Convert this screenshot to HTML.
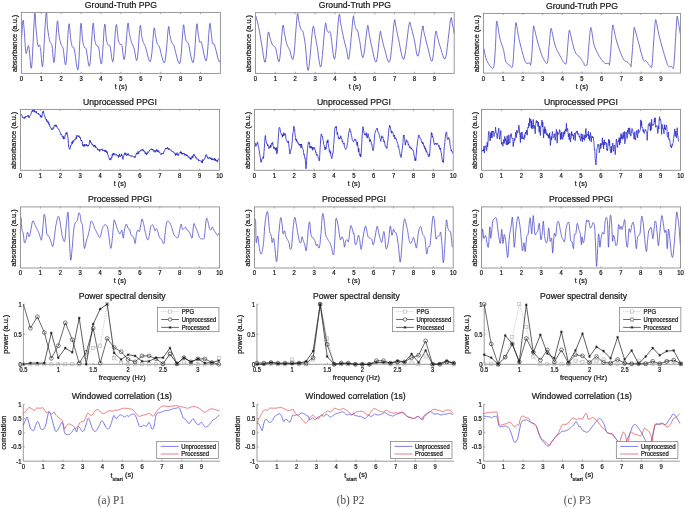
<!DOCTYPE html>
<html><head><meta charset="utf-8"><title>PPG figure</title>
<style>html,body{margin:0;padding:0;background:#fff;}body{width:685px;height:508px;overflow:hidden;}svg{display:block;}</style>
</head><body>
<svg width="685" height="508" viewBox="0 0 685 508">
<rect width="100%" height="100%" fill="#ffffff"/>
<polyline points="21.5,38.3 21.7,36.0 21.9,32.7 22.2,28.8 22.4,25.1 22.7,22.1 23.0,20.4 23.2,20.2 23.4,20.9 23.6,22.3 23.7,24.3 23.9,26.7 24.2,29.4 24.4,32.8 24.7,37.4 25.0,42.3 25.3,47.0 25.6,50.8 26.0,53.2 26.3,53.6 26.7,52.6 27.1,50.7 27.5,48.5 27.9,46.7 28.2,45.7 28.4,45.5 28.6,45.6 28.7,46.0 28.8,46.8 29.0,47.9 29.2,49.5 29.5,52.4 29.9,57.0 30.3,61.9 30.7,66.1 31.2,68.3 31.6,67.3 32.1,61.8 32.6,52.4 33.2,41.1 33.7,29.7 34.2,20.2 34.6,14.5 34.9,13.0 35.2,14.4 35.4,17.6 35.6,21.8 35.8,26.0 36.1,29.4 36.4,32.2 36.7,35.3 37.0,38.5 37.3,41.5 37.6,44.0 37.9,45.7 38.2,46.5 38.5,46.5 38.8,46.0 39.1,45.3 39.4,44.9 39.7,45.0 39.9,45.6 40.1,46.4 40.2,47.4 40.4,48.7 40.6,50.1 40.8,51.7 41.1,54.3 41.4,58.2 41.7,62.2 42.0,65.5 42.4,66.9 42.8,65.4 43.3,59.7 43.8,50.3 44.4,39.1 45.0,27.9 45.6,18.6 46.1,13.0 46.4,12.4 46.7,13.0 46.9,16.3 47.1,20.5 47.3,24.7 47.5,27.9 47.9,30.3 48.2,32.8 48.6,35.2 49.0,37.5 49.4,39.6 49.8,41.3 50.2,42.4 50.5,43.0 50.9,43.3 51.3,43.7 51.6,44.4 52.0,45.7 52.4,48.4 52.7,52.4 53.1,56.7 53.4,60.4 53.8,62.5 54.2,62.1 54.7,58.0 55.2,50.8 55.8,42.0 56.3,33.2 56.8,25.9 57.2,21.6 57.6,20.8 57.9,22.3 58.2,25.4 58.4,29.1 58.7,32.7 59.0,35.3 59.3,37.1 59.6,38.8 60.0,40.4 60.3,41.8 60.6,43.1 60.9,44.2 61.3,45.1 61.7,45.7 62.0,46.1 62.4,46.6 62.8,47.4 63.2,48.7 63.6,51.3 64.0,55.2 64.5,59.3 64.9,62.8 65.4,64.8 65.9,64.3 66.4,60.3 66.9,53.2 67.4,44.5 67.9,35.8 68.4,28.6 68.8,24.4 69.2,23.7 69.5,25.3 69.8,28.4 70.1,32.1 70.4,35.7 70.6,38.3 70.9,40.0 71.1,41.6 71.3,43.1 71.6,44.3 71.8,45.5 72.1,46.5 72.4,47.1 72.7,47.2 73.1,47.2 73.5,47.4 73.9,48.0 74.3,49.5 74.9,52.6 75.5,57.3 76.2,62.5 76.9,67.1 77.5,69.8 78.1,69.6 78.6,65.1 79.1,57.0 79.5,47.1 80.0,37.2 80.4,28.9 80.8,24.1 81.1,23.3 81.4,25.1 81.7,28.7 82.0,32.9 82.2,36.9 82.5,39.8 82.8,41.6 83.1,43.1 83.4,44.3 83.7,45.4 84.0,46.4 84.3,47.2 84.6,47.7 84.9,47.8 85.2,47.8 85.5,47.9 85.8,48.3 86.3,49.5 86.7,52.0 87.3,56.0 87.9,60.4 88.5,64.2 89.1,66.3 89.7,65.8 90.3,61.5 90.8,54.0 91.4,44.8 92.0,35.6 92.5,28.0 93.0,23.7 93.3,23.1 93.7,25.1 93.9,28.7 94.2,33.0 94.5,37.0 94.7,39.8 95.1,41.4 95.4,42.7 95.7,43.7 96.0,44.5 96.4,45.1 96.7,45.7 97.0,46.1 97.3,46.0 97.6,45.8 97.9,45.8 98.2,46.2 98.6,47.2 99.1,49.7 99.5,53.6 100.0,57.9 100.6,61.7 101.1,63.9 101.6,63.6 102.1,59.7 102.6,52.7 103.2,44.2 103.7,35.6 104.1,28.6 104.6,24.6 104.9,24.1 105.3,26.0 105.5,29.4 105.8,33.4 106.1,37.2 106.4,39.8 106.7,41.3 107.0,42.4 107.2,43.2 107.5,43.9 107.8,44.5 108.1,45.0 108.4,45.3 108.7,45.3 109.0,45.1 109.4,45.1 109.7,45.5 110.1,46.5 110.5,48.8 111.0,52.4 111.5,56.3 112.0,59.7 112.6,61.7 113.1,61.4 113.6,57.7 114.1,51.1 114.6,43.1 115.1,35.1 115.6,28.6 116.0,24.9 116.5,24.5 116.9,26.4 117.2,29.8 117.6,33.7 117.9,37.3 118.3,39.8 118.6,41.2 118.9,42.2 119.2,42.9 119.5,43.5 119.8,43.9 120.0,44.2 120.1,44.5 120.2,44.5 120.3,44.4 120.3,44.3 120.4,44.2 120.5,44.2 120.7,44.3 120.9,44.2 121.1,44.2 121.4,44.3 121.7,44.8 122.0,45.7 122.3,47.8 122.7,51.1 123.1,54.7 123.5,57.8 124.0,59.6 124.5,59.1 125.0,55.6 125.6,49.5 126.2,42.0 126.8,34.4 127.3,28.0 127.7,24.1 128.1,23.0 128.4,23.6 128.6,25.5 128.8,28.0 129.0,30.4 129.2,32.3 129.5,33.8 129.8,35.3 130.1,36.8 130.4,38.4 130.8,39.9 131.2,41.3 131.6,42.6 132.1,43.7 132.6,44.9 133.1,46.0 133.6,47.3 134.1,48.7 134.6,50.9 135.1,53.8 135.6,56.9 136.1,59.4 136.6,60.6 137.1,59.9 137.6,56.4 138.2,50.4 138.7,43.1 139.2,35.8 139.7,29.7 140.1,26.1 140.4,25.2 140.7,26.1 140.9,28.2 141.1,30.8 141.4,33.4 141.6,35.3 141.8,36.6 142.1,37.8 142.3,39.0 142.5,40.0 142.8,41.1 143.1,42.0 143.4,42.8 143.7,43.3 144.0,43.7 144.3,44.3 144.8,45.2 145.3,46.5 146.0,48.9 146.9,52.4 147.8,56.2 148.8,59.5 149.7,61.5 150.5,61.4 151.2,58.3 151.9,52.7 152.5,45.8 153.0,38.7 153.5,32.8 153.9,29.1 154.3,27.8 154.6,28.2 154.8,29.7 155.0,31.7 155.2,33.7 155.4,35.3 155.7,36.6 156.0,38.1 156.3,39.6 156.6,41.0 156.9,42.4 157.2,43.5 157.5,44.2 157.8,44.6 158.1,44.9 158.5,45.3 158.9,46.0 159.5,47.2 160.2,49.7 161.0,53.3 162.0,57.2 162.9,60.6 163.9,62.6 164.7,62.4 165.4,59.0 166.1,52.9 166.8,45.5 167.4,37.9 167.9,31.5 168.4,27.6 168.8,26.4 169.0,27.0 169.2,28.8 169.4,31.2 169.6,33.5 169.9,35.3 170.2,36.6 170.5,38.0 170.8,39.3 171.1,40.6 171.5,41.8 171.8,42.8 172.1,43.3 172.4,43.5 172.6,43.6 172.9,43.8 173.3,44.4 173.9,45.7 174.7,48.5 175.7,52.5 176.8,57.0 177.9,61.0 179.0,63.4 179.9,63.3 180.6,59.8 181.3,53.3 181.8,45.3 182.4,37.2 182.9,30.3 183.3,26.1 183.6,24.8 183.9,25.3 184.1,27.2 184.3,29.6 184.5,32.0 184.8,33.8 185.0,35.1 185.2,36.5 185.5,37.8 185.7,39.1 186.0,40.3 186.3,41.3 186.6,41.8 186.9,42.0 187.2,42.1 187.5,42.3 188.0,42.9 188.5,44.2 189.2,47.0 189.9,51.2 190.8,55.9 191.7,59.9 192.5,62.4 193.3,62.4 193.9,58.8 194.6,52.3 195.2,44.2 195.7,36.0 196.2,29.1 196.7,24.9 197.0,23.7 197.3,24.5 197.5,26.5 197.7,29.2 197.9,31.8 198.2,33.8 198.4,35.3 198.7,36.9 198.9,38.4 199.1,39.9 199.4,41.1 199.7,42.0 199.9,42.4 200.2,42.2 200.4,41.8 200.7,41.5 201.1,41.7 201.6,42.8 202.2,45.4 203.0,49.4 203.9,54.0 204.8,58.0 205.6,60.6 206.4,60.6 207.0,57.2 207.6,51.0 208.2,43.2 208.7,35.4 209.2,28.7 209.6,24.6 210.0,23.3 210.3,23.8 210.5,25.5 210.7,27.9 210.9,30.3 211.1,32.3 211.4,34.1 211.6,36.2 211.8,38.3 212.1,40.4 212.3,42.2 212.6,43.5 212.9,44.1 213.1,44.1 213.4,43.9 213.7,43.7 214.1,44.0 214.6,45.0 215.2,47.3 216.1,50.7 217.0,54.6 217.9,58.2 218.7,60.9 219.5,62.1 220.1,61.3 220.4,59.8" fill="none" stroke="#4c4cc8" stroke-width="0.8" stroke-linejoin="round" />
<rect x="21.40" y="12.40" width="199.00" height="61.00" fill="none" stroke="#8e8e8e" stroke-width="0.9"/>
<line x1="41.30" y1="73.40" x2="41.30" y2="71.80" stroke="#8e8e8e" stroke-width="0.8"/>
<line x1="41.30" y1="12.40" x2="41.30" y2="14.00" stroke="#8e8e8e" stroke-width="0.8"/>
<line x1="61.20" y1="73.40" x2="61.20" y2="71.80" stroke="#8e8e8e" stroke-width="0.8"/>
<line x1="61.20" y1="12.40" x2="61.20" y2="14.00" stroke="#8e8e8e" stroke-width="0.8"/>
<line x1="81.10" y1="73.40" x2="81.10" y2="71.80" stroke="#8e8e8e" stroke-width="0.8"/>
<line x1="81.10" y1="12.40" x2="81.10" y2="14.00" stroke="#8e8e8e" stroke-width="0.8"/>
<line x1="101.00" y1="73.40" x2="101.00" y2="71.80" stroke="#8e8e8e" stroke-width="0.8"/>
<line x1="101.00" y1="12.40" x2="101.00" y2="14.00" stroke="#8e8e8e" stroke-width="0.8"/>
<line x1="120.90" y1="73.40" x2="120.90" y2="71.80" stroke="#8e8e8e" stroke-width="0.8"/>
<line x1="120.90" y1="12.40" x2="120.90" y2="14.00" stroke="#8e8e8e" stroke-width="0.8"/>
<line x1="140.80" y1="73.40" x2="140.80" y2="71.80" stroke="#8e8e8e" stroke-width="0.8"/>
<line x1="140.80" y1="12.40" x2="140.80" y2="14.00" stroke="#8e8e8e" stroke-width="0.8"/>
<line x1="160.70" y1="73.40" x2="160.70" y2="71.80" stroke="#8e8e8e" stroke-width="0.8"/>
<line x1="160.70" y1="12.40" x2="160.70" y2="14.00" stroke="#8e8e8e" stroke-width="0.8"/>
<line x1="180.60" y1="73.40" x2="180.60" y2="71.80" stroke="#8e8e8e" stroke-width="0.8"/>
<line x1="180.60" y1="12.40" x2="180.60" y2="14.00" stroke="#8e8e8e" stroke-width="0.8"/>
<line x1="200.50" y1="73.40" x2="200.50" y2="71.80" stroke="#8e8e8e" stroke-width="0.8"/>
<line x1="200.50" y1="12.40" x2="200.50" y2="14.00" stroke="#8e8e8e" stroke-width="0.8"/>
<text font-size="5.90" text-anchor="middle" fill="#1a1a1a" stroke="#1a1a1a" stroke-width="0.22" font-family="'Liberation Sans', Arial, Helvetica, sans-serif" transform="translate(21.40 80.80) scale(1 1.100)" >0</text>
<text font-size="5.90" text-anchor="middle" fill="#1a1a1a" stroke="#1a1a1a" stroke-width="0.22" font-family="'Liberation Sans', Arial, Helvetica, sans-serif" transform="translate(41.30 80.80) scale(1 1.100)" >1</text>
<text font-size="5.90" text-anchor="middle" fill="#1a1a1a" stroke="#1a1a1a" stroke-width="0.22" font-family="'Liberation Sans', Arial, Helvetica, sans-serif" transform="translate(61.20 80.80) scale(1 1.100)" >2</text>
<text font-size="5.90" text-anchor="middle" fill="#1a1a1a" stroke="#1a1a1a" stroke-width="0.22" font-family="'Liberation Sans', Arial, Helvetica, sans-serif" transform="translate(81.10 80.80) scale(1 1.100)" >3</text>
<text font-size="5.90" text-anchor="middle" fill="#1a1a1a" stroke="#1a1a1a" stroke-width="0.22" font-family="'Liberation Sans', Arial, Helvetica, sans-serif" transform="translate(101.00 80.80) scale(1 1.100)" >4</text>
<text font-size="5.90" text-anchor="middle" fill="#1a1a1a" stroke="#1a1a1a" stroke-width="0.22" font-family="'Liberation Sans', Arial, Helvetica, sans-serif" transform="translate(120.90 80.80) scale(1 1.100)" >5</text>
<text font-size="5.90" text-anchor="middle" fill="#1a1a1a" stroke="#1a1a1a" stroke-width="0.22" font-family="'Liberation Sans', Arial, Helvetica, sans-serif" transform="translate(140.80 80.80) scale(1 1.100)" >6</text>
<text font-size="5.90" text-anchor="middle" fill="#1a1a1a" stroke="#1a1a1a" stroke-width="0.22" font-family="'Liberation Sans', Arial, Helvetica, sans-serif" transform="translate(160.70 80.80) scale(1 1.100)" >7</text>
<text font-size="5.90" text-anchor="middle" fill="#1a1a1a" stroke="#1a1a1a" stroke-width="0.22" font-family="'Liberation Sans', Arial, Helvetica, sans-serif" transform="translate(180.60 80.80) scale(1 1.100)" >8</text>
<text font-size="5.90" text-anchor="middle" fill="#1a1a1a" stroke="#1a1a1a" stroke-width="0.22" font-family="'Liberation Sans', Arial, Helvetica, sans-serif" transform="translate(200.50 80.80) scale(1 1.100)" >9</text>
<text font-size="7.20" text-anchor="middle" fill="#1a1a1a" stroke="#1a1a1a" stroke-width="0.22" font-family="'Liberation Sans', Arial, Helvetica, sans-serif" transform="translate(120.90 88.80) scale(1 1.100)" >t (s)</text>
<text font-size="8.65" text-anchor="middle" fill="#1a1a1a" stroke="#1a1a1a" stroke-width="0.22" font-family="'Liberation Sans', Arial, Helvetica, sans-serif" transform="translate(120.90 8.00) scale(1 1.100)" >Ground-Truth PPG</text>
<text x="0" y="0" font-size="6.70" text-anchor="middle" fill="#1a1a1a" stroke="#1a1a1a" stroke-width="0.22" font-family="'Liberation Sans', Arial, Helvetica, sans-serif" transform="translate(17.10 43.40) rotate(-90) scale(1.090 1)">absorbance (a.u.)</text>
<polyline points="20.7,114.0 21.0,115.0 21.3,114.9 21.6,115.2 21.9,115.2 22.2,116.1 22.5,117.5 22.8,117.4 23.1,118.1 23.4,117.9 23.7,118.2 24.0,118.2 24.3,116.9 24.6,118.6 24.9,118.2 25.2,118.0 25.5,116.2 25.8,116.0 26.1,116.4 26.4,116.5 26.7,116.8 27.0,116.3 27.3,116.5 27.6,115.5 27.9,116.0 28.2,116.0 28.5,115.4 28.8,117.6 29.1,117.2 29.4,117.7 29.7,116.2 30.0,115.6 30.3,115.2 30.6,114.7 30.9,114.4 31.2,113.4 31.5,112.2 31.8,111.2 32.1,110.9 32.4,111.6 32.7,109.9 33.0,110.5 33.3,110.7 33.6,109.6 33.9,111.0 34.2,112.2 34.5,110.3 34.8,111.7 35.1,112.0 35.4,111.6 35.7,112.6 36.0,112.2 36.3,111.3 36.6,113.0 36.9,113.1 37.2,113.5 37.5,114.0 37.8,113.6 38.1,113.7 38.4,113.1 38.7,114.7 39.0,114.2 39.3,114.6 39.6,114.4 39.9,114.9 40.2,115.6 40.5,117.2 40.8,115.2 41.1,115.7 41.4,116.9 41.7,117.5 42.0,116.2 42.3,113.4 42.6,111.7 42.9,112.6 43.2,111.2 43.5,111.2 43.8,113.4 44.1,114.4 44.4,114.7 44.7,115.8 45.0,116.9 45.3,118.6 45.6,118.8 45.9,119.5 46.2,120.1 46.5,119.2 46.8,121.7 47.1,121.9 47.4,122.0 47.7,120.7 48.0,122.0 48.3,123.4 48.6,122.0 48.9,123.6 49.2,125.0 49.5,123.9 49.8,126.6 50.1,126.5 50.4,126.7 50.7,127.7 51.0,128.5 51.3,128.5 51.6,129.6 51.9,128.6 52.2,128.7 52.5,129.6 52.8,128.6 53.1,127.6 53.4,128.4 53.7,128.3 54.0,126.4 54.3,125.2 54.6,125.7 54.9,125.3 55.2,125.0 55.5,126.2 55.8,124.7 56.1,126.6 56.4,125.2 56.7,125.8 57.0,127.2 57.3,127.9 57.6,128.1 57.9,128.1 58.2,128.4 58.5,128.9 58.8,129.7 59.1,129.8 59.4,130.7 59.7,131.5 60.0,131.7 60.3,132.9 60.6,133.4 60.9,135.0 61.2,134.4 61.5,134.5 61.8,135.0 62.1,135.8 62.4,137.0 62.7,136.6 63.0,137.6 63.3,139.1 63.6,136.4 63.9,137.8 64.2,138.9 64.5,138.8 64.8,137.6 65.1,135.0 65.4,134.7 65.7,133.9 66.0,132.8 66.3,134.4 66.6,132.8 66.9,132.3 67.2,133.2 67.5,134.5 67.8,137.1 68.1,138.4 68.4,143.2 68.7,147.0 69.0,147.2 69.3,148.7 69.6,149.4 69.9,149.0 70.2,148.7 70.5,145.6 70.8,145.7 71.1,145.0 71.4,145.0 71.7,144.8 72.0,141.7 72.3,143.8 72.6,141.5 72.9,142.5 73.2,140.5 73.5,141.2 73.8,141.5 74.1,140.1 74.4,140.0 74.7,140.0 75.0,139.2 75.3,138.6 75.6,139.3 75.9,138.6 76.2,137.1 76.5,138.6 76.8,135.4 77.1,136.5 77.4,135.6 77.7,135.9 78.0,136.4 78.3,136.3 78.6,136.8 78.9,135.6 79.2,135.9 79.5,137.7 79.8,137.0 80.1,137.3 80.4,137.5 80.7,139.9 81.0,140.0 81.3,141.1 81.6,140.0 81.9,141.4 82.2,141.6 82.5,144.2 82.8,145.8 83.1,144.6 83.4,146.6 83.7,146.3 84.0,145.4 84.3,144.1 84.6,146.3 84.9,145.1 85.2,144.6 85.5,145.2 85.8,145.1 86.1,145.8 86.4,144.0 86.7,145.6 87.0,146.0 87.3,146.2 87.6,145.2 87.9,145.0 88.2,146.3 88.5,145.5 88.8,144.9 89.1,144.8 89.4,142.6 89.7,140.4 90.0,141.5 90.3,140.5 90.6,142.6 90.9,142.6 91.2,142.3 91.5,143.1 91.8,144.1 92.1,143.9 92.4,145.1 92.7,144.5 93.0,145.6 93.3,146.2 93.6,146.6 93.9,145.3 94.2,146.6 94.5,145.0 94.8,145.8 95.1,145.4 95.4,147.7 95.7,146.3 96.0,147.4 96.3,147.5 96.6,147.8 96.9,147.6 97.2,148.5 97.5,149.8 97.8,148.9 98.1,149.6 98.4,150.3 98.7,149.8 99.0,149.4 99.3,150.1 99.6,151.4 99.9,149.4 100.2,149.8 100.5,150.4 100.8,149.9 101.1,149.2 101.4,149.8 101.7,149.5 102.0,148.8 102.3,148.8 102.6,149.7 102.9,151.0 103.2,150.2 103.5,150.1 103.8,150.4 104.1,150.0 104.4,151.1 104.7,150.5 105.0,151.7 105.3,149.9 105.6,151.9 105.9,151.4 106.2,150.7 106.5,152.8 106.8,152.4 107.1,151.5 107.4,153.0 107.7,154.4 108.0,154.5 108.3,156.1 108.6,156.9 108.9,157.7 109.2,158.2 109.5,159.6 109.8,159.7 110.1,159.9 110.4,158.2 110.7,159.9 111.0,159.6 111.3,157.7 111.6,156.9 111.9,157.7 112.2,154.2 112.5,154.9 112.8,155.6 113.1,153.0 113.4,154.0 113.7,154.9 114.0,153.6 114.3,154.2 114.6,154.7 114.9,153.6 115.2,154.3 115.5,154.7 115.8,155.3 116.1,154.9 116.4,154.9 116.7,154.5 117.0,155.2 117.3,156.2 117.6,155.8 117.9,155.2 118.2,155.3 118.5,157.7 118.8,156.7 119.1,156.3 119.4,153.9 119.7,156.1 120.0,155.9 120.3,156.7 120.6,155.7 120.9,155.3 121.2,155.6 121.5,153.8 121.8,155.9 122.1,155.4 122.4,156.7 122.7,158.8 123.0,159.4 123.3,157.0 123.6,156.3 123.9,155.4 124.2,154.2 124.5,153.3 124.8,152.8 125.1,155.0 125.4,154.4 125.7,153.0 126.0,153.1 126.3,155.4 126.6,155.1 126.9,155.7 127.2,155.1 127.5,154.1 127.8,155.0 128.1,153.4 128.4,154.4 128.7,155.0 129.0,155.5 129.3,154.8 129.6,155.3 129.9,155.8 130.2,155.8 130.5,156.1 130.8,155.9 131.1,155.6 131.4,156.5 131.7,156.1 132.0,155.6 132.3,155.8 132.6,156.4 132.9,156.4 133.2,156.7 133.5,156.7 133.8,157.0 134.1,157.1 134.4,156.5 134.7,157.7 135.0,157.9 135.3,156.9 135.6,155.7 135.9,155.5 136.2,153.9 136.5,152.9 136.8,154.0 137.1,153.2 137.4,154.2 137.7,152.7 138.0,151.5 138.3,152.4 138.6,154.0 138.9,152.3 139.2,151.2 139.5,151.2 139.8,151.6 140.1,151.2 140.4,150.5 140.7,151.1 141.0,150.2 141.3,149.5 141.6,149.8 141.9,150.5 142.2,150.1 142.5,150.3 142.8,149.0 143.1,150.0 143.4,150.8 143.7,150.4 144.0,151.7 144.3,151.6 144.6,152.1 144.9,151.6 145.2,153.9 145.5,153.3 145.8,152.5 146.1,153.0 146.4,155.0 146.7,153.1 147.0,154.0 147.3,153.9 147.6,153.0 147.9,151.8 148.2,152.3 148.5,152.1 148.8,152.2 149.1,151.5 149.4,150.5 149.7,150.7 150.0,150.0 150.3,149.5 150.6,149.2 150.9,148.9 151.2,149.7 151.5,148.8 151.8,149.4 152.1,150.0 152.4,149.2 152.7,150.2 153.0,149.3 153.3,150.5 153.6,151.6 153.9,151.7 154.2,151.4 154.5,151.2 154.8,150.3 155.1,152.4 155.4,151.4 155.7,151.6 156.0,150.1 156.3,150.5 156.6,149.4 156.9,151.4 157.2,151.7 157.5,149.9 157.8,151.4 158.1,152.2 158.4,150.7 158.7,150.9 159.0,151.6 159.3,152.2 159.6,151.9 159.9,153.1 160.2,153.4 160.5,153.9 160.8,154.1 161.1,154.8 161.4,154.7 161.7,153.1 162.0,153.7 162.3,153.4 162.6,153.4 162.9,154.0 163.2,153.9 163.5,153.8 163.8,151.7 164.1,151.2 164.4,151.2 164.7,150.4 165.0,149.6 165.3,149.1 165.6,148.1 165.9,148.9 166.2,148.7 166.5,148.5 166.8,148.3 167.1,148.8 167.4,147.2 167.7,148.5 168.0,149.3 168.3,148.3 168.6,149.5 168.9,149.5 169.2,148.5 169.5,149.4 169.8,149.4 170.1,150.0 170.4,150.3 170.7,150.0 171.0,149.6 171.3,150.4 171.6,150.8 171.9,151.7 172.2,151.7 172.5,151.4 172.8,151.2 173.1,152.1 173.4,152.1 173.7,152.1 174.0,153.0 174.3,152.9 174.6,153.5 174.9,153.9 175.2,153.4 175.5,155.5 175.8,153.7 176.1,154.8 176.4,154.3 176.7,155.0 177.0,152.7 177.3,153.9 177.6,154.6 177.9,154.8 178.2,155.9 178.5,154.3 178.8,154.5 179.1,153.5 179.4,153.2 179.7,152.7 180.0,152.2 180.3,152.6 180.6,151.6 180.9,153.3 181.2,151.8 181.5,152.9 181.8,154.3 182.1,152.9 182.4,153.2 182.7,154.2 183.0,153.5 183.3,153.1 183.6,154.0 183.9,154.3 184.2,154.4 184.5,153.5 184.8,155.3 185.1,155.4 185.4,154.4 185.7,154.7 186.0,154.4 186.3,155.9 186.6,154.7 186.9,155.9 187.2,155.3 187.5,155.4 187.8,156.6 188.1,157.3 188.4,156.6 188.7,156.3 189.0,157.6 189.3,157.3 189.6,157.8 189.9,158.9 190.2,158.8 190.5,157.7 190.8,159.7 191.1,158.0 191.4,158.4 191.7,157.2 192.0,157.4 192.3,155.9 192.6,158.1 192.9,157.6 193.2,155.5 193.5,154.9 193.8,154.3 194.1,156.0 194.4,154.8 194.7,155.5 195.0,156.0 195.3,156.9 195.6,156.9 195.9,158.1 196.2,157.4 196.5,158.6 196.8,159.1 197.1,159.4 197.4,159.0 197.7,158.7 198.0,159.6 198.3,159.4 198.6,161.1 198.9,160.8 199.2,160.4 199.5,160.4 199.8,160.4 200.1,160.4 200.4,160.8 200.7,161.3 201.0,161.5 201.3,161.5 201.6,162.6 201.9,160.5 202.2,161.0 202.5,162.8 202.8,159.4 203.1,160.1 203.4,160.4 203.7,160.1 204.0,159.8 204.3,158.9 204.6,158.8 204.9,158.0 205.2,157.9 205.5,155.4 205.8,155.5 206.1,155.2 206.4,154.5 206.7,155.1 207.0,157.1 207.3,156.9 207.6,158.3 207.9,158.7 208.2,158.5 208.5,158.7 208.8,158.2 209.1,157.2 209.4,158.1 209.7,158.4 210.0,157.7 210.3,158.1 210.6,158.8 210.9,157.7 211.2,158.9 211.5,159.9 211.8,158.3 212.1,158.9 212.4,158.8 212.7,160.1 213.0,159.3 213.3,159.8 213.6,158.8 213.9,159.4 214.2,159.5 214.5,158.4 214.8,160.7 215.1,160.5 215.4,158.8 215.7,160.7 216.0,160.3 216.3,160.9 216.6,161.1 216.9,159.9 217.2,160.9 217.5,162.1 217.8,160.5 218.1,159.8 218.4,159.0 218.7,158.5" fill="none" stroke="#2323c4" stroke-width="0.85" stroke-linejoin="round" />
<rect x="20.50" y="109.40" width="199.00" height="60.90" fill="none" stroke="#8e8e8e" stroke-width="0.9"/>
<line x1="40.40" y1="170.30" x2="40.40" y2="168.70" stroke="#8e8e8e" stroke-width="0.8"/>
<line x1="40.40" y1="109.40" x2="40.40" y2="111.00" stroke="#8e8e8e" stroke-width="0.8"/>
<line x1="60.30" y1="170.30" x2="60.30" y2="168.70" stroke="#8e8e8e" stroke-width="0.8"/>
<line x1="60.30" y1="109.40" x2="60.30" y2="111.00" stroke="#8e8e8e" stroke-width="0.8"/>
<line x1="80.20" y1="170.30" x2="80.20" y2="168.70" stroke="#8e8e8e" stroke-width="0.8"/>
<line x1="80.20" y1="109.40" x2="80.20" y2="111.00" stroke="#8e8e8e" stroke-width="0.8"/>
<line x1="100.10" y1="170.30" x2="100.10" y2="168.70" stroke="#8e8e8e" stroke-width="0.8"/>
<line x1="100.10" y1="109.40" x2="100.10" y2="111.00" stroke="#8e8e8e" stroke-width="0.8"/>
<line x1="120.00" y1="170.30" x2="120.00" y2="168.70" stroke="#8e8e8e" stroke-width="0.8"/>
<line x1="120.00" y1="109.40" x2="120.00" y2="111.00" stroke="#8e8e8e" stroke-width="0.8"/>
<line x1="139.90" y1="170.30" x2="139.90" y2="168.70" stroke="#8e8e8e" stroke-width="0.8"/>
<line x1="139.90" y1="109.40" x2="139.90" y2="111.00" stroke="#8e8e8e" stroke-width="0.8"/>
<line x1="159.80" y1="170.30" x2="159.80" y2="168.70" stroke="#8e8e8e" stroke-width="0.8"/>
<line x1="159.80" y1="109.40" x2="159.80" y2="111.00" stroke="#8e8e8e" stroke-width="0.8"/>
<line x1="179.70" y1="170.30" x2="179.70" y2="168.70" stroke="#8e8e8e" stroke-width="0.8"/>
<line x1="179.70" y1="109.40" x2="179.70" y2="111.00" stroke="#8e8e8e" stroke-width="0.8"/>
<line x1="199.60" y1="170.30" x2="199.60" y2="168.70" stroke="#8e8e8e" stroke-width="0.8"/>
<line x1="199.60" y1="109.40" x2="199.60" y2="111.00" stroke="#8e8e8e" stroke-width="0.8"/>
<text font-size="5.90" text-anchor="middle" fill="#1a1a1a" stroke="#1a1a1a" stroke-width="0.22" font-family="'Liberation Sans', Arial, Helvetica, sans-serif" transform="translate(20.50 177.70) scale(1 1.100)" >0</text>
<text font-size="5.90" text-anchor="middle" fill="#1a1a1a" stroke="#1a1a1a" stroke-width="0.22" font-family="'Liberation Sans', Arial, Helvetica, sans-serif" transform="translate(40.40 177.70) scale(1 1.100)" >1</text>
<text font-size="5.90" text-anchor="middle" fill="#1a1a1a" stroke="#1a1a1a" stroke-width="0.22" font-family="'Liberation Sans', Arial, Helvetica, sans-serif" transform="translate(60.30 177.70) scale(1 1.100)" >2</text>
<text font-size="5.90" text-anchor="middle" fill="#1a1a1a" stroke="#1a1a1a" stroke-width="0.22" font-family="'Liberation Sans', Arial, Helvetica, sans-serif" transform="translate(80.20 177.70) scale(1 1.100)" >3</text>
<text font-size="5.90" text-anchor="middle" fill="#1a1a1a" stroke="#1a1a1a" stroke-width="0.22" font-family="'Liberation Sans', Arial, Helvetica, sans-serif" transform="translate(100.10 177.70) scale(1 1.100)" >4</text>
<text font-size="5.90" text-anchor="middle" fill="#1a1a1a" stroke="#1a1a1a" stroke-width="0.22" font-family="'Liberation Sans', Arial, Helvetica, sans-serif" transform="translate(120.00 177.70) scale(1 1.100)" >5</text>
<text font-size="5.90" text-anchor="middle" fill="#1a1a1a" stroke="#1a1a1a" stroke-width="0.22" font-family="'Liberation Sans', Arial, Helvetica, sans-serif" transform="translate(139.90 177.70) scale(1 1.100)" >6</text>
<text font-size="5.90" text-anchor="middle" fill="#1a1a1a" stroke="#1a1a1a" stroke-width="0.22" font-family="'Liberation Sans', Arial, Helvetica, sans-serif" transform="translate(159.80 177.70) scale(1 1.100)" >7</text>
<text font-size="5.90" text-anchor="middle" fill="#1a1a1a" stroke="#1a1a1a" stroke-width="0.22" font-family="'Liberation Sans', Arial, Helvetica, sans-serif" transform="translate(179.70 177.70) scale(1 1.100)" >8</text>
<text font-size="5.90" text-anchor="middle" fill="#1a1a1a" stroke="#1a1a1a" stroke-width="0.22" font-family="'Liberation Sans', Arial, Helvetica, sans-serif" transform="translate(199.60 177.70) scale(1 1.100)" >9</text>
<text font-size="5.90" text-anchor="middle" fill="#1a1a1a" stroke="#1a1a1a" stroke-width="0.22" font-family="'Liberation Sans', Arial, Helvetica, sans-serif" transform="translate(219.50 177.70) scale(1 1.100)" >10</text>
<text font-size="7.20" text-anchor="middle" fill="#1a1a1a" stroke="#1a1a1a" stroke-width="0.22" font-family="'Liberation Sans', Arial, Helvetica, sans-serif" transform="translate(120.00 185.70) scale(1 1.100)" >t (s)</text>
<text font-size="8.65" text-anchor="middle" fill="#1a1a1a" stroke="#1a1a1a" stroke-width="0.22" font-family="'Liberation Sans', Arial, Helvetica, sans-serif" transform="translate(120.00 105.00) scale(1 1.100)" >Unprocessed PPGI</text>
<text x="0" y="0" font-size="6.70" text-anchor="middle" fill="#1a1a1a" stroke="#1a1a1a" stroke-width="0.22" font-family="'Liberation Sans', Arial, Helvetica, sans-serif" transform="translate(16.20 140.35) rotate(-90) scale(1.090 1)">absorbance (a.u.)</text>
<polyline points="21.2,217.4 21.2,218.2 21.3,219.4 21.3,220.8 21.3,222.2 21.4,223.6 21.5,224.8 21.6,226.0 21.7,227.1 21.8,228.1 21.9,229.1 22.1,230.0 22.2,230.8 22.4,231.4 22.6,231.8 22.7,232.1 22.9,232.5 23.1,233.0 23.3,233.8 23.5,235.1 23.7,236.8 23.8,238.6 24.0,240.4 24.2,241.8 24.5,242.7 24.7,243.0 24.9,242.8 25.2,242.2 25.4,241.5 25.7,240.6 26.0,239.7 26.2,238.6 26.5,237.1 26.7,235.5 26.9,234.1 27.2,232.9 27.4,232.3 27.7,232.4 28.0,233.2 28.2,234.2 28.5,235.4 28.7,236.3 28.9,236.8 29.1,236.8 29.3,236.7 29.5,236.3 29.6,235.8 29.9,234.9 30.1,233.8 30.5,232.0 30.9,229.7 31.3,227.0 31.8,224.5 32.2,222.4 32.7,221.1 33.1,220.8 33.5,221.2 33.8,222.0 34.2,223.1 34.6,224.1 34.9,224.8 35.2,225.4 35.4,225.8 35.6,226.3 35.9,226.7 36.1,227.2 36.4,227.8 36.7,228.5 37.1,229.2 37.5,230.0 37.9,230.7 38.3,231.5 38.6,232.3 38.9,233.1 39.2,233.8 39.4,234.6 39.6,235.4 39.9,236.1 40.1,236.8 40.3,237.5 40.6,238.5 40.8,239.5 41.1,240.1 41.3,240.3 41.6,239.7 41.8,238.2 42.1,235.9 42.4,233.1 42.6,230.1 42.9,227.3 43.1,224.8 43.3,222.7 43.5,220.5 43.6,218.4 43.8,216.6 43.9,215.2 44.1,214.4 44.3,214.2 44.5,214.4 44.7,215.1 44.9,216.1 45.1,217.4 45.3,218.9 45.5,220.9 45.8,223.6 46.0,226.5 46.3,229.4 46.6,232.0 46.8,233.8 47.0,234.8 47.3,235.2 47.5,235.3 47.8,235.2 48.0,235.1 48.3,235.3 48.5,235.7 48.8,236.1 49.0,236.6 49.3,237.1 49.5,237.6 49.8,238.2 50.0,238.9 50.3,239.7 50.5,240.4 50.8,241.2 51.0,242.0 51.3,242.7 51.5,243.5 51.8,244.5 52.0,245.4 52.3,246.1 52.5,246.5 52.8,246.4 53.0,245.8 53.3,244.7 53.5,243.3 53.8,241.7 54.0,240.0 54.2,238.2 54.5,236.5 54.7,234.5 54.9,232.4 55.2,230.3 55.4,228.2 55.7,226.3 56.1,224.5 56.5,222.5 56.9,220.6 57.3,218.9 57.6,217.6 58.0,216.7 58.3,216.3 58.5,216.3 58.8,216.6 59.0,217.2 59.2,218.0 59.5,218.9 59.7,220.0 60.0,221.4 60.2,222.9 60.5,224.6 60.7,226.3 60.9,227.8 61.2,229.4 61.4,231.0 61.6,232.6 61.9,234.1 62.1,235.5 62.4,236.8 62.8,238.0 63.2,239.3 63.6,240.5 64.0,241.3 64.3,241.7 64.7,241.2 65.0,239.8 65.2,237.6 65.5,234.9 65.7,231.9 65.9,229.0 66.2,226.3 66.4,223.8 66.7,221.2 66.9,218.5 67.2,216.1 67.4,214.2 67.6,212.9 67.8,212.3 68.0,212.2 68.1,212.5 68.2,213.2 68.3,214.4 68.4,215.9 68.5,217.9 68.6,220.5 68.7,223.4 68.8,226.7 69.0,230.2 69.1,233.8 69.3,238.1 69.6,243.2 69.8,248.6 70.1,253.6 70.4,257.6 70.6,259.8 70.9,260.2 71.1,259.1 71.4,257.0 71.6,254.3 71.9,251.3 72.1,248.7 72.4,246.0 72.6,242.8 72.9,239.5 73.1,236.2 73.4,233.3 73.6,230.8 73.8,228.9 74.1,227.4 74.3,226.1 74.5,225.1 74.8,224.2 75.1,223.4 75.4,222.7 75.8,222.2 76.2,221.9 76.6,221.5 77.0,221.1 77.3,220.4 77.6,219.3 77.9,217.8 78.1,216.3 78.3,214.8 78.6,213.6 78.8,212.9 79.1,212.8 79.3,213.0 79.6,213.6 79.9,214.3 80.1,215.1 80.3,215.9 80.5,216.7 80.6,217.7 80.7,218.8 80.8,219.9 80.9,220.9 81.0,221.9 81.2,222.5 81.5,222.8 81.7,223.1 82.0,223.6 82.3,224.6 82.5,226.3 82.8,229.3 83.1,233.3 83.4,237.8 83.7,242.2 84.0,245.8 84.3,247.9 84.6,248.5 84.9,247.8 85.3,246.4 85.6,244.6 85.9,242.7 86.3,241.2 86.6,240.0 87.0,238.8 87.4,237.5 87.8,236.3 88.2,235.0 88.5,233.8 88.8,232.5 89.1,231.2 89.3,229.9 89.5,228.7 89.8,227.4 90.0,226.3 90.2,225.3 90.4,224.2 90.6,223.1 90.7,222.2 90.9,221.5 91.2,221.1 91.4,221.0 91.7,221.2 92.0,221.6 92.4,222.2 92.7,222.8 93.0,223.4 93.2,224.0 93.5,224.7 93.7,225.5 94.0,226.4 94.2,227.1 94.4,227.8 94.7,228.4 94.9,228.9 95.2,229.4 95.4,229.9 95.7,230.3 95.9,230.8 96.2,231.3 96.4,231.8 96.6,232.2 96.9,232.7 97.1,233.2 97.4,233.8 97.8,234.4 98.1,235.2 98.5,236.1 98.9,236.8 99.3,237.3 99.7,237.5 100.0,237.3 100.2,236.9 100.5,236.2 100.7,235.5 100.9,234.6 101.1,233.8 101.4,232.9 101.6,231.8 101.8,230.8 102.1,229.7 102.3,228.7 102.6,227.8 103.0,227.1 103.3,226.4 103.7,225.9 104.1,225.4 104.5,225.0 104.9,224.8 105.3,224.8 105.6,224.8 106.0,224.9 106.4,225.2 106.8,225.7 107.1,226.3 107.4,227.2 107.7,228.2 107.9,229.4 108.1,230.7 108.4,232.2 108.6,233.8 108.8,235.6 109.1,237.8 109.4,240.1 109.6,242.3 109.9,244.2 110.1,245.7 110.3,246.8 110.5,247.6 110.6,248.2 110.8,248.4 110.9,248.4 111.1,247.9 111.3,247.1 111.5,245.8 111.7,244.2 111.9,242.4 112.1,240.4 112.3,238.2 112.6,235.7 112.8,232.7 113.1,229.5 113.4,226.5 113.6,223.8 113.8,221.9 114.0,220.7 114.1,220.0 114.2,219.8 114.3,219.9 114.4,220.1 114.6,220.4 114.8,220.8 115.0,221.4 115.2,222.2 115.5,223.1 115.8,224.0 116.0,224.8 116.3,225.6 116.5,226.3 116.7,227.1 117.0,227.8 117.2,228.6 117.5,229.3 117.9,230.1 118.2,231.1 118.6,232.0 119.0,232.8 119.4,233.5 119.8,233.8 120.1,233.7 120.4,233.2 120.7,232.6 121.0,231.8 121.3,231.2 121.5,230.8 121.6,230.5 121.7,230.3 121.8,230.2 121.8,230.1 121.9,230.3 122.0,230.8 122.2,231.8 122.4,233.3 122.6,235.0 122.8,236.6 123.1,237.8 123.3,238.2 123.5,237.8 123.7,236.6 123.8,235.0 124.0,233.2 124.2,231.5 124.5,230.1 124.7,228.8 125.0,227.5 125.3,226.3 125.6,225.2 125.9,224.5 126.3,224.1 126.6,224.3 126.9,225.0 127.2,225.9 127.6,227.0 127.9,227.9 128.2,228.6 128.5,228.8 128.7,228.9 129.0,228.8 129.2,228.8 129.4,228.9 129.7,229.3 129.9,230.1 130.1,231.1 130.4,232.2 130.6,233.4 130.9,234.5 131.2,235.3 131.5,235.7 131.9,235.9 132.3,236.0 132.7,236.0 133.0,236.3 133.4,236.8 133.7,237.8 134.1,239.2 134.4,240.8 134.7,242.2 134.9,243.2 135.2,243.5 135.4,242.7 135.6,241.2 135.8,239.3 136.0,237.2 136.2,235.2 136.4,233.8 136.6,232.8 136.9,231.9 137.1,231.2 137.4,230.7 137.6,230.3 137.9,230.1 138.1,230.1 138.4,230.5 138.6,231.0 138.9,231.5 139.1,231.7 139.4,231.5 139.6,230.9 139.9,229.9 140.1,228.7 140.4,227.3 140.6,226.0 140.8,224.8 141.1,223.7 141.2,222.4 141.4,221.1 141.6,220.0 141.8,219.2 142.0,218.9 142.3,219.2 142.6,219.9 142.9,221.0 143.2,222.3 143.5,223.6 143.8,224.8 144.1,226.0 144.3,227.2 144.5,228.5 144.8,229.8 145.0,231.0 145.3,232.3 145.7,233.7 146.0,235.2 146.4,236.7 146.8,238.0 147.2,239.1 147.5,239.7 147.8,239.9 148.1,239.7 148.3,239.3 148.6,238.6 148.8,237.7 149.0,236.8 149.3,235.5 149.5,234.0 149.8,232.3 150.0,230.6 150.3,229.0 150.5,227.8 150.8,226.9 151.0,226.2 151.3,225.7 151.5,225.3 151.8,225.0 152.0,224.8 152.3,224.8 152.5,224.9 152.8,225.1 153.0,225.5 153.3,225.9 153.5,226.3 153.8,227.0 154.0,227.9 154.2,228.8 154.5,229.7 154.7,230.4 155.0,230.8 155.2,230.7 155.5,230.3 155.7,229.7 156.0,229.1 156.2,228.7 156.5,228.6 156.7,228.8 157.0,229.3 157.2,230.0 157.5,230.7 157.7,231.5 158.0,232.3 158.2,233.1 158.4,234.0 158.7,235.0 158.9,235.9 159.2,236.8 159.5,237.5 159.8,238.0 160.1,238.4 160.5,238.7 160.9,239.0 161.3,239.3 161.7,239.7 162.1,240.5 162.5,241.5 162.9,242.5 163.2,243.4 163.6,243.8 163.9,243.5 164.2,242.3 164.5,240.3 164.7,237.9 164.9,235.4 165.2,232.9 165.4,230.8 165.7,229.0 165.9,227.2 166.1,225.5 166.4,224.0 166.6,222.8 166.9,221.9 167.2,221.3 167.6,221.0 168.0,221.0 168.4,221.2 168.8,221.5 169.1,221.9 169.5,222.3 169.9,222.9 170.3,223.6 170.6,224.5 171.0,225.4 171.4,226.3 171.7,227.5 172.1,228.8 172.5,230.2 172.9,231.5 173.2,232.8 173.6,233.8 174.0,234.6 174.3,235.2 174.7,235.7 175.1,236.1 175.5,236.4 175.8,236.8 176.2,237.1 176.6,237.4 177.0,237.7 177.4,237.9 177.7,237.8 178.1,237.5 178.4,236.8 178.6,235.8 178.9,234.6 179.1,233.3 179.3,232.0 179.6,230.8 179.8,229.5 180.1,228.1 180.3,226.7 180.6,225.5 180.8,224.5 181.0,224.1 181.3,224.3 181.5,225.2 181.8,226.3 182.0,227.6 182.3,228.7 182.5,229.3 182.8,229.5 183.0,229.5 183.3,229.4 183.5,229.1 183.8,228.8 184.0,228.6 184.3,228.3 184.5,228.0 184.8,227.6 185.0,227.3 185.3,227.1 185.5,227.1 185.8,227.3 186.0,227.8 186.3,228.4 186.5,229.1 186.8,229.6 187.0,230.1 187.2,230.3 187.5,230.3 187.7,230.3 187.9,230.4 188.2,230.5 188.5,230.8 188.8,231.4 189.2,232.1 189.6,232.9 190.0,233.8 190.4,234.6 190.7,235.3 191.0,236.0 191.3,236.8 191.5,237.5 191.7,238.0 192.0,238.1 192.2,237.5 192.5,236.0 192.7,233.6 193.0,230.8 193.2,228.0 193.5,225.6 193.7,224.1 193.9,223.5 194.2,223.6 194.4,224.1 194.6,224.8 194.9,225.6 195.2,226.3 195.5,227.0 195.9,227.8 196.3,228.7 196.7,229.6 197.0,230.6 197.4,231.5 197.8,232.5 198.2,233.6 198.5,234.8 198.9,235.8 199.3,236.8 199.7,237.5 200.0,238.0 200.4,238.4 200.8,238.7 201.1,238.8 201.5,238.9 201.9,239.0 202.3,239.1 202.7,239.1 203.1,239.1 203.5,239.0 203.8,238.7 204.1,238.2 204.3,237.6 204.5,236.9 204.5,236.1 204.6,235.0 204.7,233.8 204.9,232.3 205.1,230.3 205.3,227.8 205.6,225.1 205.8,222.5 206.1,220.3 206.4,218.9 206.6,218.3 206.9,218.3 207.1,218.8 207.4,219.5 207.6,220.3 207.8,221.1 208.1,222.0 208.3,223.2 208.6,224.5 208.8,225.8 209.1,226.9 209.3,227.8 209.6,228.5 209.8,229.1 210.1,229.5 210.3,229.9 210.6,230.0 210.8,230.1 211.1,229.8 211.3,229.2 211.6,228.5 211.8,227.8 212.1,227.3 212.3,227.1 212.6,227.2 212.8,227.7 213.1,228.2 213.3,228.9 213.6,229.5 213.8,230.1 214.0,230.5 214.3,230.8 214.5,231.2 214.7,231.5 215.0,231.9 215.3,232.3 215.6,232.8 216.0,233.4 216.4,234.1 216.8,234.6 217.2,235.1 217.5,235.3 217.8,235.2 218.1,234.8 218.4,234.3 218.7,233.8 218.9,233.3 219.0,233.0" fill="none" stroke="#4c4cc8" stroke-width="0.8" stroke-linejoin="round" />
<rect x="20.50" y="206.90" width="199.00" height="61.10" fill="none" stroke="#8e8e8e" stroke-width="0.9"/>
<line x1="40.40" y1="268.00" x2="40.40" y2="266.40" stroke="#8e8e8e" stroke-width="0.8"/>
<line x1="40.40" y1="206.90" x2="40.40" y2="208.50" stroke="#8e8e8e" stroke-width="0.8"/>
<line x1="60.30" y1="268.00" x2="60.30" y2="266.40" stroke="#8e8e8e" stroke-width="0.8"/>
<line x1="60.30" y1="206.90" x2="60.30" y2="208.50" stroke="#8e8e8e" stroke-width="0.8"/>
<line x1="80.20" y1="268.00" x2="80.20" y2="266.40" stroke="#8e8e8e" stroke-width="0.8"/>
<line x1="80.20" y1="206.90" x2="80.20" y2="208.50" stroke="#8e8e8e" stroke-width="0.8"/>
<line x1="100.10" y1="268.00" x2="100.10" y2="266.40" stroke="#8e8e8e" stroke-width="0.8"/>
<line x1="100.10" y1="206.90" x2="100.10" y2="208.50" stroke="#8e8e8e" stroke-width="0.8"/>
<line x1="120.00" y1="268.00" x2="120.00" y2="266.40" stroke="#8e8e8e" stroke-width="0.8"/>
<line x1="120.00" y1="206.90" x2="120.00" y2="208.50" stroke="#8e8e8e" stroke-width="0.8"/>
<line x1="139.90" y1="268.00" x2="139.90" y2="266.40" stroke="#8e8e8e" stroke-width="0.8"/>
<line x1="139.90" y1="206.90" x2="139.90" y2="208.50" stroke="#8e8e8e" stroke-width="0.8"/>
<line x1="159.80" y1="268.00" x2="159.80" y2="266.40" stroke="#8e8e8e" stroke-width="0.8"/>
<line x1="159.80" y1="206.90" x2="159.80" y2="208.50" stroke="#8e8e8e" stroke-width="0.8"/>
<line x1="179.70" y1="268.00" x2="179.70" y2="266.40" stroke="#8e8e8e" stroke-width="0.8"/>
<line x1="179.70" y1="206.90" x2="179.70" y2="208.50" stroke="#8e8e8e" stroke-width="0.8"/>
<line x1="199.60" y1="268.00" x2="199.60" y2="266.40" stroke="#8e8e8e" stroke-width="0.8"/>
<line x1="199.60" y1="206.90" x2="199.60" y2="208.50" stroke="#8e8e8e" stroke-width="0.8"/>
<text font-size="5.90" text-anchor="middle" fill="#1a1a1a" stroke="#1a1a1a" stroke-width="0.22" font-family="'Liberation Sans', Arial, Helvetica, sans-serif" transform="translate(20.50 275.40) scale(1 1.100)" >0</text>
<text font-size="5.90" text-anchor="middle" fill="#1a1a1a" stroke="#1a1a1a" stroke-width="0.22" font-family="'Liberation Sans', Arial, Helvetica, sans-serif" transform="translate(40.40 275.40) scale(1 1.100)" >1</text>
<text font-size="5.90" text-anchor="middle" fill="#1a1a1a" stroke="#1a1a1a" stroke-width="0.22" font-family="'Liberation Sans', Arial, Helvetica, sans-serif" transform="translate(60.30 275.40) scale(1 1.100)" >2</text>
<text font-size="5.90" text-anchor="middle" fill="#1a1a1a" stroke="#1a1a1a" stroke-width="0.22" font-family="'Liberation Sans', Arial, Helvetica, sans-serif" transform="translate(80.20 275.40) scale(1 1.100)" >3</text>
<text font-size="5.90" text-anchor="middle" fill="#1a1a1a" stroke="#1a1a1a" stroke-width="0.22" font-family="'Liberation Sans', Arial, Helvetica, sans-serif" transform="translate(100.10 275.40) scale(1 1.100)" >4</text>
<text font-size="5.90" text-anchor="middle" fill="#1a1a1a" stroke="#1a1a1a" stroke-width="0.22" font-family="'Liberation Sans', Arial, Helvetica, sans-serif" transform="translate(120.00 275.40) scale(1 1.100)" >5</text>
<text font-size="5.90" text-anchor="middle" fill="#1a1a1a" stroke="#1a1a1a" stroke-width="0.22" font-family="'Liberation Sans', Arial, Helvetica, sans-serif" transform="translate(139.90 275.40) scale(1 1.100)" >6</text>
<text font-size="5.90" text-anchor="middle" fill="#1a1a1a" stroke="#1a1a1a" stroke-width="0.22" font-family="'Liberation Sans', Arial, Helvetica, sans-serif" transform="translate(159.80 275.40) scale(1 1.100)" >7</text>
<text font-size="5.90" text-anchor="middle" fill="#1a1a1a" stroke="#1a1a1a" stroke-width="0.22" font-family="'Liberation Sans', Arial, Helvetica, sans-serif" transform="translate(179.70 275.40) scale(1 1.100)" >8</text>
<text font-size="5.90" text-anchor="middle" fill="#1a1a1a" stroke="#1a1a1a" stroke-width="0.22" font-family="'Liberation Sans', Arial, Helvetica, sans-serif" transform="translate(199.60 275.40) scale(1 1.100)" >9</text>
<text font-size="5.90" text-anchor="middle" fill="#1a1a1a" stroke="#1a1a1a" stroke-width="0.22" font-family="'Liberation Sans', Arial, Helvetica, sans-serif" transform="translate(219.50 275.40) scale(1 1.100)" >10</text>
<text font-size="7.20" text-anchor="middle" fill="#1a1a1a" stroke="#1a1a1a" stroke-width="0.22" font-family="'Liberation Sans', Arial, Helvetica, sans-serif" transform="translate(120.00 283.40) scale(1 1.100)" >t (s)</text>
<text font-size="8.65" text-anchor="middle" fill="#1a1a1a" stroke="#1a1a1a" stroke-width="0.22" font-family="'Liberation Sans', Arial, Helvetica, sans-serif" transform="translate(120.00 202.00) scale(1 1.100)" >Processed PPGI</text>
<text x="0" y="0" font-size="6.70" text-anchor="middle" fill="#1a1a1a" stroke="#1a1a1a" stroke-width="0.22" font-family="'Liberation Sans', Arial, Helvetica, sans-serif" transform="translate(16.20 237.95) rotate(-90) scale(1.090 1)">absorbance (a.u.)</text>
<line x1="23.40" y1="364.30" x2="220.93" y2="364.30" stroke="#8e8e8e" stroke-width="0.9"/>
<line x1="23.40" y1="304.20" x2="23.40" y2="364.30" stroke="#8e8e8e" stroke-width="0.9"/>
<line x1="58.30" y1="364.30" x2="58.30" y2="362.70" stroke="#8e8e8e" stroke-width="0.8"/>
<line x1="93.20" y1="364.30" x2="93.20" y2="362.70" stroke="#8e8e8e" stroke-width="0.8"/>
<line x1="128.10" y1="364.30" x2="128.10" y2="362.70" stroke="#8e8e8e" stroke-width="0.8"/>
<line x1="163.00" y1="364.30" x2="163.00" y2="362.70" stroke="#8e8e8e" stroke-width="0.8"/>
<line x1="197.90" y1="364.30" x2="197.90" y2="362.70" stroke="#8e8e8e" stroke-width="0.8"/>
<line x1="23.40" y1="334.25" x2="25.00" y2="334.25" stroke="#8e8e8e" stroke-width="0.8"/>
<line x1="23.40" y1="304.20" x2="25.00" y2="304.20" stroke="#8e8e8e" stroke-width="0.8"/>
<polyline points="23.4,364.3 30.4,364.3 37.4,364.3 44.3,364.3 51.3,364.3 58.3,364.3 65.3,364.3 72.3,364.3 79.2,364.3 86.2,357.1 93.2,348.1 100.2,345.7 107.2,304.2 114.1,358.3 121.1,363.1 128.1,364.3 135.1,364.3 142.1,364.3 149.0,364.3 156.0,364.3 163.0,364.3 170.0,353.5 177.0,364.3 183.9,362.5 190.9,364.3 197.9,364.3 204.9,364.3 211.9,364.3 218.8,358.3" fill="none" stroke="#b0b0b0" stroke-width="0.7" stroke-linejoin="round" stroke-dasharray="0.9,0.9"/>
<rect x="21.80" y="362.70" width="3.2" height="3.2" fill="none" stroke="#b4b4b4" stroke-width="0.6"/>
<rect x="28.78" y="362.70" width="3.2" height="3.2" fill="none" stroke="#b4b4b4" stroke-width="0.6"/>
<rect x="35.76" y="362.70" width="3.2" height="3.2" fill="none" stroke="#b4b4b4" stroke-width="0.6"/>
<rect x="42.74" y="362.70" width="3.2" height="3.2" fill="none" stroke="#b4b4b4" stroke-width="0.6"/>
<rect x="49.72" y="362.70" width="3.2" height="3.2" fill="none" stroke="#b4b4b4" stroke-width="0.6"/>
<rect x="56.70" y="362.70" width="3.2" height="3.2" fill="none" stroke="#b4b4b4" stroke-width="0.6"/>
<rect x="63.68" y="362.70" width="3.2" height="3.2" fill="none" stroke="#b4b4b4" stroke-width="0.6"/>
<rect x="70.66" y="362.70" width="3.2" height="3.2" fill="none" stroke="#b4b4b4" stroke-width="0.6"/>
<rect x="77.64" y="362.70" width="3.2" height="3.2" fill="none" stroke="#b4b4b4" stroke-width="0.6"/>
<rect x="84.62" y="355.49" width="3.2" height="3.2" fill="none" stroke="#b4b4b4" stroke-width="0.6"/>
<rect x="91.60" y="346.47" width="3.2" height="3.2" fill="none" stroke="#b4b4b4" stroke-width="0.6"/>
<rect x="98.58" y="344.07" width="3.2" height="3.2" fill="none" stroke="#b4b4b4" stroke-width="0.6"/>
<rect x="105.56" y="302.60" width="3.2" height="3.2" fill="none" stroke="#b4b4b4" stroke-width="0.6"/>
<rect x="112.54" y="356.69" width="3.2" height="3.2" fill="none" stroke="#b4b4b4" stroke-width="0.6"/>
<rect x="119.52" y="361.50" width="3.2" height="3.2" fill="none" stroke="#b4b4b4" stroke-width="0.6"/>
<rect x="126.50" y="362.70" width="3.2" height="3.2" fill="none" stroke="#b4b4b4" stroke-width="0.6"/>
<rect x="133.48" y="362.70" width="3.2" height="3.2" fill="none" stroke="#b4b4b4" stroke-width="0.6"/>
<rect x="140.46" y="362.70" width="3.2" height="3.2" fill="none" stroke="#b4b4b4" stroke-width="0.6"/>
<rect x="147.44" y="362.70" width="3.2" height="3.2" fill="none" stroke="#b4b4b4" stroke-width="0.6"/>
<rect x="154.42" y="362.70" width="3.2" height="3.2" fill="none" stroke="#b4b4b4" stroke-width="0.6"/>
<rect x="161.40" y="362.70" width="3.2" height="3.2" fill="none" stroke="#b4b4b4" stroke-width="0.6"/>
<rect x="168.38" y="351.88" width="3.2" height="3.2" fill="none" stroke="#b4b4b4" stroke-width="0.6"/>
<rect x="175.36" y="362.70" width="3.2" height="3.2" fill="none" stroke="#b4b4b4" stroke-width="0.6"/>
<rect x="182.34" y="360.90" width="3.2" height="3.2" fill="none" stroke="#b4b4b4" stroke-width="0.6"/>
<rect x="189.32" y="362.70" width="3.2" height="3.2" fill="none" stroke="#b4b4b4" stroke-width="0.6"/>
<rect x="196.30" y="362.70" width="3.2" height="3.2" fill="none" stroke="#b4b4b4" stroke-width="0.6"/>
<rect x="203.28" y="362.70" width="3.2" height="3.2" fill="none" stroke="#b4b4b4" stroke-width="0.6"/>
<rect x="210.26" y="362.70" width="3.2" height="3.2" fill="none" stroke="#b4b4b4" stroke-width="0.6"/>
<rect x="217.24" y="356.69" width="3.2" height="3.2" fill="none" stroke="#b4b4b4" stroke-width="0.6"/>
<polyline points="23.4,304.2 30.4,328.2 37.4,316.8 44.3,332.4 51.3,358.3 58.3,345.7 65.3,322.8 72.3,339.7 79.2,363.1 86.2,352.3 93.2,328.2 100.2,363.1 107.2,338.5 114.1,347.5 121.1,351.7 128.1,359.5 135.1,361.9 142.1,355.9 149.0,355.9 156.0,358.9 163.0,363.7 170.0,354.1 177.0,363.7 183.9,357.7 190.9,361.9 197.9,358.9 204.9,358.9 211.9,362.5 218.8,364.3" fill="none" stroke="#2a2a2a" stroke-width="0.7" stroke-linejoin="round" />
<circle cx="30.38" cy="328.24" r="1.9" fill="none" stroke="#2a2a2a" stroke-width="0.6"/>
<circle cx="37.36" cy="316.82" r="1.9" fill="none" stroke="#2a2a2a" stroke-width="0.6"/>
<circle cx="44.34" cy="332.45" r="1.9" fill="none" stroke="#2a2a2a" stroke-width="0.6"/>
<circle cx="51.32" cy="358.29" r="1.9" fill="none" stroke="#2a2a2a" stroke-width="0.6"/>
<circle cx="58.30" cy="345.67" r="1.9" fill="none" stroke="#2a2a2a" stroke-width="0.6"/>
<circle cx="65.28" cy="322.83" r="1.9" fill="none" stroke="#2a2a2a" stroke-width="0.6"/>
<circle cx="72.26" cy="339.66" r="1.9" fill="none" stroke="#2a2a2a" stroke-width="0.6"/>
<circle cx="79.24" cy="363.10" r="1.9" fill="none" stroke="#2a2a2a" stroke-width="0.6"/>
<circle cx="86.22" cy="352.28" r="1.9" fill="none" stroke="#2a2a2a" stroke-width="0.6"/>
<circle cx="93.20" cy="328.24" r="1.9" fill="none" stroke="#2a2a2a" stroke-width="0.6"/>
<circle cx="100.18" cy="363.10" r="1.9" fill="none" stroke="#2a2a2a" stroke-width="0.6"/>
<circle cx="107.16" cy="338.46" r="1.9" fill="none" stroke="#2a2a2a" stroke-width="0.6"/>
<circle cx="114.14" cy="347.47" r="1.9" fill="none" stroke="#2a2a2a" stroke-width="0.6"/>
<circle cx="121.12" cy="351.68" r="1.9" fill="none" stroke="#2a2a2a" stroke-width="0.6"/>
<circle cx="128.10" cy="359.49" r="1.9" fill="none" stroke="#2a2a2a" stroke-width="0.6"/>
<circle cx="135.08" cy="361.90" r="1.9" fill="none" stroke="#2a2a2a" stroke-width="0.6"/>
<circle cx="142.06" cy="355.89" r="1.9" fill="none" stroke="#2a2a2a" stroke-width="0.6"/>
<circle cx="149.04" cy="355.89" r="1.9" fill="none" stroke="#2a2a2a" stroke-width="0.6"/>
<circle cx="156.02" cy="358.89" r="1.9" fill="none" stroke="#2a2a2a" stroke-width="0.6"/>
<circle cx="163.00" cy="363.70" r="1.9" fill="none" stroke="#2a2a2a" stroke-width="0.6"/>
<circle cx="169.98" cy="354.08" r="1.9" fill="none" stroke="#2a2a2a" stroke-width="0.6"/>
<circle cx="176.96" cy="363.70" r="1.9" fill="none" stroke="#2a2a2a" stroke-width="0.6"/>
<circle cx="183.94" cy="357.69" r="1.9" fill="none" stroke="#2a2a2a" stroke-width="0.6"/>
<circle cx="190.92" cy="361.90" r="1.9" fill="none" stroke="#2a2a2a" stroke-width="0.6"/>
<circle cx="197.90" cy="358.89" r="1.9" fill="none" stroke="#2a2a2a" stroke-width="0.6"/>
<circle cx="204.88" cy="358.89" r="1.9" fill="none" stroke="#2a2a2a" stroke-width="0.6"/>
<circle cx="211.86" cy="362.50" r="1.9" fill="none" stroke="#2a2a2a" stroke-width="0.6"/>
<circle cx="218.84" cy="364.30" r="1.9" fill="none" stroke="#2a2a2a" stroke-width="0.6"/>
<polyline points="23.4,364.3 30.4,363.1 37.4,363.1 44.3,363.1 51.3,333.0 58.3,357.7 65.3,348.1 72.3,352.3 79.2,318.0 86.2,364.3 93.2,324.0 100.2,309.0 107.2,304.2 114.1,352.9 121.1,359.5 128.1,354.7 135.1,355.9 142.1,361.3 149.0,361.3 156.0,357.7 163.0,357.7 170.0,348.1 177.0,363.7 183.9,357.7 190.9,361.9 197.9,358.9 204.9,363.1 211.9,362.5 218.8,360.7" fill="none" stroke="#1a1a1a" stroke-width="0.7" stroke-linejoin="round" />
<path d="M23.40 362.80L23.40 365.80M22.10 363.55L24.70 365.05M24.70 363.55L22.10 365.05" stroke="#1a1a1a" stroke-width="0.55" fill="none"/><circle cx="23.40" cy="364.30" r="0.75" fill="#1a1a1a"/>
<path d="M30.38 361.60L30.38 364.60M29.08 362.35L31.68 363.85M31.68 362.35L29.08 363.85" stroke="#1a1a1a" stroke-width="0.55" fill="none"/><circle cx="30.38" cy="363.10" r="0.75" fill="#1a1a1a"/>
<path d="M37.36 361.60L37.36 364.60M36.06 362.35L38.66 363.85M38.66 362.35L36.06 363.85" stroke="#1a1a1a" stroke-width="0.55" fill="none"/><circle cx="37.36" cy="363.10" r="0.75" fill="#1a1a1a"/>
<path d="M44.34 361.60L44.34 364.60M43.04 362.35L45.64 363.85M45.64 362.35L43.04 363.85" stroke="#1a1a1a" stroke-width="0.55" fill="none"/><circle cx="44.34" cy="363.10" r="0.75" fill="#1a1a1a"/>
<path d="M51.32 331.55L51.32 334.55M50.02 332.30L52.62 333.80M52.62 332.30L50.02 333.80" stroke="#1a1a1a" stroke-width="0.55" fill="none"/><circle cx="51.32" cy="333.05" r="0.75" fill="#1a1a1a"/>
<path d="M58.30 356.19L58.30 359.19M57.00 356.94L59.60 358.44M59.60 356.94L57.00 358.44" stroke="#1a1a1a" stroke-width="0.55" fill="none"/><circle cx="58.30" cy="357.69" r="0.75" fill="#1a1a1a"/>
<path d="M65.28 346.57L65.28 349.57M63.98 347.32L66.58 348.82M66.58 347.32L63.98 348.82" stroke="#1a1a1a" stroke-width="0.55" fill="none"/><circle cx="65.28" cy="348.07" r="0.75" fill="#1a1a1a"/>
<path d="M72.26 350.78L72.26 353.78M70.96 351.53L73.56 353.03M73.56 351.53L70.96 353.03" stroke="#1a1a1a" stroke-width="0.55" fill="none"/><circle cx="72.26" cy="352.28" r="0.75" fill="#1a1a1a"/>
<path d="M79.24 316.52L79.24 319.52M77.94 317.27L80.54 318.77M80.54 317.27L77.94 318.77" stroke="#1a1a1a" stroke-width="0.55" fill="none"/><circle cx="79.24" cy="318.02" r="0.75" fill="#1a1a1a"/>
<path d="M86.22 362.80L86.22 365.80M84.92 363.55L87.52 365.05M87.52 363.55L84.92 365.05" stroke="#1a1a1a" stroke-width="0.55" fill="none"/><circle cx="86.22" cy="364.30" r="0.75" fill="#1a1a1a"/>
<path d="M93.20 322.53L93.20 325.53M91.90 323.28L94.50 324.78M94.50 323.28L91.90 324.78" stroke="#1a1a1a" stroke-width="0.55" fill="none"/><circle cx="93.20" cy="324.03" r="0.75" fill="#1a1a1a"/>
<path d="M100.18 307.51L100.18 310.51M98.88 308.26L101.48 309.76M101.48 308.26L98.88 309.76" stroke="#1a1a1a" stroke-width="0.55" fill="none"/><circle cx="100.18" cy="309.01" r="0.75" fill="#1a1a1a"/>
<path d="M107.16 302.70L107.16 305.70M105.86 303.45L108.46 304.95M108.46 303.45L105.86 304.95" stroke="#1a1a1a" stroke-width="0.55" fill="none"/><circle cx="107.16" cy="304.20" r="0.75" fill="#1a1a1a"/>
<path d="M114.14 351.38L114.14 354.38M112.84 352.13L115.44 353.63M115.44 352.13L112.84 353.63" stroke="#1a1a1a" stroke-width="0.55" fill="none"/><circle cx="114.14" cy="352.88" r="0.75" fill="#1a1a1a"/>
<path d="M121.12 357.99L121.12 360.99M119.82 358.74L122.42 360.24M122.42 358.74L119.82 360.24" stroke="#1a1a1a" stroke-width="0.55" fill="none"/><circle cx="121.12" cy="359.49" r="0.75" fill="#1a1a1a"/>
<path d="M128.10 353.18L128.10 356.18M126.80 353.93L129.40 355.43M129.40 353.93L126.80 355.43" stroke="#1a1a1a" stroke-width="0.55" fill="none"/><circle cx="128.10" cy="354.68" r="0.75" fill="#1a1a1a"/>
<path d="M135.08 354.39L135.08 357.39M133.78 355.14L136.38 356.64M136.38 355.14L133.78 356.64" stroke="#1a1a1a" stroke-width="0.55" fill="none"/><circle cx="135.08" cy="355.89" r="0.75" fill="#1a1a1a"/>
<path d="M142.06 359.80L142.06 362.80M140.76 360.55L143.36 362.05M143.36 360.55L140.76 362.05" stroke="#1a1a1a" stroke-width="0.55" fill="none"/><circle cx="142.06" cy="361.30" r="0.75" fill="#1a1a1a"/>
<path d="M149.04 359.80L149.04 362.80M147.74 360.55L150.34 362.05M150.34 360.55L147.74 362.05" stroke="#1a1a1a" stroke-width="0.55" fill="none"/><circle cx="149.04" cy="361.30" r="0.75" fill="#1a1a1a"/>
<path d="M156.02 356.19L156.02 359.19M154.72 356.94L157.32 358.44M157.32 356.94L154.72 358.44" stroke="#1a1a1a" stroke-width="0.55" fill="none"/><circle cx="156.02" cy="357.69" r="0.75" fill="#1a1a1a"/>
<path d="M163.00 356.19L163.00 359.19M161.70 356.94L164.30 358.44M164.30 356.94L161.70 358.44" stroke="#1a1a1a" stroke-width="0.55" fill="none"/><circle cx="163.00" cy="357.69" r="0.75" fill="#1a1a1a"/>
<path d="M169.98 346.57L169.98 349.57M168.68 347.32L171.28 348.82M171.28 347.32L168.68 348.82" stroke="#1a1a1a" stroke-width="0.55" fill="none"/><circle cx="169.98" cy="348.07" r="0.75" fill="#1a1a1a"/>
<path d="M176.96 362.20L176.96 365.20M175.66 362.95L178.26 364.45M178.26 362.95L175.66 364.45" stroke="#1a1a1a" stroke-width="0.55" fill="none"/><circle cx="176.96" cy="363.70" r="0.75" fill="#1a1a1a"/>
<path d="M183.94 356.19L183.94 359.19M182.64 356.94L185.24 358.44M185.24 356.94L182.64 358.44" stroke="#1a1a1a" stroke-width="0.55" fill="none"/><circle cx="183.94" cy="357.69" r="0.75" fill="#1a1a1a"/>
<path d="M190.92 360.40L190.92 363.40M189.62 361.15L192.22 362.65M192.22 361.15L189.62 362.65" stroke="#1a1a1a" stroke-width="0.55" fill="none"/><circle cx="190.92" cy="361.90" r="0.75" fill="#1a1a1a"/>
<path d="M197.90 357.39L197.90 360.39M196.60 358.14L199.20 359.64M199.20 358.14L196.60 359.64" stroke="#1a1a1a" stroke-width="0.55" fill="none"/><circle cx="197.90" cy="358.89" r="0.75" fill="#1a1a1a"/>
<path d="M204.88 361.60L204.88 364.60M203.58 362.35L206.18 363.85M206.18 362.35L203.58 363.85" stroke="#1a1a1a" stroke-width="0.55" fill="none"/><circle cx="204.88" cy="363.10" r="0.75" fill="#1a1a1a"/>
<path d="M211.86 361.00L211.86 364.00M210.56 361.75L213.16 363.25M213.16 361.75L210.56 363.25" stroke="#1a1a1a" stroke-width="0.55" fill="none"/><circle cx="211.86" cy="362.50" r="0.75" fill="#1a1a1a"/>
<path d="M218.84 359.19L218.84 362.19M217.54 359.94L220.14 361.44M220.14 359.94L217.54 361.44" stroke="#1a1a1a" stroke-width="0.55" fill="none"/><circle cx="218.84" cy="360.69" r="0.75" fill="#1a1a1a"/>
<text font-size="5.70" text-anchor="middle" fill="#1a1a1a" stroke="#1a1a1a" stroke-width="0.22" font-family="'Liberation Sans', Arial, Helvetica, sans-serif" transform="translate(23.40 372.00) scale(1 1.100)" >0.5</text>
<text font-size="5.70" text-anchor="middle" fill="#1a1a1a" stroke="#1a1a1a" stroke-width="0.22" font-family="'Liberation Sans', Arial, Helvetica, sans-serif" transform="translate(58.30 372.00) scale(1 1.100)" >1</text>
<text font-size="5.70" text-anchor="middle" fill="#1a1a1a" stroke="#1a1a1a" stroke-width="0.22" font-family="'Liberation Sans', Arial, Helvetica, sans-serif" transform="translate(93.20 372.00) scale(1 1.100)" >1.5</text>
<text font-size="5.70" text-anchor="middle" fill="#1a1a1a" stroke="#1a1a1a" stroke-width="0.22" font-family="'Liberation Sans', Arial, Helvetica, sans-serif" transform="translate(128.10 372.00) scale(1 1.100)" >2</text>
<text font-size="5.70" text-anchor="middle" fill="#1a1a1a" stroke="#1a1a1a" stroke-width="0.22" font-family="'Liberation Sans', Arial, Helvetica, sans-serif" transform="translate(163.00 372.00) scale(1 1.100)" >2.5</text>
<text font-size="5.70" text-anchor="middle" fill="#1a1a1a" stroke="#1a1a1a" stroke-width="0.22" font-family="'Liberation Sans', Arial, Helvetica, sans-serif" transform="translate(197.90 372.00) scale(1 1.100)" >3</text>
<text font-size="5.70" text-anchor="end" fill="#1a1a1a" stroke="#1a1a1a" stroke-width="0.22" font-family="'Liberation Sans', Arial, Helvetica, sans-serif" transform="translate(21.70 366.90) scale(1 1.100)" >0</text>
<text font-size="5.70" text-anchor="end" fill="#1a1a1a" stroke="#1a1a1a" stroke-width="0.22" font-family="'Liberation Sans', Arial, Helvetica, sans-serif" transform="translate(21.70 336.85) scale(1 1.100)" >0.5</text>
<text font-size="5.70" text-anchor="end" fill="#1a1a1a" stroke="#1a1a1a" stroke-width="0.22" font-family="'Liberation Sans', Arial, Helvetica, sans-serif" transform="translate(21.70 306.80) scale(1 1.100)" >1</text>
<text font-size="7.20" text-anchor="middle" fill="#1a1a1a" stroke="#1a1a1a" stroke-width="0.22" font-family="'Liberation Sans', Arial, Helvetica, sans-serif" transform="translate(122.17 380.30) scale(1 1.100)" >frequency (Hz)</text>
<text font-size="8.65" text-anchor="middle" fill="#1a1a1a" stroke="#1a1a1a" stroke-width="0.22" font-family="'Liberation Sans', Arial, Helvetica, sans-serif" transform="translate(122.17 299.00) scale(1 1.100)" >Power spectral density</text>
<text x="0" y="0" font-size="6.70" text-anchor="middle" fill="#1a1a1a" stroke="#1a1a1a" stroke-width="0.22" font-family="'Liberation Sans', Arial, Helvetica, sans-serif" transform="translate(8.40 334.25) rotate(-90) scale(1.090 1)">power (a.u.)</text>
<rect x="157.43" y="307.5" width="61.50" height="24.2" fill="#ffffff" stroke="#777" stroke-width="0.7"/>
<line x1="161.23" y1="311.60" x2="178.93" y2="311.60" stroke="#b0b0b0" stroke-width="0.7" stroke-dasharray="0.9,0.9"/>
<rect x="168.48" y="310.00" width="3.2" height="3.2" fill="#fff" stroke="#b4b4b4" stroke-width="0.6"/>
<text font-size="5.90" text-anchor="start" fill="#1a1a1a" stroke="#1a1a1a" stroke-width="0.22" font-family="'Liberation Sans', Arial, Helvetica, sans-serif" transform="translate(181.63 313.70) scale(1 1.100)" >PPG</text>
<line x1="161.23" y1="319.50" x2="178.93" y2="319.50" stroke="#2a2a2a" stroke-width="0.7"/>
<circle cx="170.08" cy="319.50" r="1.75" fill="#fff" stroke="#2a2a2a" stroke-width="0.6"/>
<text font-size="5.90" text-anchor="start" fill="#1a1a1a" stroke="#1a1a1a" stroke-width="0.22" font-family="'Liberation Sans', Arial, Helvetica, sans-serif" transform="translate(181.63 321.60) scale(1 1.100)" >Unprocessed</text>
<line x1="161.23" y1="327.40" x2="178.93" y2="327.40" stroke="#2a2a2a" stroke-width="0.7"/>
<path d="M170.08 325.90L170.08 328.90M168.78 326.65L171.38 328.15M171.38 326.65L168.78 328.15" stroke="#1a1a1a" stroke-width="0.55" fill="none"/><circle cx="170.08" cy="327.40" r="0.75" fill="#1a1a1a"/>
<text font-size="5.90" text-anchor="start" fill="#1a1a1a" stroke="#1a1a1a" stroke-width="0.22" font-family="'Liberation Sans', Arial, Helvetica, sans-serif" transform="translate(181.63 329.50) scale(1 1.100)" >Processed</text>
<line x1="23.30" y1="461.20" x2="220.31" y2="461.20" stroke="#8e8e8e" stroke-width="0.9"/>
<line x1="23.30" y1="404.30" x2="23.30" y2="461.20" stroke="#8e8e8e" stroke-width="0.9"/>
<line x1="43.10" y1="461.20" x2="43.10" y2="459.60" stroke="#8e8e8e" stroke-width="0.8"/>
<line x1="62.90" y1="461.20" x2="62.90" y2="459.60" stroke="#8e8e8e" stroke-width="0.8"/>
<line x1="82.70" y1="461.20" x2="82.70" y2="459.60" stroke="#8e8e8e" stroke-width="0.8"/>
<line x1="102.50" y1="461.20" x2="102.50" y2="459.60" stroke="#8e8e8e" stroke-width="0.8"/>
<line x1="122.30" y1="461.20" x2="122.30" y2="459.60" stroke="#8e8e8e" stroke-width="0.8"/>
<line x1="142.10" y1="461.20" x2="142.10" y2="459.60" stroke="#8e8e8e" stroke-width="0.8"/>
<line x1="161.90" y1="461.20" x2="161.90" y2="459.60" stroke="#8e8e8e" stroke-width="0.8"/>
<line x1="181.70" y1="461.20" x2="181.70" y2="459.60" stroke="#8e8e8e" stroke-width="0.8"/>
<line x1="201.50" y1="461.20" x2="201.50" y2="459.60" stroke="#8e8e8e" stroke-width="0.8"/>
<line x1="23.30" y1="446.98" x2="24.90" y2="446.98" stroke="#8e8e8e" stroke-width="0.8"/>
<line x1="23.30" y1="432.75" x2="24.90" y2="432.75" stroke="#8e8e8e" stroke-width="0.8"/>
<line x1="23.30" y1="418.52" x2="24.90" y2="418.52" stroke="#8e8e8e" stroke-width="0.8"/>
<line x1="23.30" y1="404.30" x2="24.90" y2="404.30" stroke="#8e8e8e" stroke-width="0.8"/>
<polyline points="23.3,425.3 23.5,424.7 23.9,423.8 24.3,422.8 24.8,421.8 25.2,420.8 25.6,419.9 26.0,418.9 26.4,417.9 26.8,417.3 27.1,417.1 27.5,417.6 27.8,418.5 28.0,419.8 28.3,421.1 28.6,422.3 29.0,423.5 29.3,424.8 29.7,426.1 30.0,427.3 30.4,428.3 30.9,429.0 31.3,429.6 31.8,430.0 32.3,430.3 32.7,430.5 33.0,430.6 33.3,430.6 33.6,430.5 33.9,430.2 34.1,429.8 34.4,429.1 34.7,428.2 35.0,427.2 35.3,426.2 35.6,425.3 36.0,424.4 36.4,423.5 36.8,422.6 37.2,421.9 37.6,421.6 37.9,421.6 38.2,421.9 38.5,422.5 38.8,423.1 39.1,423.8 39.4,424.6 39.6,425.6 39.9,426.6 40.2,427.6 40.5,428.3 40.9,428.8 41.2,429.1 41.6,429.3 42.0,429.4 42.3,429.5 42.7,429.4 43.0,429.3 43.4,429.1 43.8,428.8 44.1,428.3 44.5,427.7 44.9,426.9 45.3,426.0 45.7,425.0 46.1,423.8 46.4,422.5 46.7,420.9 47.0,419.3 47.3,417.7 47.5,416.4 47.8,415.2 48.0,414.1 48.3,413.1 48.5,412.4 48.7,411.9 49.0,411.8 49.3,411.9 49.6,412.2 49.9,412.7 50.2,413.4 50.6,414.3 50.9,415.4 51.3,416.7 51.6,418.0 52.0,419.4 52.4,420.8 52.8,422.4 53.2,424.0 53.6,425.5 53.9,426.8 54.3,428.0 54.7,429.1 55.0,430.1 55.4,430.8 55.7,431.3 56.2,431.4 56.6,431.2 57.1,430.9 57.5,430.4 58.0,429.8 58.4,429.1 58.9,428.1 59.3,427.1 59.8,426.2 60.2,425.3 60.6,424.5 61.0,423.7 61.4,423.0 61.8,422.5 62.1,422.3 62.4,422.5 62.6,422.9 62.8,423.5 63.0,424.3 63.2,425.3 63.4,426.6 63.7,428.2 64.0,430.0 64.3,431.6 64.7,432.8 65.0,433.5 65.4,434.0 65.7,434.2 66.1,434.4 66.5,434.5 66.8,434.7 67.2,434.7 67.6,434.7 68.0,434.6 68.4,434.5 68.8,434.4 69.3,434.3 69.7,434.1 70.2,433.8 70.6,433.5 71.0,433.1 71.4,432.7 71.7,432.3 72.1,431.8 72.4,431.3 72.8,430.7 73.2,430.0 73.6,429.2 74.0,428.7 74.3,428.3 74.6,428.2 74.8,428.2 75.0,428.4 75.2,428.7 75.4,429.0 75.6,429.6 75.8,430.5 76.1,431.3 76.3,431.9 76.6,432.0 76.9,431.4 77.2,430.2 77.5,428.9 77.8,427.6 78.1,426.8 78.4,426.5 78.7,426.6 79.0,426.9 79.3,427.2 79.6,427.5 79.9,427.9 80.2,428.4 80.5,428.8 80.8,429.3 81.0,429.8 81.3,430.2 81.6,430.7 81.9,431.1 82.2,431.4 82.5,431.6 82.9,431.5 83.2,431.3 83.6,431.0 84.0,430.5 84.3,429.8 84.7,428.8 85.1,427.7 85.5,426.4 85.9,425.0 86.3,423.8 86.6,422.6 86.9,421.4 87.2,420.2 87.5,419.3 87.7,418.6 88.0,418.3 88.3,418.3 88.6,418.5 88.9,418.9 89.2,419.4 89.5,420.0 89.8,420.8 90.1,421.8 90.4,422.8 90.7,423.8 91.1,425.0 91.6,426.3 92.0,427.6 92.5,428.9 93.0,429.8 93.4,430.4 93.9,430.9 94.3,431.2 94.7,431.3 95.2,431.3 95.6,431.1 96.1,430.8 96.5,430.3 97.0,429.7 97.4,429.0 97.9,428.3 98.3,427.4 98.8,426.4 99.2,425.4 99.7,424.6 100.1,423.7 100.5,422.8 100.8,421.9 101.2,421.2 101.6,420.8 102.0,420.8 102.3,420.9 102.6,421.3 103.0,421.8 103.4,422.3 103.8,423.1 104.2,424.0 104.7,425.0 105.2,426.0 105.6,426.8 106.1,427.5 106.5,428.0 107.0,428.5 107.4,428.9 107.8,429.0 108.2,429.0 108.6,428.9 108.9,428.6 109.3,428.1 109.6,427.5 110.0,426.8 110.4,425.8 110.8,424.7 111.2,423.5 111.6,422.3 112.0,420.9 112.4,419.3 112.9,417.7 113.4,416.4 113.8,415.6 114.3,415.7 114.7,416.4 115.1,417.3 115.6,418.2 116.0,418.6 116.5,418.5 117.0,418.1 117.4,417.5 117.9,416.9 118.3,416.4 118.7,416.0 119.1,415.7 119.4,415.3 119.7,415.1 120.0,414.9 120.2,414.8 120.2,414.7 120.3,414.8 120.3,414.8 120.5,414.9 120.8,415.0 121.1,415.1 121.4,415.2 121.8,415.4 122.2,415.6 122.6,415.9 123.1,416.3 123.5,416.7 124.0,417.0 124.5,417.1 124.9,417.0 125.4,416.6 125.8,416.2 126.3,415.8 126.7,415.6 127.2,415.7 127.6,415.9 128.1,416.1 128.5,416.3 128.9,416.4 129.3,416.2 129.5,415.9 129.8,415.5 130.1,415.2 130.4,414.9 130.8,414.7 131.3,414.5 131.7,414.3 132.2,414.2 132.7,414.1 133.1,414.2 133.6,414.2 134.1,414.4 134.5,414.6 134.9,414.9 135.2,415.3 135.5,415.8 135.8,416.5 136.1,417.1 136.4,417.9 136.7,418.7 137.0,419.6 137.3,420.5 137.6,421.5 137.9,422.3 138.2,423.2 138.4,424.0 138.7,424.8 139.0,425.5 139.4,426.1 139.8,426.4 140.2,426.6 140.7,426.6 141.1,426.6 141.6,426.5 142.0,426.3 142.5,426.0 142.9,425.7 143.4,425.4 143.8,425.3 144.3,425.4 144.8,425.8 145.2,426.1 145.7,426.4 146.1,426.5 146.4,426.3 146.7,426.0 147.0,425.5 147.3,425.0 147.5,424.6 147.8,424.1 148.1,423.4 148.4,422.9 148.7,422.5 149.0,422.3 149.3,422.6 149.6,423.1 149.9,423.8 150.2,424.6 150.5,425.3 150.8,426.1 151.1,427.0 151.4,427.8 151.7,428.6 152.0,429.0 152.3,429.2 152.6,429.2 152.9,429.1 153.2,428.7 153.5,428.3 153.7,427.7 153.9,426.9 154.1,426.0 154.3,425.0 154.5,423.8 154.8,422.5 155.0,420.8 155.2,419.2 155.5,417.6 155.7,416.4 156.0,415.5 156.3,414.8 156.6,414.2 156.9,413.8 157.2,413.4 157.6,413.1 158.1,412.9 158.5,412.8 159.0,412.8 159.5,412.7 159.9,412.5 160.3,412.4 160.7,412.2 161.2,412.1 161.7,411.9 162.2,411.7 162.8,411.4 163.4,411.2 164.1,410.9 164.7,410.7 165.3,410.6 165.9,410.6 166.5,410.5 167.1,410.5 167.6,410.4 168.2,410.3 168.8,410.2 169.4,410.0 170.0,409.9 170.6,409.7 171.2,409.5 171.9,409.3 172.5,409.0 173.1,408.8 173.6,408.6 174.1,408.5 174.6,408.4 175.0,408.3 175.4,408.3 175.8,408.2 176.3,408.1 176.8,408.0 177.2,407.9 177.7,407.8 178.1,407.7 178.4,407.7 178.7,407.7 179.0,407.7 179.3,407.9 179.6,408.2 179.8,408.7 180.1,409.3 180.4,410.1 180.7,411.0 181.0,411.9 181.4,413.0 181.9,414.3 182.4,415.7 182.8,416.9 183.3,417.9 183.7,418.4 184.2,418.7 184.6,418.9 185.1,419.0 185.5,419.4 186.0,419.9 186.4,420.5 186.9,421.2 187.3,421.8 187.7,422.3 188.1,422.7 188.4,423.1 188.6,423.4 188.9,423.6 189.2,423.5 189.6,423.2 190.0,422.7 190.4,422.1 190.8,421.4 191.2,420.8 191.6,420.3 192.0,419.7 192.5,419.2 192.9,418.8 193.3,418.6 193.6,418.8 193.9,419.1 194.1,419.7 194.4,420.3 194.7,420.8 195.1,421.4 195.5,422.1 195.9,422.8 196.3,423.4 196.7,423.8 197.1,424.2 197.6,424.4 198.0,424.6 198.5,424.6 198.9,424.6 199.4,424.3 199.8,423.7 200.3,423.1 200.8,422.6 201.1,422.3 201.5,422.4 201.8,422.6 202.0,422.9 202.3,423.4 202.6,423.8 203.0,424.4 203.5,425.1 203.9,425.8 204.4,426.4 204.9,426.8 205.3,427.0 205.8,427.0 206.2,426.9 206.7,426.7 207.1,426.5 207.5,426.3 208.0,425.9 208.4,425.5 208.8,425.1 209.3,424.6 209.9,423.9 210.5,423.1 211.1,422.3 211.7,421.5 212.3,420.8 212.9,420.3 213.5,419.8 214.2,419.4 214.7,419.0 215.3,418.6 215.8,418.2 216.3,417.7 216.7,417.2 217.1,416.8 217.5,416.4 218.0,416.0 218.4,415.7 218.8,415.3 219.2,415.1 219.5,414.9" fill="none" stroke="#4848e0" stroke-width="0.75" stroke-linejoin="round" />
<polyline points="23.3,413.4 23.5,413.2 23.9,412.9 24.3,412.6 24.8,412.3 25.2,411.9 25.6,411.5 26.0,411.1 26.4,410.6 26.8,410.1 27.1,409.7 27.5,409.2 27.9,408.6 28.2,408.1 28.6,407.7 28.9,407.4 29.3,407.4 29.6,407.5 30.0,407.7 30.4,408.0 30.7,408.2 31.1,408.4 31.5,408.6 31.9,408.8 32.3,409.0 32.7,409.2 33.0,409.5 33.4,409.9 33.7,410.2 34.1,410.4 34.4,410.4 34.8,410.2 35.2,409.7 35.6,409.1 36.0,408.5 36.4,408.2 36.8,408.0 37.3,408.0 37.7,408.1 38.2,408.2 38.6,408.2 39.1,408.2 39.5,408.2 40.0,408.2 40.4,408.2 40.8,408.2 41.2,408.1 41.6,407.9 41.9,407.7 42.3,407.6 42.6,407.7 43.0,408.1 43.4,408.6 43.8,409.2 44.2,409.9 44.6,410.4 45.0,410.9 45.5,411.5 45.9,412.0 46.4,412.4 46.8,412.7 47.1,412.7 47.5,412.5 47.7,412.2 48.0,412.0 48.3,411.9 48.6,412.0 48.9,412.1 49.2,412.2 49.5,412.4 49.8,412.7 50.1,412.9 50.4,413.3 50.7,413.7 51.0,414.0 51.3,414.1 51.6,414.2 51.9,414.0 52.2,413.9 52.5,413.6 52.8,413.4 53.1,413.1 53.4,412.6 53.7,412.2 53.9,411.9 54.2,411.9 54.5,412.2 54.8,412.8 55.1,413.5 55.4,414.3 55.7,414.9 56.1,415.4 56.6,415.9 57.0,416.3 57.5,416.7 58.0,417.1 58.4,417.5 58.9,417.8 59.3,418.1 59.8,418.3 60.2,418.6 60.6,418.9 61.0,419.1 61.3,419.3 61.7,419.7 62.0,420.1 62.3,420.7 62.5,421.4 62.7,422.1 62.9,422.9 63.2,423.8 63.5,424.9 63.8,426.2 64.1,427.5 64.4,428.5 64.7,429.0 65.0,428.9 65.3,428.4 65.5,427.6 65.8,426.7 66.2,426.1 66.5,425.6 66.8,425.2 67.2,424.8 67.6,424.5 67.9,424.3 68.3,424.1 68.7,424.0 69.1,424.0 69.5,424.1 69.9,424.1 70.3,424.2 70.7,424.4 71.1,424.6 71.4,424.8 71.8,425.0 72.2,425.2 72.5,425.4 72.9,425.5 73.2,425.8 73.6,426.1 74.0,426.5 74.3,427.0 74.7,427.6 75.0,428.0 75.4,428.3 75.7,428.4 76.0,428.3 76.4,428.1 76.7,427.9 77.0,427.5 77.4,427.1 77.7,426.5 78.1,425.9 78.4,425.2 78.8,424.6 79.2,423.9 79.7,423.2 80.1,422.6 80.6,422.0 81.0,421.6 81.5,421.5 81.9,421.6 82.4,421.7 82.8,421.8 83.3,421.6 83.7,421.1 84.2,420.4 84.6,419.6 85.1,418.7 85.5,417.9 86.0,416.9 86.4,415.8 86.9,414.8 87.3,413.9 87.7,413.4 88.2,413.3 88.6,413.6 89.1,414.1 89.5,414.6 90.0,414.9 90.4,415.0 90.9,415.1 91.3,415.2 91.8,415.1 92.2,414.9 92.7,414.5 93.1,413.9 93.6,413.2 94.0,412.5 94.4,411.9 94.9,411.4 95.3,410.8 95.8,410.3 96.2,409.9 96.7,409.7 97.1,409.6 97.6,409.7 98.0,409.9 98.5,410.1 98.9,410.4 99.4,410.8 99.8,411.3 100.3,411.8 100.7,412.3 101.1,412.7 101.6,412.9 102.0,413.1 102.5,413.3 102.9,413.4 103.4,413.4 103.8,413.4 104.3,413.2 104.7,413.1 105.2,412.9 105.6,412.7 106.1,412.4 106.5,412.1 107.0,411.7 107.4,411.4 107.8,411.2 108.3,411.0 108.7,410.9 109.2,410.8 109.6,410.7 110.1,410.7 110.5,410.8 111.0,410.9 111.4,411.0 111.9,411.1 112.3,411.2 112.8,411.1 113.2,410.9 113.7,410.7 114.1,410.6 114.6,410.4 115.0,410.3 115.4,410.3 115.9,410.2 116.3,410.2 116.8,410.1 117.3,410.0 117.7,410.0 118.2,409.9 118.7,409.8 119.0,409.7 119.3,409.6 119.4,409.5 119.6,409.4 119.7,409.3 120.0,409.2 120.4,409.1 120.8,409.0 121.3,408.9 121.8,408.7 122.2,408.6 122.7,408.5 123.1,408.4 123.5,408.3 124.0,408.2 124.5,408.2 125.0,408.2 125.6,408.3 126.2,408.4 126.8,408.5 127.4,408.6 128.1,408.7 128.7,408.7 129.3,408.8 129.9,408.8 130.4,408.9 130.9,409.0 131.4,409.1 131.8,409.3 132.2,409.4 132.7,409.7 133.1,410.0 133.5,410.4 134.0,410.9 134.4,411.4 134.9,411.9 135.3,412.5 135.8,413.1 136.2,413.8 136.7,414.4 137.1,414.9 137.6,415.3 138.0,415.7 138.5,416.0 138.9,416.2 139.4,416.4 139.8,416.4 140.2,416.2 140.6,416.0 141.1,415.8 141.6,415.6 142.2,415.5 142.8,415.3 143.4,415.2 144.0,415.0 144.6,414.9 145.1,414.7 145.5,414.6 145.9,414.4 146.4,414.3 146.8,414.1 147.2,414.0 147.7,413.7 148.1,413.5 148.6,413.4 149.0,413.4 149.5,413.6 149.9,413.8 150.4,414.2 150.8,414.6 151.3,414.9 151.7,415.2 152.2,415.6 152.6,416.0 153.1,416.1 153.5,416.1 153.9,415.7 154.4,415.0 154.8,414.2 155.3,413.4 155.7,412.7 156.2,412.0 156.6,411.4 157.1,410.8 157.5,410.2 158.0,409.7 158.4,409.2 158.9,408.7 159.3,408.2 159.8,407.8 160.2,407.4 160.6,407.1 161.1,406.9 161.5,406.6 162.0,406.4 162.4,406.3 162.9,406.1 163.3,406.0 163.7,406.0 164.2,405.9 164.7,406.0 165.2,406.1 165.8,406.2 166.4,406.4 167.0,406.6 167.6,406.7 168.2,406.7 168.8,406.6 169.4,406.5 170.0,406.4 170.6,406.3 171.2,406.2 171.9,406.1 172.5,406.1 173.1,406.0 173.6,406.0 174.1,405.9 174.5,405.8 174.9,405.7 175.4,405.7 175.8,405.7 176.4,405.7 177.0,405.8 177.6,406.0 178.3,406.1 178.8,406.3 179.3,406.4 179.8,406.4 180.2,406.5 180.6,406.6 181.0,406.7 181.5,406.8 181.9,406.9 182.4,407.0 182.8,407.0 183.3,407.1 183.7,407.3 184.2,407.4 184.6,407.5 185.1,407.6 185.5,407.7 186.0,407.9 186.4,408.0 186.9,408.1 187.3,408.2 187.7,408.2 188.2,408.1 188.6,408.0 189.1,407.8 189.5,407.6 190.0,407.4 190.4,407.3 190.9,407.1 191.3,406.9 191.8,406.8 192.2,406.7 192.7,406.6 193.1,406.6 193.6,406.6 194.0,406.7 194.4,406.7 194.9,406.8 195.3,406.8 195.8,406.9 196.2,407.0 196.7,407.1 197.1,407.3 197.6,407.5 198.0,407.7 198.5,407.9 198.9,408.2 199.4,408.4 199.8,408.7 200.3,409.0 200.7,409.3 201.1,409.7 201.6,410.1 202.0,410.6 202.5,411.1 202.9,411.6 203.4,411.9 203.8,412.1 204.3,412.1 204.7,412.1 205.2,412.0 205.6,411.9 206.1,411.7 206.5,411.4 207.0,411.1 207.4,410.7 207.8,410.4 208.3,410.2 208.7,409.9 209.2,409.6 209.6,409.4 210.1,409.2 210.5,409.1 210.9,409.0 211.4,408.9 211.8,408.9 212.3,408.9 212.9,409.0 213.5,409.2 214.1,409.3 214.7,409.5 215.3,409.7 215.8,409.8 216.3,410.0 216.7,410.2 217.1,410.3 217.5,410.4 218.0,410.4 218.4,410.4 218.8,410.3 219.2,410.2 219.5,410.1" fill="none" stroke="#e04848" stroke-width="0.75" stroke-linejoin="round" />
<text font-size="5.90" text-anchor="middle" fill="#1a1a1a" stroke="#1a1a1a" stroke-width="0.22" font-family="'Liberation Sans', Arial, Helvetica, sans-serif" transform="translate(23.30 469.10) scale(1 1.100)" >0</text>
<text font-size="5.90" text-anchor="middle" fill="#1a1a1a" stroke="#1a1a1a" stroke-width="0.22" font-family="'Liberation Sans', Arial, Helvetica, sans-serif" transform="translate(43.10 469.10) scale(1 1.100)" >1</text>
<text font-size="5.90" text-anchor="middle" fill="#1a1a1a" stroke="#1a1a1a" stroke-width="0.22" font-family="'Liberation Sans', Arial, Helvetica, sans-serif" transform="translate(62.90 469.10) scale(1 1.100)" >2</text>
<text font-size="5.90" text-anchor="middle" fill="#1a1a1a" stroke="#1a1a1a" stroke-width="0.22" font-family="'Liberation Sans', Arial, Helvetica, sans-serif" transform="translate(82.70 469.10) scale(1 1.100)" >3</text>
<text font-size="5.90" text-anchor="middle" fill="#1a1a1a" stroke="#1a1a1a" stroke-width="0.22" font-family="'Liberation Sans', Arial, Helvetica, sans-serif" transform="translate(102.50 469.10) scale(1 1.100)" >4</text>
<text font-size="5.90" text-anchor="middle" fill="#1a1a1a" stroke="#1a1a1a" stroke-width="0.22" font-family="'Liberation Sans', Arial, Helvetica, sans-serif" transform="translate(122.30 469.10) scale(1 1.100)" >5</text>
<text font-size="5.90" text-anchor="middle" fill="#1a1a1a" stroke="#1a1a1a" stroke-width="0.22" font-family="'Liberation Sans', Arial, Helvetica, sans-serif" transform="translate(142.10 469.10) scale(1 1.100)" >6</text>
<text font-size="5.90" text-anchor="middle" fill="#1a1a1a" stroke="#1a1a1a" stroke-width="0.22" font-family="'Liberation Sans', Arial, Helvetica, sans-serif" transform="translate(161.90 469.10) scale(1 1.100)" >7</text>
<text font-size="5.90" text-anchor="middle" fill="#1a1a1a" stroke="#1a1a1a" stroke-width="0.22" font-family="'Liberation Sans', Arial, Helvetica, sans-serif" transform="translate(181.70 469.10) scale(1 1.100)" >8</text>
<text font-size="5.90" text-anchor="middle" fill="#1a1a1a" stroke="#1a1a1a" stroke-width="0.22" font-family="'Liberation Sans', Arial, Helvetica, sans-serif" transform="translate(201.50 469.10) scale(1 1.100)" >9</text>
<text font-size="5.90" text-anchor="end" fill="#1a1a1a" stroke="#1a1a1a" stroke-width="0.22" font-family="'Liberation Sans', Arial, Helvetica, sans-serif" transform="translate(21.50 406.80) scale(1 1.100)" >1</text>
<text font-size="5.90" text-anchor="end" fill="#1a1a1a" stroke="#1a1a1a" stroke-width="0.22" font-family="'Liberation Sans', Arial, Helvetica, sans-serif" transform="translate(21.50 421.02) scale(1 1.100)" >0.5</text>
<text font-size="5.90" text-anchor="end" fill="#1a1a1a" stroke="#1a1a1a" stroke-width="0.22" font-family="'Liberation Sans', Arial, Helvetica, sans-serif" transform="translate(21.50 435.25) scale(1 1.100)" >0</text>
<text font-size="5.90" text-anchor="end" fill="#1a1a1a" stroke="#1a1a1a" stroke-width="0.22" font-family="'Liberation Sans', Arial, Helvetica, sans-serif" transform="translate(21.50 449.48) scale(1 1.100)" >-0.5</text>
<text font-size="5.90" text-anchor="end" fill="#1a1a1a" stroke="#1a1a1a" stroke-width="0.22" font-family="'Liberation Sans', Arial, Helvetica, sans-serif" transform="translate(21.50 463.70) scale(1 1.100)" >-1</text>
<text font-size="7.20" text-anchor="middle" fill="#1a1a1a" stroke="#1a1a1a" stroke-width="0.22" font-family="'Liberation Sans', Arial, Helvetica, sans-serif" transform="translate(122.01 477.80) scale(1 1.100)">t<tspan font-size="5.4" dy="3.3">start</tspan><tspan font-size="7.2" dy="-3.6"> (s)</tspan></text>
<text font-size="8.65" text-anchor="middle" fill="#1a1a1a" stroke="#1a1a1a" stroke-width="0.22" font-family="'Liberation Sans', Arial, Helvetica, sans-serif" transform="translate(121.81 398.80) scale(1 1.100)" >Windowed correlation (1s)</text>
<text x="0" y="0" font-size="6.70" text-anchor="middle" fill="#1a1a1a" stroke="#1a1a1a" stroke-width="0.22" font-family="'Liberation Sans', Arial, Helvetica, sans-serif" transform="translate(6.30 432.75) rotate(-90) scale(1.090 1)">correlation</text>
<rect x="156.71" y="441.5" width="61.60" height="17.1" fill="#ffffff" stroke="#777" stroke-width="0.7"/>
<line x1="160.71" y1="446.40" x2="178.71" y2="446.40" stroke="#4848e0" stroke-width="0.7"/>
<text font-size="5.90" text-anchor="start" fill="#1a1a1a" stroke="#1a1a1a" stroke-width="0.22" font-family="'Liberation Sans', Arial, Helvetica, sans-serif" transform="translate(181.31 448.50) scale(1 1.100)" >Unprocessed</text>
<line x1="160.71" y1="454.00" x2="178.71" y2="454.00" stroke="#e04848" stroke-width="0.7"/>
<text font-size="5.90" text-anchor="start" fill="#1a1a1a" stroke="#1a1a1a" stroke-width="0.22" font-family="'Liberation Sans', Arial, Helvetica, sans-serif" transform="translate(181.31 456.10) scale(1 1.100)" >Processed</text>
<text font-size="11.20" text-anchor="middle" fill="#4a4a4a" stroke="#4a4a4a" stroke-width="0.00" font-family="'Liberation Serif', 'Times New Roman', serif" transform="translate(111.30 504.20) scale(1 1.100)" >(a) P1</text>
<polyline points="255.8,16.0 256.1,17.0 256.5,18.4 256.9,20.1 257.5,22.1 258.0,24.2 258.5,26.4 258.9,28.7 259.4,31.3 259.9,34.0 260.4,36.8 260.9,39.8 261.4,42.8 262.0,46.4 262.7,50.9 263.3,55.4 264.0,59.4 264.6,61.9 265.2,62.4 265.7,60.0 266.3,55.0 266.8,48.6 267.3,42.1 267.7,36.5 268.1,33.1 268.5,31.9 268.8,32.2 269.1,33.4 269.4,35.2 269.7,36.9 270.1,38.3 270.5,39.4 270.9,40.6 271.3,41.8 271.7,43.0 272.2,44.1 272.6,45.0 273.1,45.6 273.5,45.9 274.0,46.1 274.5,46.3 275.0,46.9 275.6,48.0 276.2,50.2 276.8,53.5 277.4,57.0 278.1,60.1 278.7,61.8 279.3,61.4 279.9,57.8 280.5,51.7 281.1,44.2 281.7,36.7 282.3,30.3 282.7,26.4 283.1,25.1 283.4,25.6 283.7,27.3 284.0,29.6 284.2,31.9 284.5,33.8 284.9,35.4 285.2,37.1 285.6,39.0 285.9,40.8 286.3,42.5 286.8,43.9 287.2,45.2 287.7,46.3 288.2,47.2 288.7,48.2 289.2,49.1 289.7,50.2 290.3,52.0 290.9,54.5 291.6,57.1 292.2,59.0 292.8,59.6 293.5,57.9 294.1,53.2 294.8,45.6 295.4,36.6 296.1,27.7 296.7,20.1 297.2,15.2 297.6,13.5 297.9,13.8 298.2,15.4 298.4,17.8 298.7,20.2 299.0,21.9 299.3,23.2 299.6,24.5 299.9,25.9 300.2,27.2 300.6,28.4 300.9,29.4 301.3,30.0 301.6,30.3 302.0,30.5 302.4,30.7 302.8,31.3 303.1,32.3 303.5,33.8 303.9,35.6 304.2,37.7 304.6,40.1 305.0,42.7 305.4,45.7 305.8,50.0 306.3,55.6 306.7,61.5 307.2,66.7 307.8,70.0 308.3,70.3 309.0,66.5 309.8,59.3 310.6,50.2 311.4,40.8 312.2,32.8 312.8,27.9 313.3,26.2 313.7,26.5 314.1,28.2 314.4,30.7 314.7,33.2 315.0,35.3 315.4,37.0 315.7,38.7 316.1,40.5 316.4,42.5 316.8,44.8 317.3,47.2 317.8,50.7 318.4,55.4 319.0,60.3 319.7,64.4 320.3,66.8 321.0,66.6 321.7,62.6 322.4,55.5 323.2,46.6 323.9,37.6 324.6,29.8 325.2,24.9 325.6,23.1 326.0,23.3 326.2,24.8 326.5,26.8 326.7,28.9 327.0,30.1 327.2,30.7 327.5,31.1 327.7,31.5 327.9,31.8 328.2,32.0 328.4,32.3 328.8,32.4 329.1,32.0 329.4,31.6 329.8,31.6 330.2,32.2 330.7,33.8 331.2,37.5 331.9,43.0 332.6,49.3 333.3,54.9 334.0,58.6 334.7,59.1 335.4,55.3 336.2,47.9 336.9,38.7 337.7,29.1 338.3,21.0 338.9,16.0 339.3,14.2 339.6,14.5 339.9,16.1 340.1,18.6 340.3,21.2 340.7,23.4 341.1,25.3 341.5,27.5 341.9,29.8 342.4,32.2 342.9,34.6 343.3,36.8 343.8,38.9 344.3,41.0 344.8,43.0 345.3,45.0 345.8,46.9 346.3,48.7 346.8,51.0 347.2,53.8 347.6,56.6 348.0,58.6 348.5,59.3 349.0,57.9 349.6,53.7 350.4,46.8 351.1,38.5 351.9,30.1 352.5,23.0 353.0,18.2 353.4,16.1 353.6,15.7 353.7,16.4 353.8,17.8 353.9,19.3 354.0,20.4 354.2,21.2 354.4,22.2 354.6,23.4 354.8,24.5 355.1,25.5 355.3,26.4 355.4,27.1 355.6,27.6 355.7,28.1 355.9,28.6 356.0,29.0 356.2,29.4 356.4,29.6 356.7,29.6 356.9,29.5 357.2,29.6 357.4,30.0 357.7,30.8 358.0,32.2 358.4,33.9 358.7,36.0 359.1,38.2 359.5,40.5 360.0,42.8 360.4,45.6 360.9,49.1 361.5,52.7 362.0,55.7 362.6,57.5 363.2,57.3 363.9,54.4 364.7,49.1 365.4,42.6 366.2,35.9 366.9,30.2 367.4,26.7 367.8,25.4 368.0,25.5 368.2,26.7 368.4,28.4 368.6,30.4 368.9,32.3 369.3,34.3 369.7,36.6 370.2,39.2 370.7,41.9 371.3,44.7 371.9,47.2 372.5,50.2 373.3,53.7 374.1,57.3 374.8,60.2 375.6,61.9 376.3,61.8 377.0,59.1 377.7,54.1 378.4,47.9 379.0,41.5 379.6,36.1 380.1,32.6 380.4,31.3 380.7,31.3 380.8,32.1 381.0,33.6 381.2,35.3 381.5,36.8 381.9,38.3 382.3,40.2 382.8,42.2 383.3,44.4 383.9,46.6 384.5,48.7 385.3,51.4 386.1,54.8 387.0,58.3 388.0,61.0 388.9,62.3 389.7,61.4 390.6,57.3 391.4,50.5 392.2,42.2 393.0,33.8 393.6,26.6 394.2,21.9 394.6,19.9 394.9,19.6 395.0,20.4 395.2,22.0 395.4,23.9 395.7,25.6 396.1,27.3 396.5,29.4 396.9,31.7 397.5,34.3 398.0,37.0 398.7,39.8 399.4,43.3 400.2,47.9 401.1,52.5 402.1,56.5 403.0,59.0 403.9,59.1 404.8,56.0 405.7,50.1 406.7,42.6 407.6,35.0 408.4,28.4 409.1,24.1 409.6,22.4 410.0,22.2 410.3,23.1 410.6,24.6 410.9,26.3 411.3,27.9 411.8,29.3 412.2,31.1 412.7,33.0 413.2,35.2 413.8,37.4 414.3,39.8 414.9,42.8 415.5,46.6 416.1,50.5 416.7,53.9 417.4,56.0 418.0,56.2 418.8,53.6 419.6,48.6 420.4,42.3 421.2,35.9 421.9,30.5 422.5,27.1 422.9,25.9 423.1,26.0 423.3,27.0 423.4,28.6 423.6,30.5 424.0,32.3 424.5,34.3 425.0,36.6 425.7,39.2 426.3,42.0 427.0,44.7 427.7,47.2 428.4,50.1 429.2,53.4 430.0,56.8 430.7,59.5 431.5,61.1 432.2,60.9 432.8,58.2 433.5,53.3 434.1,47.2 434.6,41.0 435.1,35.7 435.6,32.3 436.0,31.1 436.3,31.2 436.5,32.1 436.8,33.6 437.0,35.3 437.4,36.8 437.8,38.2 438.2,39.8 438.7,41.6 439.2,43.5 439.7,45.4 440.4,47.2 441.1,49.6 441.9,52.6 442.8,55.6 443.8,58.0 444.7,59.0 445.6,57.9 446.4,53.9 447.3,47.3 448.2,39.2 449.1,31.1 449.9,24.2 450.5,19.7 451.0,17.8 451.3,17.5 451.5,18.4 451.8,20.0 452.0,21.8 452.3,23.4 452.6,25.1 453.1,27.2 453.5,29.6 453.9,31.9 454.2,33.6" fill="none" stroke="#4c4cc8" stroke-width="0.8" stroke-linejoin="round" />
<rect x="255.50" y="12.70" width="198.70" height="60.70" fill="none" stroke="#8e8e8e" stroke-width="0.9"/>
<line x1="275.37" y1="73.40" x2="275.37" y2="71.80" stroke="#8e8e8e" stroke-width="0.8"/>
<line x1="275.37" y1="12.70" x2="275.37" y2="14.30" stroke="#8e8e8e" stroke-width="0.8"/>
<line x1="295.24" y1="73.40" x2="295.24" y2="71.80" stroke="#8e8e8e" stroke-width="0.8"/>
<line x1="295.24" y1="12.70" x2="295.24" y2="14.30" stroke="#8e8e8e" stroke-width="0.8"/>
<line x1="315.11" y1="73.40" x2="315.11" y2="71.80" stroke="#8e8e8e" stroke-width="0.8"/>
<line x1="315.11" y1="12.70" x2="315.11" y2="14.30" stroke="#8e8e8e" stroke-width="0.8"/>
<line x1="334.98" y1="73.40" x2="334.98" y2="71.80" stroke="#8e8e8e" stroke-width="0.8"/>
<line x1="334.98" y1="12.70" x2="334.98" y2="14.30" stroke="#8e8e8e" stroke-width="0.8"/>
<line x1="354.85" y1="73.40" x2="354.85" y2="71.80" stroke="#8e8e8e" stroke-width="0.8"/>
<line x1="354.85" y1="12.70" x2="354.85" y2="14.30" stroke="#8e8e8e" stroke-width="0.8"/>
<line x1="374.72" y1="73.40" x2="374.72" y2="71.80" stroke="#8e8e8e" stroke-width="0.8"/>
<line x1="374.72" y1="12.70" x2="374.72" y2="14.30" stroke="#8e8e8e" stroke-width="0.8"/>
<line x1="394.59" y1="73.40" x2="394.59" y2="71.80" stroke="#8e8e8e" stroke-width="0.8"/>
<line x1="394.59" y1="12.70" x2="394.59" y2="14.30" stroke="#8e8e8e" stroke-width="0.8"/>
<line x1="414.46" y1="73.40" x2="414.46" y2="71.80" stroke="#8e8e8e" stroke-width="0.8"/>
<line x1="414.46" y1="12.70" x2="414.46" y2="14.30" stroke="#8e8e8e" stroke-width="0.8"/>
<line x1="434.33" y1="73.40" x2="434.33" y2="71.80" stroke="#8e8e8e" stroke-width="0.8"/>
<line x1="434.33" y1="12.70" x2="434.33" y2="14.30" stroke="#8e8e8e" stroke-width="0.8"/>
<text font-size="5.90" text-anchor="middle" fill="#1a1a1a" stroke="#1a1a1a" stroke-width="0.22" font-family="'Liberation Sans', Arial, Helvetica, sans-serif" transform="translate(255.50 80.80) scale(1 1.100)" >0</text>
<text font-size="5.90" text-anchor="middle" fill="#1a1a1a" stroke="#1a1a1a" stroke-width="0.22" font-family="'Liberation Sans', Arial, Helvetica, sans-serif" transform="translate(275.37 80.80) scale(1 1.100)" >1</text>
<text font-size="5.90" text-anchor="middle" fill="#1a1a1a" stroke="#1a1a1a" stroke-width="0.22" font-family="'Liberation Sans', Arial, Helvetica, sans-serif" transform="translate(295.24 80.80) scale(1 1.100)" >2</text>
<text font-size="5.90" text-anchor="middle" fill="#1a1a1a" stroke="#1a1a1a" stroke-width="0.22" font-family="'Liberation Sans', Arial, Helvetica, sans-serif" transform="translate(315.11 80.80) scale(1 1.100)" >3</text>
<text font-size="5.90" text-anchor="middle" fill="#1a1a1a" stroke="#1a1a1a" stroke-width="0.22" font-family="'Liberation Sans', Arial, Helvetica, sans-serif" transform="translate(334.98 80.80) scale(1 1.100)" >4</text>
<text font-size="5.90" text-anchor="middle" fill="#1a1a1a" stroke="#1a1a1a" stroke-width="0.22" font-family="'Liberation Sans', Arial, Helvetica, sans-serif" transform="translate(354.85 80.80) scale(1 1.100)" >5</text>
<text font-size="5.90" text-anchor="middle" fill="#1a1a1a" stroke="#1a1a1a" stroke-width="0.22" font-family="'Liberation Sans', Arial, Helvetica, sans-serif" transform="translate(374.72 80.80) scale(1 1.100)" >6</text>
<text font-size="5.90" text-anchor="middle" fill="#1a1a1a" stroke="#1a1a1a" stroke-width="0.22" font-family="'Liberation Sans', Arial, Helvetica, sans-serif" transform="translate(394.59 80.80) scale(1 1.100)" >7</text>
<text font-size="5.90" text-anchor="middle" fill="#1a1a1a" stroke="#1a1a1a" stroke-width="0.22" font-family="'Liberation Sans', Arial, Helvetica, sans-serif" transform="translate(414.46 80.80) scale(1 1.100)" >8</text>
<text font-size="5.90" text-anchor="middle" fill="#1a1a1a" stroke="#1a1a1a" stroke-width="0.22" font-family="'Liberation Sans', Arial, Helvetica, sans-serif" transform="translate(434.33 80.80) scale(1 1.100)" >9</text>
<text font-size="7.20" text-anchor="middle" fill="#1a1a1a" stroke="#1a1a1a" stroke-width="0.22" font-family="'Liberation Sans', Arial, Helvetica, sans-serif" transform="translate(354.85 88.80) scale(1 1.100)" >t (s)</text>
<text font-size="8.65" text-anchor="middle" fill="#1a1a1a" stroke="#1a1a1a" stroke-width="0.22" font-family="'Liberation Sans', Arial, Helvetica, sans-serif" transform="translate(354.85 8.30) scale(1 1.100)" >Ground-Truth PPG</text>
<text x="0" y="0" font-size="6.70" text-anchor="middle" fill="#1a1a1a" stroke="#1a1a1a" stroke-width="0.22" font-family="'Liberation Sans', Arial, Helvetica, sans-serif" transform="translate(251.20 43.55) rotate(-90) scale(1.090 1)">absorbance (a.u.)</text>
<polyline points="254.7,142.1 255.0,144.1 255.3,143.6 255.6,144.1 255.9,146.5 256.2,144.2 256.5,143.9 256.8,144.5 257.1,143.9 257.4,142.1 257.7,142.2 258.0,144.5 258.3,145.9 258.6,146.1 258.9,148.9 259.2,150.3 259.5,153.1 259.8,154.4 260.1,156.3 260.4,157.9 260.7,160.8 261.0,162.4 261.3,160.9 261.6,161.5 261.9,159.0 262.2,158.8 262.5,158.4 262.8,158.3 263.1,156.6 263.4,158.4 263.7,156.8 264.0,151.4 264.3,148.4 264.6,143.2 264.9,140.0 265.2,135.8 265.5,135.4 265.8,139.9 266.1,141.3 266.4,141.4 266.7,143.7 267.0,143.5 267.3,144.0 267.6,145.8 267.9,144.6 268.2,146.1 268.5,147.3 268.8,148.5 269.1,147.6 269.4,147.8 269.7,146.5 270.0,147.0 270.3,147.8 270.6,145.0 270.9,147.2 271.2,143.6 271.5,143.6 271.8,143.4 272.1,144.3 272.4,142.5 272.7,142.3 273.0,145.5 273.3,146.2 273.6,146.5 273.9,148.8 274.2,146.9 274.5,147.4 274.8,148.6 275.1,148.6 275.4,150.4 275.7,148.2 276.0,149.6 276.3,147.4 276.6,153.6 276.9,153.9 277.2,153.1 277.5,151.0 277.8,145.2 278.1,141.0 278.4,136.9 278.7,132.5 279.0,127.8 279.3,127.5 279.6,127.3 279.9,128.4 280.2,129.6 280.5,132.0 280.8,132.7 281.1,133.0 281.4,134.7 281.7,134.7 282.0,134.4 282.3,137.2 282.6,136.2 282.9,134.5 283.2,136.0 283.5,134.9 283.8,132.7 284.1,135.5 284.4,133.9 284.7,134.2 285.0,133.5 285.3,133.7 285.6,134.5 285.9,139.3 286.2,139.5 286.5,139.8 286.8,140.9 287.1,141.2 287.4,142.3 287.7,141.8 288.0,142.5 288.3,140.9 288.6,143.1 288.9,145.2 289.2,148.3 289.5,151.4 289.8,153.7 290.1,154.0 290.4,150.5 290.7,150.5 291.0,150.4 291.3,147.8 291.6,147.7 291.9,144.2 292.2,142.1 292.5,137.7 292.8,133.8 293.1,132.1 293.4,131.0 293.7,126.6 294.0,126.1 294.3,128.0 294.6,128.6 294.9,132.9 295.2,135.9 295.5,137.5 295.8,139.9 296.1,138.9 296.4,141.6 296.7,139.8 297.0,140.9 297.3,141.4 297.6,141.9 297.9,143.4 298.2,142.9 298.5,142.7 298.8,143.9 299.1,145.2 299.4,144.0 299.7,144.6 300.0,145.8 300.3,145.2 300.6,144.0 300.9,147.9 301.2,147.8 301.5,144.0 301.8,146.0 302.1,146.8 302.4,148.0 302.7,148.8 303.0,149.2 303.3,150.0 303.6,152.6 303.9,154.9 304.2,154.3 304.5,155.8 304.8,158.1 305.1,157.9 305.4,161.5 305.7,164.9 306.0,168.8 306.3,165.8 306.6,160.4 306.9,156.6 307.2,153.0 307.5,148.5 307.8,145.7 308.1,143.7 308.4,142.7 308.7,143.2 309.0,141.9 309.3,143.8 309.6,143.2 309.9,148.2 310.2,146.1 310.5,147.1 310.8,147.8 311.1,146.2 311.4,148.3 311.7,148.2 312.0,146.9 312.3,149.3 312.6,150.3 312.9,147.3 313.2,149.3 313.5,148.1 313.8,147.7 314.1,147.4 314.4,148.4 314.7,147.8 315.0,150.0 315.3,150.1 315.6,152.4 315.9,151.8 316.2,153.1 316.5,155.4 316.8,154.8 317.1,154.7 317.4,154.4 317.7,155.3 318.0,156.8 318.3,158.2 318.6,158.3 318.9,159.4 319.2,161.0 319.5,160.5 319.8,154.2 320.1,148.5 320.4,144.3 320.7,138.7 321.0,135.3 321.3,133.8 321.6,134.2 321.9,135.8 322.2,136.7 322.5,136.3 322.8,139.1 323.1,140.5 323.4,141.0 323.7,144.4 324.0,144.7 324.3,146.0 324.6,148.3 324.9,149.8 325.2,148.5 325.5,149.4 325.8,147.2 326.1,148.7 326.4,144.2 326.7,143.9 327.0,140.8 327.3,141.1 327.6,142.9 327.9,139.7 328.2,143.4 328.5,146.1 328.8,147.3 329.1,148.3 329.4,152.2 329.7,151.1 330.0,150.3 330.3,153.4 330.6,151.9 330.9,156.2 331.2,156.5 331.5,157.5 331.8,158.7 332.1,157.3 332.4,155.0 332.7,153.2 333.0,153.5 333.3,149.8 333.6,144.6 333.9,142.2 334.2,137.9 334.5,134.3 334.8,128.1 335.1,127.3 335.4,127.1 335.7,126.9 336.0,128.0 336.3,126.3 336.6,130.0 336.9,131.3 337.2,134.6 337.5,132.6 337.8,134.5 338.1,135.9 338.4,137.5 338.7,137.0 339.0,139.2 339.3,137.8 339.6,139.0 339.9,138.1 340.2,138.3 340.5,136.9 340.8,135.7 341.1,138.4 341.4,138.2 341.7,138.3 342.0,140.1 342.3,141.9 342.6,140.9 342.9,142.4 343.2,143.6 343.5,144.1 343.8,143.9 344.1,142.9 344.4,147.0 344.7,147.3 345.0,148.0 345.3,148.6 345.6,149.5 345.9,149.0 346.2,148.4 346.5,148.2 346.8,147.4 347.1,145.8 347.4,143.2 347.7,142.5 348.0,138.0 348.3,137.2 348.6,133.1 348.9,132.1 349.2,131.4 349.5,129.4 349.8,128.5 350.1,130.2 350.4,131.6 350.7,131.0 351.0,133.1 351.3,135.1 351.6,135.9 351.9,137.6 352.2,139.4 352.5,140.2 352.8,141.0 353.1,141.3 353.4,140.9 353.7,141.7 354.0,141.4 354.3,141.0 354.6,140.7 354.9,138.8 355.2,139.9 355.5,140.3 355.8,139.7 356.1,141.1 356.4,142.2 356.7,142.4 357.0,145.4 357.3,142.0 357.6,145.5 357.9,145.2 358.2,149.2 358.5,152.0 358.8,148.4 359.1,152.3 359.4,154.0 359.7,154.3 360.0,155.9 360.3,153.8 360.6,157.1 360.9,156.0 361.2,153.2 361.5,147.7 361.8,142.5 362.1,136.0 362.4,133.1 362.7,129.8 363.0,126.6 363.3,128.5 363.6,130.0 363.9,132.6 364.2,132.8 364.5,134.4 364.8,135.0 365.1,134.2 365.4,134.9 365.7,135.4 366.0,132.9 366.3,132.6 366.6,136.2 366.9,137.8 367.2,137.9 367.5,137.9 367.8,135.0 368.1,133.6 368.4,136.9 368.7,137.3 369.0,137.3 369.3,138.4 369.6,141.9 369.9,141.5 370.2,139.4 370.5,139.9 370.8,141.6 371.1,141.6 371.4,144.5 371.7,144.2 372.0,144.5 372.3,148.5 372.6,148.5 372.9,150.6 373.2,150.7 373.5,149.3 373.8,147.3 374.1,142.8 374.4,138.1 374.7,134.6 375.0,133.2 375.3,131.9 375.6,131.1 375.9,130.1 376.2,129.8 376.5,129.1 376.8,128.4 377.1,129.1 377.4,128.5 377.7,131.0 378.0,132.1 378.3,132.7 378.6,132.6 378.9,133.2 379.2,135.0 379.5,135.2 379.8,137.3 380.1,138.7 380.4,139.6 380.7,141.4 381.0,139.5 381.3,138.7 381.6,136.9 381.9,135.7 382.2,137.3 382.5,137.7 382.8,136.8 383.1,138.4 383.4,140.2 383.7,140.9 384.0,142.2 384.3,140.8 384.6,142.3 384.9,144.2 385.2,146.0 385.5,145.8 385.8,146.1 386.1,147.7 386.4,148.1 386.7,147.6 387.0,148.4 387.3,143.9 387.6,141.6 387.9,140.6 388.2,136.9 388.5,133.5 388.8,129.8 389.1,128.1 389.4,127.2 389.7,125.2 390.0,126.2 390.3,126.5 390.6,128.7 390.9,129.9 391.2,131.8 391.5,133.2 391.8,130.9 392.1,132.3 392.4,132.7 392.7,132.3 393.0,133.1 393.3,134.7 393.6,136.5 393.9,135.8 394.2,136.2 394.5,135.0 394.8,138.9 395.1,137.7 395.4,138.2 395.7,137.8 396.0,139.3 396.3,138.9 396.6,140.5 396.9,141.5 397.2,142.0 397.5,143.3 397.8,143.4 398.1,146.8 398.4,146.1 398.7,146.3 399.0,149.2 399.3,150.2 399.6,151.4 399.9,153.5 400.2,155.3 400.5,154.9 400.8,156.4 401.1,157.6 401.4,155.8 401.7,152.9 402.0,150.6 402.3,147.9 402.6,145.6 402.9,143.4 403.2,139.6 403.5,135.0 403.8,135.9 404.1,135.2 404.4,138.2 404.7,139.2 405.0,141.9 405.3,145.2 405.6,142.4 405.9,142.0 406.2,141.1 406.5,139.7 406.8,140.0 407.1,142.4 407.4,142.1 407.7,141.6 408.0,142.7 408.3,145.3 408.6,144.4 408.9,145.1 409.2,146.0 409.5,147.2 409.8,148.1 410.1,147.4 410.4,146.8 410.7,147.1 411.0,149.0 411.3,149.1 411.6,147.9 411.9,149.1 412.2,149.5 412.5,149.8 412.8,149.9 413.1,149.8 413.4,151.3 413.7,151.4 414.0,155.4 414.3,156.2 414.6,156.2 414.9,160.2 415.2,160.8 415.5,158.4 415.8,160.6 416.1,155.9 416.4,153.5 416.7,147.7 417.0,146.7 417.3,144.0 417.6,141.4 417.9,139.3 418.2,138.6 418.5,135.3 418.8,135.2 419.1,135.1 419.4,136.2 419.7,136.6 420.0,138.0 420.3,138.4 420.6,138.8 420.9,138.9 421.2,140.1 421.5,142.2 421.8,142.6 422.1,142.3 422.4,142.1 422.7,144.1 423.0,142.4 423.3,144.1 423.6,145.4 423.9,145.1 424.2,147.1 424.5,146.1 424.8,148.9 425.1,148.8 425.4,147.7 425.7,150.5 426.0,149.5 426.3,152.2 426.6,150.9 426.9,152.0 427.2,153.1 427.5,153.2 427.8,154.5 428.1,154.5 428.4,156.3 428.7,156.2 429.0,156.8 429.3,153.8 429.6,155.6 429.9,150.6 430.2,145.2 430.5,142.8 430.8,139.3 431.1,136.6 431.4,132.5 431.7,134.5 432.0,133.4 432.3,137.0 432.6,136.0 432.9,138.0 433.2,138.2 433.5,138.8 433.8,142.2 434.1,143.3 434.4,144.8 434.7,144.7 435.0,143.8 435.3,143.0 435.6,144.1 435.9,144.0 436.2,143.7 436.5,144.6 436.8,143.9 437.1,143.0 437.4,143.4 437.7,143.5 438.0,144.5 438.3,145.7 438.6,146.6 438.9,145.7 439.2,145.4 439.5,148.7 439.8,147.9 440.1,149.6 440.4,148.0 440.7,150.5 441.0,152.4 441.3,152.7 441.6,155.1 441.9,157.8 442.2,159.7 442.5,161.8 442.8,160.9 443.1,161.3 443.4,162.5 443.7,157.5 444.0,151.4 444.3,146.4 444.6,144.9 444.9,141.6 445.2,138.3 445.5,134.7 445.8,133.3 446.1,132.7 446.4,131.8 446.7,132.3 447.0,136.7 447.3,138.6 447.6,138.9 447.9,139.7 448.2,137.9 448.5,137.9 448.8,137.4 449.1,138.3 449.4,140.1 449.7,140.0 450.0,144.5 450.3,146.4 450.6,147.7 450.9,148.9 451.2,151.1 451.5,150.2 451.8,151.2 452.1,151.1 452.4,153.3" fill="none" stroke="#2323c4" stroke-width="0.8" stroke-linejoin="round" />
<rect x="254.50" y="109.40" width="198.70" height="60.90" fill="none" stroke="#8e8e8e" stroke-width="0.9"/>
<line x1="274.37" y1="170.30" x2="274.37" y2="168.70" stroke="#8e8e8e" stroke-width="0.8"/>
<line x1="274.37" y1="109.40" x2="274.37" y2="111.00" stroke="#8e8e8e" stroke-width="0.8"/>
<line x1="294.24" y1="170.30" x2="294.24" y2="168.70" stroke="#8e8e8e" stroke-width="0.8"/>
<line x1="294.24" y1="109.40" x2="294.24" y2="111.00" stroke="#8e8e8e" stroke-width="0.8"/>
<line x1="314.11" y1="170.30" x2="314.11" y2="168.70" stroke="#8e8e8e" stroke-width="0.8"/>
<line x1="314.11" y1="109.40" x2="314.11" y2="111.00" stroke="#8e8e8e" stroke-width="0.8"/>
<line x1="333.98" y1="170.30" x2="333.98" y2="168.70" stroke="#8e8e8e" stroke-width="0.8"/>
<line x1="333.98" y1="109.40" x2="333.98" y2="111.00" stroke="#8e8e8e" stroke-width="0.8"/>
<line x1="353.85" y1="170.30" x2="353.85" y2="168.70" stroke="#8e8e8e" stroke-width="0.8"/>
<line x1="353.85" y1="109.40" x2="353.85" y2="111.00" stroke="#8e8e8e" stroke-width="0.8"/>
<line x1="373.72" y1="170.30" x2="373.72" y2="168.70" stroke="#8e8e8e" stroke-width="0.8"/>
<line x1="373.72" y1="109.40" x2="373.72" y2="111.00" stroke="#8e8e8e" stroke-width="0.8"/>
<line x1="393.59" y1="170.30" x2="393.59" y2="168.70" stroke="#8e8e8e" stroke-width="0.8"/>
<line x1="393.59" y1="109.40" x2="393.59" y2="111.00" stroke="#8e8e8e" stroke-width="0.8"/>
<line x1="413.46" y1="170.30" x2="413.46" y2="168.70" stroke="#8e8e8e" stroke-width="0.8"/>
<line x1="413.46" y1="109.40" x2="413.46" y2="111.00" stroke="#8e8e8e" stroke-width="0.8"/>
<line x1="433.33" y1="170.30" x2="433.33" y2="168.70" stroke="#8e8e8e" stroke-width="0.8"/>
<line x1="433.33" y1="109.40" x2="433.33" y2="111.00" stroke="#8e8e8e" stroke-width="0.8"/>
<text font-size="5.90" text-anchor="middle" fill="#1a1a1a" stroke="#1a1a1a" stroke-width="0.22" font-family="'Liberation Sans', Arial, Helvetica, sans-serif" transform="translate(254.50 177.70) scale(1 1.100)" >0</text>
<text font-size="5.90" text-anchor="middle" fill="#1a1a1a" stroke="#1a1a1a" stroke-width="0.22" font-family="'Liberation Sans', Arial, Helvetica, sans-serif" transform="translate(274.37 177.70) scale(1 1.100)" >1</text>
<text font-size="5.90" text-anchor="middle" fill="#1a1a1a" stroke="#1a1a1a" stroke-width="0.22" font-family="'Liberation Sans', Arial, Helvetica, sans-serif" transform="translate(294.24 177.70) scale(1 1.100)" >2</text>
<text font-size="5.90" text-anchor="middle" fill="#1a1a1a" stroke="#1a1a1a" stroke-width="0.22" font-family="'Liberation Sans', Arial, Helvetica, sans-serif" transform="translate(314.11 177.70) scale(1 1.100)" >3</text>
<text font-size="5.90" text-anchor="middle" fill="#1a1a1a" stroke="#1a1a1a" stroke-width="0.22" font-family="'Liberation Sans', Arial, Helvetica, sans-serif" transform="translate(333.98 177.70) scale(1 1.100)" >4</text>
<text font-size="5.90" text-anchor="middle" fill="#1a1a1a" stroke="#1a1a1a" stroke-width="0.22" font-family="'Liberation Sans', Arial, Helvetica, sans-serif" transform="translate(353.85 177.70) scale(1 1.100)" >5</text>
<text font-size="5.90" text-anchor="middle" fill="#1a1a1a" stroke="#1a1a1a" stroke-width="0.22" font-family="'Liberation Sans', Arial, Helvetica, sans-serif" transform="translate(373.72 177.70) scale(1 1.100)" >6</text>
<text font-size="5.90" text-anchor="middle" fill="#1a1a1a" stroke="#1a1a1a" stroke-width="0.22" font-family="'Liberation Sans', Arial, Helvetica, sans-serif" transform="translate(393.59 177.70) scale(1 1.100)" >7</text>
<text font-size="5.90" text-anchor="middle" fill="#1a1a1a" stroke="#1a1a1a" stroke-width="0.22" font-family="'Liberation Sans', Arial, Helvetica, sans-serif" transform="translate(413.46 177.70) scale(1 1.100)" >8</text>
<text font-size="5.90" text-anchor="middle" fill="#1a1a1a" stroke="#1a1a1a" stroke-width="0.22" font-family="'Liberation Sans', Arial, Helvetica, sans-serif" transform="translate(433.33 177.70) scale(1 1.100)" >9</text>
<text font-size="5.90" text-anchor="middle" fill="#1a1a1a" stroke="#1a1a1a" stroke-width="0.22" font-family="'Liberation Sans', Arial, Helvetica, sans-serif" transform="translate(453.20 177.70) scale(1 1.100)" >10</text>
<text font-size="7.20" text-anchor="middle" fill="#1a1a1a" stroke="#1a1a1a" stroke-width="0.22" font-family="'Liberation Sans', Arial, Helvetica, sans-serif" transform="translate(353.85 185.70) scale(1 1.100)" >t (s)</text>
<text font-size="8.65" text-anchor="middle" fill="#1a1a1a" stroke="#1a1a1a" stroke-width="0.22" font-family="'Liberation Sans', Arial, Helvetica, sans-serif" transform="translate(353.85 105.00) scale(1 1.100)" >Unprocessed PPGI</text>
<text x="0" y="0" font-size="6.70" text-anchor="middle" fill="#1a1a1a" stroke="#1a1a1a" stroke-width="0.22" font-family="'Liberation Sans', Arial, Helvetica, sans-serif" transform="translate(250.20 140.35) rotate(-90) scale(1.090 1)">absorbance (a.u.)</text>
<polyline points="255.5,218.9 255.5,219.6 255.6,220.5 255.6,221.6 255.7,222.9 255.7,224.5 255.8,226.3 255.8,228.8 255.9,232.0 255.9,235.4 256.0,238.6 256.1,241.2 256.2,242.7 256.4,242.7 256.7,241.5 256.9,239.7 257.2,237.8 257.5,236.4 257.7,236.0 258.0,236.9 258.2,238.6 258.5,240.8 258.7,243.1 259.0,245.4 259.2,247.2 259.5,248.7 259.7,250.1 260.0,251.4 260.2,252.5 260.5,253.3 260.7,253.9 260.9,254.1 261.2,254.1 261.4,253.8 261.7,253.3 261.9,252.6 262.2,251.6 262.4,250.5 262.7,249.1 262.9,247.5 263.2,245.7 263.4,243.6 263.7,241.2 263.9,238.4 264.1,235.1 264.4,231.5 264.6,228.0 264.9,224.7 265.2,221.9 265.5,219.4 265.9,216.9 266.3,214.7 266.7,212.9 267.1,211.8 267.4,211.4 267.7,212.2 268.0,213.9 268.2,216.2 268.5,218.8 268.7,221.3 268.9,223.4 269.0,225.0 269.2,226.5 269.3,228.0 269.4,229.3 269.5,230.5 269.6,231.5 269.8,232.4 270.1,233.0 270.4,233.5 270.6,233.9 270.9,234.5 271.1,235.3 271.3,236.4 271.5,237.9 271.7,239.5 271.8,241.0 272.0,242.1 272.2,242.7 272.4,242.5 272.6,241.7 272.8,240.6 273.0,239.4 273.2,238.5 273.4,238.2 273.5,238.5 273.7,239.0 273.9,239.9 274.1,241.0 274.3,242.4 274.5,244.2 274.8,246.7 275.1,250.0 275.4,253.6 275.8,257.0 276.1,259.7 276.3,261.3 276.6,261.7 276.8,261.3 277.0,260.2 277.2,258.6 277.3,256.7 277.5,254.6 277.7,252.3 277.9,249.5 278.0,246.4 278.2,243.2 278.3,239.9 278.6,236.8 278.8,233.4 279.2,229.7 279.5,226.0 279.9,222.6 280.2,219.9 280.5,218.1 280.8,217.6 281.0,217.9 281.3,218.9 281.5,220.4 281.8,221.9 282.0,223.4 282.2,224.9 282.4,226.9 282.5,229.1 282.7,231.1 282.8,232.8 283.0,233.8 283.3,234.0 283.5,233.4 283.8,232.6 284.0,231.6 284.3,230.9 284.5,230.8 284.8,231.3 285.0,232.2 285.3,233.4 285.5,234.7 285.8,235.8 286.0,236.8 286.3,237.4 286.5,238.0 286.8,238.4 287.0,238.9 287.3,239.3 287.5,239.7 287.8,240.2 288.0,240.6 288.3,241.0 288.5,241.5 288.8,242.0 289.0,242.7 289.2,243.6 289.4,244.8 289.5,246.0 289.7,247.1 289.8,248.1 290.0,248.7 290.3,249.0 290.5,249.3 290.7,249.4 291.0,249.2 291.3,248.5 291.5,247.2 291.8,245.1 292.0,242.2 292.3,238.9 292.5,235.4 292.8,232.1 293.0,229.3 293.3,226.8 293.6,224.2 293.8,221.9 294.1,219.8 294.4,218.3 294.6,217.4 294.9,217.3 295.1,217.9 295.4,219.0 295.6,220.4 295.9,221.9 296.1,223.4 296.4,224.9 296.7,226.6 297.0,228.5 297.3,230.4 297.6,232.2 297.9,233.8 298.2,235.3 298.4,236.7 298.7,238.1 298.9,239.3 299.2,240.4 299.4,241.2 299.7,241.9 299.9,242.4 300.2,242.8 300.4,243.0 300.7,243.0 300.9,242.7 301.1,242.0 301.3,240.9 301.4,239.5 301.6,238.2 301.8,237.2 301.9,236.8 302.2,236.9 302.4,237.5 302.7,238.4 302.9,239.5 303.2,240.4 303.4,241.2 303.6,241.8 303.8,242.2 304.0,242.6 304.2,243.0 304.4,243.5 304.6,244.2 304.9,245.3 305.1,246.8 305.4,248.3 305.6,249.7 305.9,250.7 306.1,250.9 306.3,250.3 306.5,249.0 306.7,247.2 306.9,245.2 307.1,243.2 307.3,241.2 307.5,239.3 307.7,237.3 307.8,235.1 308.0,233.0 308.2,231.1 308.3,229.3 308.5,227.6 308.7,225.8 308.9,224.1 309.1,222.8 309.3,221.9 309.5,221.9 309.8,222.8 310.0,224.7 310.2,227.1 310.4,229.7 310.7,232.0 310.9,233.8 311.1,234.9 311.3,235.7 311.5,236.3 311.7,236.8 311.9,237.1 312.1,237.5 312.3,237.8 312.5,237.9 312.8,237.9 313.1,237.9 313.3,238.0 313.6,238.2 313.8,238.6 314.1,239.0 314.3,239.5 314.6,240.0 314.8,240.6 315.0,241.2 315.3,242.0 315.5,242.8 315.7,243.7 315.9,244.6 316.1,245.3 316.2,245.7 316.4,245.7 316.6,245.4 316.7,245.0 316.9,244.5 317.1,244.2 317.3,244.2 317.6,244.7 317.9,245.6 318.2,246.7 318.6,247.6 318.9,248.1 319.2,247.9 319.5,247.1 319.7,245.7 320.0,244.0 320.2,241.9 320.4,239.4 320.7,236.8 321.0,233.4 321.3,229.1 321.6,224.6 321.9,220.3 322.2,216.7 322.5,214.4 322.8,213.5 323.0,213.5 323.3,214.3 323.5,215.6 323.7,217.2 324.0,218.9 324.2,220.9 324.5,223.5 324.7,226.3 325.0,229.2 325.2,231.8 325.5,233.8 325.8,235.2 326.1,236.1 326.4,236.8 326.7,237.3 327.0,237.8 327.3,238.2 327.5,238.7 327.7,239.2 327.9,239.5 328.1,239.8 328.2,240.1 328.4,240.5 328.7,240.8 328.9,241.1 329.2,241.5 329.4,241.8 329.7,242.2 329.9,242.7 330.2,243.3 330.4,243.9 330.6,244.6 330.9,245.4 331.1,246.2 331.4,247.2 331.8,248.6 332.1,250.5 332.5,252.5 332.9,254.1 333.3,255.0 333.7,254.6 334.0,252.7 334.2,249.6 334.5,245.6 334.7,241.3 335.0,237.2 335.1,233.8 335.3,230.7 335.4,227.7 335.5,224.8 335.6,222.3 335.7,220.3 335.9,218.9 336.1,218.3 336.3,218.3 336.6,218.9 336.9,219.8 337.1,220.8 337.4,221.9 337.6,223.0 337.9,224.4 338.1,226.0 338.4,227.6 338.6,229.2 338.9,230.8 339.1,232.4 339.4,234.2 339.6,236.0 339.9,237.6 340.1,238.9 340.4,239.7 340.6,239.9 340.9,239.4 341.1,238.6 341.4,237.8 341.6,237.0 341.8,236.8 342.1,236.9 342.4,237.1 342.6,237.6 342.9,238.2 343.1,238.9 343.3,239.7 343.6,240.9 343.8,242.4 344.0,244.0 344.2,245.5 344.3,246.7 344.5,247.2 344.7,246.9 344.9,246.0 345.0,244.8 345.2,243.4 345.4,242.1 345.6,241.2 345.8,240.7 346.0,240.3 346.3,240.0 346.5,239.8 346.8,239.8 347.1,239.7 347.3,240.0 347.5,240.6 347.8,241.3 348.0,241.8 348.3,241.9 348.6,241.2 348.9,239.5 349.2,236.9 349.5,233.8 349.9,230.7 350.2,228.1 350.5,226.3 350.8,225.6 351.0,225.5 351.3,225.8 351.5,226.4 351.7,227.1 352.0,227.8 352.2,228.6 352.5,229.7 352.8,230.9 353.0,232.1 353.3,233.1 353.5,233.8 353.6,234.0 353.7,233.8 353.8,233.5 353.8,233.2 353.9,233.2 354.0,233.8 354.2,235.1 354.3,236.9 354.5,239.1 354.7,241.2 355.0,243.0 355.2,244.2 355.4,244.7 355.7,244.8 355.9,244.6 356.2,244.1 356.4,243.4 356.7,242.7 357.0,241.7 357.3,240.2 357.6,238.6 357.9,237.1 358.2,235.9 358.5,235.3 358.7,235.3 358.9,235.7 359.1,236.4 359.3,237.4 359.4,238.6 359.7,239.7 359.9,241.3 360.1,243.3 360.4,245.6 360.6,247.5 360.9,248.9 361.1,249.4 361.4,248.8 361.7,247.3 362.0,245.2 362.3,242.8 362.6,240.4 362.9,238.2 363.3,236.1 363.7,233.8 364.1,231.4 364.5,229.2 364.8,227.4 365.2,226.3 365.5,226.0 365.7,226.3 366.0,227.0 366.2,228.0 366.4,229.1 366.7,230.1 366.9,231.1 367.1,232.3 367.4,233.5 367.6,234.8 367.9,235.9 368.1,236.8 368.5,237.3 368.9,237.6 369.3,237.8 369.7,237.9 370.0,238.1 370.4,238.2 370.7,238.5 370.9,238.6 371.2,238.8 371.4,239.0 371.6,239.3 371.9,239.7 372.1,240.5 372.4,241.7 372.6,242.9 372.8,244.1 373.1,244.8 373.4,244.9 373.6,244.4 373.9,243.3 374.2,241.8 374.5,240.1 374.8,238.4 375.1,236.8 375.5,235.0 375.8,232.8 376.1,230.7 376.5,228.7 376.8,227.1 377.1,226.3 377.3,226.4 377.6,227.1 377.8,228.2 378.1,229.6 378.3,231.0 378.6,232.3 378.9,233.5 379.2,234.9 379.5,236.2 379.9,237.6 380.2,238.8 380.5,239.7 380.8,240.5 381.0,241.3 381.3,241.9 381.5,242.3 381.7,242.3 382.0,242.0 382.2,240.9 382.5,239.2 382.8,237.2 383.0,235.1 383.3,233.4 383.5,232.3 383.7,231.7 383.8,231.5 384.0,231.5 384.2,231.9 384.3,232.6 384.5,233.8 384.7,235.7 385.0,238.5 385.2,241.7 385.4,244.8 385.7,247.2 386.0,248.7 386.4,249.0 386.7,248.5 387.1,247.5 387.5,246.0 387.9,244.4 388.2,242.7 388.5,240.8 388.8,238.4 389.1,235.8 389.3,233.3 389.5,231.0 389.7,229.3 389.9,228.1 390.0,227.1 390.1,226.4 390.2,226.1 390.3,226.0 390.5,226.3 390.7,227.3 390.9,229.0 391.2,231.0 391.4,233.0 391.7,234.5 392.0,235.3 392.2,235.0 392.5,234.1 392.7,232.7 393.0,231.2 393.2,230.0 393.5,229.3 393.7,229.3 394.0,229.7 394.2,230.3 394.5,231.1 394.7,231.8 394.9,232.3 395.2,232.5 395.4,232.5 395.7,232.5 395.9,232.6 396.2,232.9 396.4,233.8 396.7,235.1 397.1,236.8 397.4,238.8 397.7,241.0 398.1,243.3 398.4,245.7 398.7,248.5 399.0,251.9 399.3,255.5 399.6,258.7 399.9,261.0 400.2,262.1 400.4,261.6 400.7,260.1 400.9,257.7 401.2,254.8 401.4,251.7 401.6,248.7 401.9,245.5 402.1,241.8 402.4,238.0 402.6,234.2 402.9,230.7 403.1,227.8 403.4,225.5 403.6,223.4 403.9,221.7 404.1,220.4 404.4,219.4 404.6,218.9 404.9,218.9 405.1,219.5 405.4,220.5 405.6,221.7 405.9,223.0 406.1,224.1 406.4,225.1 406.6,226.1 406.9,227.2 407.1,228.3 407.4,229.5 407.6,230.8 407.9,232.2 408.1,233.8 408.3,235.5 408.6,237.1 408.8,238.5 409.1,239.7 409.3,240.7 409.6,241.6 409.8,242.3 410.1,242.9 410.3,243.2 410.6,243.5 410.8,243.4 411.1,243.2 411.3,242.8 411.6,242.3 411.8,241.8 412.1,241.2 412.3,240.6 412.6,239.8 412.8,238.9 413.1,238.1 413.3,237.6 413.6,237.5 413.8,237.9 414.1,238.6 414.3,239.5 414.6,240.6 414.8,241.7 415.0,242.7 415.3,243.8 415.5,245.1 415.8,246.4 416.0,247.5 416.3,248.1 416.5,247.9 416.8,246.8 417.0,244.8 417.3,242.4 417.5,239.8 417.8,237.3 418.0,235.3 418.3,233.6 418.5,232.2 418.8,230.8 419.0,229.6 419.3,228.6 419.5,227.8 419.8,227.2 420.0,226.8 420.3,226.6 420.5,226.5 420.8,226.7 421.0,227.1 421.3,227.8 421.5,228.9 421.7,230.2 422.0,231.6 422.2,232.8 422.5,233.8 422.7,234.4 423.0,234.8 423.3,235.1 423.5,235.3 423.8,235.6 424.0,236.0 424.2,236.4 424.4,236.8 424.6,237.1 424.8,237.7 425.0,238.5 425.2,239.7 425.4,241.7 425.6,244.5 425.9,247.5 426.2,250.3 426.4,252.6 426.7,253.9 426.9,253.9 427.1,253.0 427.4,251.5 427.6,249.8 427.9,248.2 428.2,247.2 428.4,246.8 428.7,246.7 429.1,246.8 429.4,246.8 429.7,246.5 429.9,245.7 430.2,244.4 430.4,242.7 430.5,240.7 430.7,238.5 430.9,236.2 431.1,233.8 431.4,231.0 431.7,227.7 432.0,224.2 432.3,221.0 432.6,218.3 432.9,216.7 433.2,216.0 433.4,216.1 433.7,216.7 433.9,217.9 434.2,219.4 434.4,221.1 434.7,223.5 434.9,226.6 435.1,230.1 435.4,233.4 435.6,236.3 435.9,238.2 436.1,239.1 436.4,239.1 436.6,238.7 436.8,237.9 437.1,237.2 437.4,236.8 437.7,236.5 438.1,236.3 438.5,236.1 438.9,235.9 439.3,235.6 439.6,235.3 439.9,234.7 440.0,233.9 440.2,233.0 440.3,232.3 440.5,232.0 440.7,232.3 440.8,233.1 441.0,234.4 441.2,236.1 441.4,238.0 441.6,240.3 441.8,242.7 442.1,245.9 442.3,250.1 442.6,254.5 442.8,258.5 443.1,261.5 443.3,262.8 443.6,262.2 443.8,260.2 444.1,257.1 444.3,253.4 444.6,249.5 444.8,245.7 445.1,241.6 445.3,236.6 445.6,231.5 445.8,226.7 446.1,222.8 446.3,220.4 446.6,219.8 446.8,220.6 447.1,222.3 447.3,224.5 447.6,226.5 447.8,227.8 448.1,228.6 448.3,229.2 448.6,229.6 448.8,230.0 449.0,230.4 449.3,230.8 449.5,231.1 449.8,231.2 450.0,231.2 450.3,231.4 450.5,232.0 450.8,233.0 451.0,234.9 451.3,237.4 451.6,240.2 451.9,243.1 452.1,245.5 452.3,247.2" fill="none" stroke="#4c4cc8" stroke-width="0.8" stroke-linejoin="round" />
<rect x="254.50" y="206.90" width="198.70" height="61.10" fill="none" stroke="#8e8e8e" stroke-width="0.9"/>
<line x1="274.37" y1="268.00" x2="274.37" y2="266.40" stroke="#8e8e8e" stroke-width="0.8"/>
<line x1="274.37" y1="206.90" x2="274.37" y2="208.50" stroke="#8e8e8e" stroke-width="0.8"/>
<line x1="294.24" y1="268.00" x2="294.24" y2="266.40" stroke="#8e8e8e" stroke-width="0.8"/>
<line x1="294.24" y1="206.90" x2="294.24" y2="208.50" stroke="#8e8e8e" stroke-width="0.8"/>
<line x1="314.11" y1="268.00" x2="314.11" y2="266.40" stroke="#8e8e8e" stroke-width="0.8"/>
<line x1="314.11" y1="206.90" x2="314.11" y2="208.50" stroke="#8e8e8e" stroke-width="0.8"/>
<line x1="333.98" y1="268.00" x2="333.98" y2="266.40" stroke="#8e8e8e" stroke-width="0.8"/>
<line x1="333.98" y1="206.90" x2="333.98" y2="208.50" stroke="#8e8e8e" stroke-width="0.8"/>
<line x1="353.85" y1="268.00" x2="353.85" y2="266.40" stroke="#8e8e8e" stroke-width="0.8"/>
<line x1="353.85" y1="206.90" x2="353.85" y2="208.50" stroke="#8e8e8e" stroke-width="0.8"/>
<line x1="373.72" y1="268.00" x2="373.72" y2="266.40" stroke="#8e8e8e" stroke-width="0.8"/>
<line x1="373.72" y1="206.90" x2="373.72" y2="208.50" stroke="#8e8e8e" stroke-width="0.8"/>
<line x1="393.59" y1="268.00" x2="393.59" y2="266.40" stroke="#8e8e8e" stroke-width="0.8"/>
<line x1="393.59" y1="206.90" x2="393.59" y2="208.50" stroke="#8e8e8e" stroke-width="0.8"/>
<line x1="413.46" y1="268.00" x2="413.46" y2="266.40" stroke="#8e8e8e" stroke-width="0.8"/>
<line x1="413.46" y1="206.90" x2="413.46" y2="208.50" stroke="#8e8e8e" stroke-width="0.8"/>
<line x1="433.33" y1="268.00" x2="433.33" y2="266.40" stroke="#8e8e8e" stroke-width="0.8"/>
<line x1="433.33" y1="206.90" x2="433.33" y2="208.50" stroke="#8e8e8e" stroke-width="0.8"/>
<text font-size="5.90" text-anchor="middle" fill="#1a1a1a" stroke="#1a1a1a" stroke-width="0.22" font-family="'Liberation Sans', Arial, Helvetica, sans-serif" transform="translate(254.50 275.40) scale(1 1.100)" >0</text>
<text font-size="5.90" text-anchor="middle" fill="#1a1a1a" stroke="#1a1a1a" stroke-width="0.22" font-family="'Liberation Sans', Arial, Helvetica, sans-serif" transform="translate(274.37 275.40) scale(1 1.100)" >1</text>
<text font-size="5.90" text-anchor="middle" fill="#1a1a1a" stroke="#1a1a1a" stroke-width="0.22" font-family="'Liberation Sans', Arial, Helvetica, sans-serif" transform="translate(294.24 275.40) scale(1 1.100)" >2</text>
<text font-size="5.90" text-anchor="middle" fill="#1a1a1a" stroke="#1a1a1a" stroke-width="0.22" font-family="'Liberation Sans', Arial, Helvetica, sans-serif" transform="translate(314.11 275.40) scale(1 1.100)" >3</text>
<text font-size="5.90" text-anchor="middle" fill="#1a1a1a" stroke="#1a1a1a" stroke-width="0.22" font-family="'Liberation Sans', Arial, Helvetica, sans-serif" transform="translate(333.98 275.40) scale(1 1.100)" >4</text>
<text font-size="5.90" text-anchor="middle" fill="#1a1a1a" stroke="#1a1a1a" stroke-width="0.22" font-family="'Liberation Sans', Arial, Helvetica, sans-serif" transform="translate(353.85 275.40) scale(1 1.100)" >5</text>
<text font-size="5.90" text-anchor="middle" fill="#1a1a1a" stroke="#1a1a1a" stroke-width="0.22" font-family="'Liberation Sans', Arial, Helvetica, sans-serif" transform="translate(373.72 275.40) scale(1 1.100)" >6</text>
<text font-size="5.90" text-anchor="middle" fill="#1a1a1a" stroke="#1a1a1a" stroke-width="0.22" font-family="'Liberation Sans', Arial, Helvetica, sans-serif" transform="translate(393.59 275.40) scale(1 1.100)" >7</text>
<text font-size="5.90" text-anchor="middle" fill="#1a1a1a" stroke="#1a1a1a" stroke-width="0.22" font-family="'Liberation Sans', Arial, Helvetica, sans-serif" transform="translate(413.46 275.40) scale(1 1.100)" >8</text>
<text font-size="5.90" text-anchor="middle" fill="#1a1a1a" stroke="#1a1a1a" stroke-width="0.22" font-family="'Liberation Sans', Arial, Helvetica, sans-serif" transform="translate(433.33 275.40) scale(1 1.100)" >9</text>
<text font-size="5.90" text-anchor="middle" fill="#1a1a1a" stroke="#1a1a1a" stroke-width="0.22" font-family="'Liberation Sans', Arial, Helvetica, sans-serif" transform="translate(453.20 275.40) scale(1 1.100)" >10</text>
<text font-size="7.20" text-anchor="middle" fill="#1a1a1a" stroke="#1a1a1a" stroke-width="0.22" font-family="'Liberation Sans', Arial, Helvetica, sans-serif" transform="translate(353.85 283.40) scale(1 1.100)" >t (s)</text>
<text font-size="8.65" text-anchor="middle" fill="#1a1a1a" stroke="#1a1a1a" stroke-width="0.22" font-family="'Liberation Sans', Arial, Helvetica, sans-serif" transform="translate(353.85 202.00) scale(1 1.100)" >Processed PPGI</text>
<text x="0" y="0" font-size="6.70" text-anchor="middle" fill="#1a1a1a" stroke="#1a1a1a" stroke-width="0.22" font-family="'Liberation Sans', Arial, Helvetica, sans-serif" transform="translate(250.20 237.95) rotate(-90) scale(1.090 1)">absorbance (a.u.)</text>
<line x1="256.90" y1="364.30" x2="455.85" y2="364.30" stroke="#8e8e8e" stroke-width="0.9"/>
<line x1="256.90" y1="304.20" x2="256.90" y2="364.30" stroke="#8e8e8e" stroke-width="0.9"/>
<line x1="292.05" y1="364.30" x2="292.05" y2="362.70" stroke="#8e8e8e" stroke-width="0.8"/>
<line x1="327.20" y1="364.30" x2="327.20" y2="362.70" stroke="#8e8e8e" stroke-width="0.8"/>
<line x1="362.35" y1="364.30" x2="362.35" y2="362.70" stroke="#8e8e8e" stroke-width="0.8"/>
<line x1="397.50" y1="364.30" x2="397.50" y2="362.70" stroke="#8e8e8e" stroke-width="0.8"/>
<line x1="432.65" y1="364.30" x2="432.65" y2="362.70" stroke="#8e8e8e" stroke-width="0.8"/>
<line x1="256.90" y1="334.25" x2="258.50" y2="334.25" stroke="#8e8e8e" stroke-width="0.8"/>
<line x1="256.90" y1="304.20" x2="258.50" y2="304.20" stroke="#8e8e8e" stroke-width="0.8"/>
<polyline points="256.9,364.3 263.9,363.7 271.0,363.7 278.0,364.3 285.0,364.3 292.0,359.5 299.1,364.3 306.1,364.3 313.1,359.5 320.2,304.2 327.2,338.5 334.2,364.3 341.3,364.3 348.3,364.3 355.3,364.3 362.3,364.3 369.4,364.3 376.4,363.1 383.4,363.1 390.5,364.3 397.5,364.3 404.5,364.3 411.6,362.5 418.6,364.3 425.6,356.5 432.6,364.3 439.7,364.3 446.7,362.5 453.7,364.3" fill="none" stroke="#b0b0b0" stroke-width="0.7" stroke-linejoin="round" stroke-dasharray="0.9,0.9"/>
<rect x="255.30" y="362.70" width="3.2" height="3.2" fill="none" stroke="#b4b4b4" stroke-width="0.6"/>
<rect x="262.33" y="362.10" width="3.2" height="3.2" fill="none" stroke="#b4b4b4" stroke-width="0.6"/>
<rect x="269.36" y="362.10" width="3.2" height="3.2" fill="none" stroke="#b4b4b4" stroke-width="0.6"/>
<rect x="276.39" y="362.70" width="3.2" height="3.2" fill="none" stroke="#b4b4b4" stroke-width="0.6"/>
<rect x="283.42" y="362.70" width="3.2" height="3.2" fill="none" stroke="#b4b4b4" stroke-width="0.6"/>
<rect x="290.45" y="357.89" width="3.2" height="3.2" fill="none" stroke="#b4b4b4" stroke-width="0.6"/>
<rect x="297.48" y="362.70" width="3.2" height="3.2" fill="none" stroke="#b4b4b4" stroke-width="0.6"/>
<rect x="304.51" y="362.70" width="3.2" height="3.2" fill="none" stroke="#b4b4b4" stroke-width="0.6"/>
<rect x="311.54" y="357.89" width="3.2" height="3.2" fill="none" stroke="#b4b4b4" stroke-width="0.6"/>
<rect x="318.57" y="302.60" width="3.2" height="3.2" fill="none" stroke="#b4b4b4" stroke-width="0.6"/>
<rect x="325.60" y="336.86" width="3.2" height="3.2" fill="none" stroke="#b4b4b4" stroke-width="0.6"/>
<rect x="332.63" y="362.70" width="3.2" height="3.2" fill="none" stroke="#b4b4b4" stroke-width="0.6"/>
<rect x="339.66" y="362.70" width="3.2" height="3.2" fill="none" stroke="#b4b4b4" stroke-width="0.6"/>
<rect x="346.69" y="362.70" width="3.2" height="3.2" fill="none" stroke="#b4b4b4" stroke-width="0.6"/>
<rect x="353.72" y="362.70" width="3.2" height="3.2" fill="none" stroke="#b4b4b4" stroke-width="0.6"/>
<rect x="360.75" y="362.70" width="3.2" height="3.2" fill="none" stroke="#b4b4b4" stroke-width="0.6"/>
<rect x="367.78" y="362.70" width="3.2" height="3.2" fill="none" stroke="#b4b4b4" stroke-width="0.6"/>
<rect x="374.81" y="361.50" width="3.2" height="3.2" fill="none" stroke="#b4b4b4" stroke-width="0.6"/>
<rect x="381.84" y="361.50" width="3.2" height="3.2" fill="none" stroke="#b4b4b4" stroke-width="0.6"/>
<rect x="388.87" y="362.70" width="3.2" height="3.2" fill="none" stroke="#b4b4b4" stroke-width="0.6"/>
<rect x="395.90" y="362.70" width="3.2" height="3.2" fill="none" stroke="#b4b4b4" stroke-width="0.6"/>
<rect x="402.93" y="362.70" width="3.2" height="3.2" fill="none" stroke="#b4b4b4" stroke-width="0.6"/>
<rect x="409.96" y="360.90" width="3.2" height="3.2" fill="none" stroke="#b4b4b4" stroke-width="0.6"/>
<rect x="416.99" y="362.70" width="3.2" height="3.2" fill="none" stroke="#b4b4b4" stroke-width="0.6"/>
<rect x="424.02" y="354.89" width="3.2" height="3.2" fill="none" stroke="#b4b4b4" stroke-width="0.6"/>
<rect x="431.05" y="362.70" width="3.2" height="3.2" fill="none" stroke="#b4b4b4" stroke-width="0.6"/>
<rect x="438.08" y="362.70" width="3.2" height="3.2" fill="none" stroke="#b4b4b4" stroke-width="0.6"/>
<rect x="445.11" y="360.90" width="3.2" height="3.2" fill="none" stroke="#b4b4b4" stroke-width="0.6"/>
<rect x="452.14" y="362.70" width="3.2" height="3.2" fill="none" stroke="#b4b4b4" stroke-width="0.6"/>
<polyline points="256.9,363.1 263.9,363.1 271.0,362.5 278.0,363.1 285.0,363.1 292.0,363.1 299.1,363.1 306.1,363.1 313.1,357.7 320.2,304.2 327.2,344.5 334.2,364.3 341.3,363.1 348.3,363.1 355.3,364.3 362.3,364.3 369.4,364.3 376.4,360.7 383.4,360.7 390.5,363.1 397.5,361.9 404.5,361.9 411.6,357.7 418.6,355.3 425.6,340.9 432.6,364.3 439.7,364.3 446.7,361.9 453.7,363.1" fill="none" stroke="#2a2a2a" stroke-width="0.7" stroke-linejoin="round" />
<circle cx="256.90" cy="363.10" r="1.9" fill="none" stroke="#2a2a2a" stroke-width="0.6"/>
<circle cx="263.93" cy="363.10" r="1.9" fill="none" stroke="#2a2a2a" stroke-width="0.6"/>
<circle cx="270.96" cy="362.50" r="1.9" fill="none" stroke="#2a2a2a" stroke-width="0.6"/>
<circle cx="277.99" cy="363.10" r="1.9" fill="none" stroke="#2a2a2a" stroke-width="0.6"/>
<circle cx="285.02" cy="363.10" r="1.9" fill="none" stroke="#2a2a2a" stroke-width="0.6"/>
<circle cx="292.05" cy="363.10" r="1.9" fill="none" stroke="#2a2a2a" stroke-width="0.6"/>
<circle cx="299.08" cy="363.10" r="1.9" fill="none" stroke="#2a2a2a" stroke-width="0.6"/>
<circle cx="306.11" cy="363.10" r="1.9" fill="none" stroke="#2a2a2a" stroke-width="0.6"/>
<circle cx="313.14" cy="357.69" r="1.9" fill="none" stroke="#2a2a2a" stroke-width="0.6"/>
<circle cx="320.17" cy="304.20" r="1.9" fill="none" stroke="#2a2a2a" stroke-width="0.6"/>
<circle cx="327.20" cy="344.47" r="1.9" fill="none" stroke="#2a2a2a" stroke-width="0.6"/>
<circle cx="334.23" cy="364.30" r="1.9" fill="none" stroke="#2a2a2a" stroke-width="0.6"/>
<circle cx="341.26" cy="363.10" r="1.9" fill="none" stroke="#2a2a2a" stroke-width="0.6"/>
<circle cx="348.29" cy="363.10" r="1.9" fill="none" stroke="#2a2a2a" stroke-width="0.6"/>
<circle cx="355.32" cy="364.30" r="1.9" fill="none" stroke="#2a2a2a" stroke-width="0.6"/>
<circle cx="362.35" cy="364.30" r="1.9" fill="none" stroke="#2a2a2a" stroke-width="0.6"/>
<circle cx="369.38" cy="364.30" r="1.9" fill="none" stroke="#2a2a2a" stroke-width="0.6"/>
<circle cx="376.41" cy="360.69" r="1.9" fill="none" stroke="#2a2a2a" stroke-width="0.6"/>
<circle cx="383.44" cy="360.69" r="1.9" fill="none" stroke="#2a2a2a" stroke-width="0.6"/>
<circle cx="390.47" cy="363.10" r="1.9" fill="none" stroke="#2a2a2a" stroke-width="0.6"/>
<circle cx="397.50" cy="361.90" r="1.9" fill="none" stroke="#2a2a2a" stroke-width="0.6"/>
<circle cx="404.53" cy="361.90" r="1.9" fill="none" stroke="#2a2a2a" stroke-width="0.6"/>
<circle cx="411.56" cy="357.69" r="1.9" fill="none" stroke="#2a2a2a" stroke-width="0.6"/>
<circle cx="418.59" cy="355.29" r="1.9" fill="none" stroke="#2a2a2a" stroke-width="0.6"/>
<circle cx="425.62" cy="340.86" r="1.9" fill="none" stroke="#2a2a2a" stroke-width="0.6"/>
<circle cx="432.65" cy="364.30" r="1.9" fill="none" stroke="#2a2a2a" stroke-width="0.6"/>
<circle cx="439.68" cy="364.30" r="1.9" fill="none" stroke="#2a2a2a" stroke-width="0.6"/>
<circle cx="446.71" cy="361.90" r="1.9" fill="none" stroke="#2a2a2a" stroke-width="0.6"/>
<circle cx="453.74" cy="363.10" r="1.9" fill="none" stroke="#2a2a2a" stroke-width="0.6"/>
<polyline points="256.9,364.3 263.9,364.3 271.0,362.5 278.0,363.7 285.0,363.7 292.0,363.7 299.1,363.1 306.1,361.3 313.1,351.1 320.2,304.2 327.2,356.5 334.2,364.3 341.3,363.7 348.3,363.7 355.3,364.3 362.3,364.3 369.4,364.3 376.4,362.5 383.4,362.5 390.5,363.1 397.5,360.7 404.5,361.9 411.6,354.1 418.6,362.5 425.6,350.5 432.6,364.3 439.7,363.7 446.7,360.7 453.7,363.1" fill="none" stroke="#1a1a1a" stroke-width="0.7" stroke-linejoin="round" />
<path d="M256.90 362.80L256.90 365.80M255.60 363.55L258.20 365.05M258.20 363.55L255.60 365.05" stroke="#1a1a1a" stroke-width="0.55" fill="none"/><circle cx="256.90" cy="364.30" r="0.75" fill="#1a1a1a"/>
<path d="M263.93 362.80L263.93 365.80M262.63 363.55L265.23 365.05M265.23 363.55L262.63 365.05" stroke="#1a1a1a" stroke-width="0.55" fill="none"/><circle cx="263.93" cy="364.30" r="0.75" fill="#1a1a1a"/>
<path d="M270.96 361.00L270.96 364.00M269.66 361.75L272.26 363.25M272.26 361.75L269.66 363.25" stroke="#1a1a1a" stroke-width="0.55" fill="none"/><circle cx="270.96" cy="362.50" r="0.75" fill="#1a1a1a"/>
<path d="M277.99 362.20L277.99 365.20M276.69 362.95L279.29 364.45M279.29 362.95L276.69 364.45" stroke="#1a1a1a" stroke-width="0.55" fill="none"/><circle cx="277.99" cy="363.70" r="0.75" fill="#1a1a1a"/>
<path d="M285.02 362.20L285.02 365.20M283.72 362.95L286.32 364.45M286.32 362.95L283.72 364.45" stroke="#1a1a1a" stroke-width="0.55" fill="none"/><circle cx="285.02" cy="363.70" r="0.75" fill="#1a1a1a"/>
<path d="M292.05 362.20L292.05 365.20M290.75 362.95L293.35 364.45M293.35 362.95L290.75 364.45" stroke="#1a1a1a" stroke-width="0.55" fill="none"/><circle cx="292.05" cy="363.70" r="0.75" fill="#1a1a1a"/>
<path d="M299.08 361.60L299.08 364.60M297.78 362.35L300.38 363.85M300.38 362.35L297.78 363.85" stroke="#1a1a1a" stroke-width="0.55" fill="none"/><circle cx="299.08" cy="363.10" r="0.75" fill="#1a1a1a"/>
<path d="M306.11 359.80L306.11 362.80M304.81 360.55L307.41 362.05M307.41 360.55L304.81 362.05" stroke="#1a1a1a" stroke-width="0.55" fill="none"/><circle cx="306.11" cy="361.30" r="0.75" fill="#1a1a1a"/>
<path d="M313.14 349.58L313.14 352.58M311.84 350.33L314.44 351.83M314.44 350.33L311.84 351.83" stroke="#1a1a1a" stroke-width="0.55" fill="none"/><circle cx="313.14" cy="351.08" r="0.75" fill="#1a1a1a"/>
<path d="M320.17 302.70L320.17 305.70M318.87 303.45L321.47 304.95M321.47 303.45L318.87 304.95" stroke="#1a1a1a" stroke-width="0.55" fill="none"/><circle cx="320.17" cy="304.20" r="0.75" fill="#1a1a1a"/>
<path d="M327.20 354.99L327.20 357.99M325.90 355.74L328.50 357.24M328.50 355.74L325.90 357.24" stroke="#1a1a1a" stroke-width="0.55" fill="none"/><circle cx="327.20" cy="356.49" r="0.75" fill="#1a1a1a"/>
<path d="M334.23 362.80L334.23 365.80M332.93 363.55L335.53 365.05M335.53 363.55L332.93 365.05" stroke="#1a1a1a" stroke-width="0.55" fill="none"/><circle cx="334.23" cy="364.30" r="0.75" fill="#1a1a1a"/>
<path d="M341.26 362.20L341.26 365.20M339.96 362.95L342.56 364.45M342.56 362.95L339.96 364.45" stroke="#1a1a1a" stroke-width="0.55" fill="none"/><circle cx="341.26" cy="363.70" r="0.75" fill="#1a1a1a"/>
<path d="M348.29 362.20L348.29 365.20M346.99 362.95L349.59 364.45M349.59 362.95L346.99 364.45" stroke="#1a1a1a" stroke-width="0.55" fill="none"/><circle cx="348.29" cy="363.70" r="0.75" fill="#1a1a1a"/>
<path d="M355.32 362.80L355.32 365.80M354.02 363.55L356.62 365.05M356.62 363.55L354.02 365.05" stroke="#1a1a1a" stroke-width="0.55" fill="none"/><circle cx="355.32" cy="364.30" r="0.75" fill="#1a1a1a"/>
<path d="M362.35 362.80L362.35 365.80M361.05 363.55L363.65 365.05M363.65 363.55L361.05 365.05" stroke="#1a1a1a" stroke-width="0.55" fill="none"/><circle cx="362.35" cy="364.30" r="0.75" fill="#1a1a1a"/>
<path d="M369.38 362.80L369.38 365.80M368.08 363.55L370.68 365.05M370.68 363.55L368.08 365.05" stroke="#1a1a1a" stroke-width="0.55" fill="none"/><circle cx="369.38" cy="364.30" r="0.75" fill="#1a1a1a"/>
<path d="M376.41 361.00L376.41 364.00M375.11 361.75L377.71 363.25M377.71 361.75L375.11 363.25" stroke="#1a1a1a" stroke-width="0.55" fill="none"/><circle cx="376.41" cy="362.50" r="0.75" fill="#1a1a1a"/>
<path d="M383.44 361.00L383.44 364.00M382.14 361.75L384.74 363.25M384.74 361.75L382.14 363.25" stroke="#1a1a1a" stroke-width="0.55" fill="none"/><circle cx="383.44" cy="362.50" r="0.75" fill="#1a1a1a"/>
<path d="M390.47 361.60L390.47 364.60M389.17 362.35L391.77 363.85M391.77 362.35L389.17 363.85" stroke="#1a1a1a" stroke-width="0.55" fill="none"/><circle cx="390.47" cy="363.10" r="0.75" fill="#1a1a1a"/>
<path d="M397.50 359.19L397.50 362.19M396.20 359.94L398.80 361.44M398.80 359.94L396.20 361.44" stroke="#1a1a1a" stroke-width="0.55" fill="none"/><circle cx="397.50" cy="360.69" r="0.75" fill="#1a1a1a"/>
<path d="M404.53 360.40L404.53 363.40M403.23 361.15L405.83 362.65M405.83 361.15L403.23 362.65" stroke="#1a1a1a" stroke-width="0.55" fill="none"/><circle cx="404.53" cy="361.90" r="0.75" fill="#1a1a1a"/>
<path d="M411.56 352.58L411.56 355.58M410.26 353.33L412.86 354.83M412.86 353.33L410.26 354.83" stroke="#1a1a1a" stroke-width="0.55" fill="none"/><circle cx="411.56" cy="354.08" r="0.75" fill="#1a1a1a"/>
<path d="M418.59 361.00L418.59 364.00M417.29 361.75L419.89 363.25M419.89 361.75L417.29 363.25" stroke="#1a1a1a" stroke-width="0.55" fill="none"/><circle cx="418.59" cy="362.50" r="0.75" fill="#1a1a1a"/>
<path d="M425.62 348.98L425.62 351.98M424.32 349.73L426.92 351.23M426.92 349.73L424.32 351.23" stroke="#1a1a1a" stroke-width="0.55" fill="none"/><circle cx="425.62" cy="350.48" r="0.75" fill="#1a1a1a"/>
<path d="M432.65 362.80L432.65 365.80M431.35 363.55L433.95 365.05M433.95 363.55L431.35 365.05" stroke="#1a1a1a" stroke-width="0.55" fill="none"/><circle cx="432.65" cy="364.30" r="0.75" fill="#1a1a1a"/>
<path d="M439.68 362.20L439.68 365.20M438.38 362.95L440.98 364.45M440.98 362.95L438.38 364.45" stroke="#1a1a1a" stroke-width="0.55" fill="none"/><circle cx="439.68" cy="363.70" r="0.75" fill="#1a1a1a"/>
<path d="M446.71 359.19L446.71 362.19M445.41 359.94L448.01 361.44M448.01 359.94L445.41 361.44" stroke="#1a1a1a" stroke-width="0.55" fill="none"/><circle cx="446.71" cy="360.69" r="0.75" fill="#1a1a1a"/>
<path d="M453.74 361.60L453.74 364.60M452.44 362.35L455.04 363.85M455.04 362.35L452.44 363.85" stroke="#1a1a1a" stroke-width="0.55" fill="none"/><circle cx="453.74" cy="363.10" r="0.75" fill="#1a1a1a"/>
<text font-size="5.70" text-anchor="middle" fill="#1a1a1a" stroke="#1a1a1a" stroke-width="0.22" font-family="'Liberation Sans', Arial, Helvetica, sans-serif" transform="translate(256.90 372.00) scale(1 1.100)" >0.5</text>
<text font-size="5.70" text-anchor="middle" fill="#1a1a1a" stroke="#1a1a1a" stroke-width="0.22" font-family="'Liberation Sans', Arial, Helvetica, sans-serif" transform="translate(292.05 372.00) scale(1 1.100)" >1</text>
<text font-size="5.70" text-anchor="middle" fill="#1a1a1a" stroke="#1a1a1a" stroke-width="0.22" font-family="'Liberation Sans', Arial, Helvetica, sans-serif" transform="translate(327.20 372.00) scale(1 1.100)" >1.5</text>
<text font-size="5.70" text-anchor="middle" fill="#1a1a1a" stroke="#1a1a1a" stroke-width="0.22" font-family="'Liberation Sans', Arial, Helvetica, sans-serif" transform="translate(362.35 372.00) scale(1 1.100)" >2</text>
<text font-size="5.70" text-anchor="middle" fill="#1a1a1a" stroke="#1a1a1a" stroke-width="0.22" font-family="'Liberation Sans', Arial, Helvetica, sans-serif" transform="translate(397.50 372.00) scale(1 1.100)" >2.5</text>
<text font-size="5.70" text-anchor="middle" fill="#1a1a1a" stroke="#1a1a1a" stroke-width="0.22" font-family="'Liberation Sans', Arial, Helvetica, sans-serif" transform="translate(432.65 372.00) scale(1 1.100)" >3</text>
<text font-size="5.70" text-anchor="end" fill="#1a1a1a" stroke="#1a1a1a" stroke-width="0.22" font-family="'Liberation Sans', Arial, Helvetica, sans-serif" transform="translate(255.20 366.90) scale(1 1.100)" >0</text>
<text font-size="5.70" text-anchor="end" fill="#1a1a1a" stroke="#1a1a1a" stroke-width="0.22" font-family="'Liberation Sans', Arial, Helvetica, sans-serif" transform="translate(255.20 336.85) scale(1 1.100)" >0.5</text>
<text font-size="5.70" text-anchor="end" fill="#1a1a1a" stroke="#1a1a1a" stroke-width="0.22" font-family="'Liberation Sans', Arial, Helvetica, sans-serif" transform="translate(255.20 306.80) scale(1 1.100)" >1</text>
<text font-size="7.20" text-anchor="middle" fill="#1a1a1a" stroke="#1a1a1a" stroke-width="0.22" font-family="'Liberation Sans', Arial, Helvetica, sans-serif" transform="translate(356.37 380.30) scale(1 1.100)" >frequency (Hz)</text>
<text font-size="8.65" text-anchor="middle" fill="#1a1a1a" stroke="#1a1a1a" stroke-width="0.22" font-family="'Liberation Sans', Arial, Helvetica, sans-serif" transform="translate(356.37 299.00) scale(1 1.100)" >Power spectral density</text>
<text x="0" y="0" font-size="6.70" text-anchor="middle" fill="#1a1a1a" stroke="#1a1a1a" stroke-width="0.22" font-family="'Liberation Sans', Arial, Helvetica, sans-serif" transform="translate(241.90 334.25) rotate(-90) scale(1.090 1)">power (a.u.)</text>
<rect x="392.35" y="307.5" width="61.50" height="24.2" fill="#ffffff" stroke="#777" stroke-width="0.7"/>
<line x1="396.15" y1="311.60" x2="413.85" y2="311.60" stroke="#b0b0b0" stroke-width="0.7" stroke-dasharray="0.9,0.9"/>
<rect x="403.40" y="310.00" width="3.2" height="3.2" fill="#fff" stroke="#b4b4b4" stroke-width="0.6"/>
<text font-size="5.90" text-anchor="start" fill="#1a1a1a" stroke="#1a1a1a" stroke-width="0.22" font-family="'Liberation Sans', Arial, Helvetica, sans-serif" transform="translate(416.55 313.70) scale(1 1.100)" >PPG</text>
<line x1="396.15" y1="319.50" x2="413.85" y2="319.50" stroke="#2a2a2a" stroke-width="0.7"/>
<circle cx="405.00" cy="319.50" r="1.75" fill="#fff" stroke="#2a2a2a" stroke-width="0.6"/>
<text font-size="5.90" text-anchor="start" fill="#1a1a1a" stroke="#1a1a1a" stroke-width="0.22" font-family="'Liberation Sans', Arial, Helvetica, sans-serif" transform="translate(416.55 321.60) scale(1 1.100)" >Unprocessed</text>
<line x1="396.15" y1="327.40" x2="413.85" y2="327.40" stroke="#2a2a2a" stroke-width="0.7"/>
<path d="M405.00 325.90L405.00 328.90M403.70 326.65L406.30 328.15M406.30 326.65L403.70 328.15" stroke="#1a1a1a" stroke-width="0.55" fill="none"/><circle cx="405.00" cy="327.40" r="0.75" fill="#1a1a1a"/>
<text font-size="5.90" text-anchor="start" fill="#1a1a1a" stroke="#1a1a1a" stroke-width="0.22" font-family="'Liberation Sans', Arial, Helvetica, sans-serif" transform="translate(416.55 329.50) scale(1 1.100)" >Processed</text>
<line x1="257.00" y1="461.20" x2="454.01" y2="461.20" stroke="#8e8e8e" stroke-width="0.9"/>
<line x1="257.00" y1="404.30" x2="257.00" y2="461.20" stroke="#8e8e8e" stroke-width="0.9"/>
<line x1="276.80" y1="461.20" x2="276.80" y2="459.60" stroke="#8e8e8e" stroke-width="0.8"/>
<line x1="296.60" y1="461.20" x2="296.60" y2="459.60" stroke="#8e8e8e" stroke-width="0.8"/>
<line x1="316.40" y1="461.20" x2="316.40" y2="459.60" stroke="#8e8e8e" stroke-width="0.8"/>
<line x1="336.20" y1="461.20" x2="336.20" y2="459.60" stroke="#8e8e8e" stroke-width="0.8"/>
<line x1="356.00" y1="461.20" x2="356.00" y2="459.60" stroke="#8e8e8e" stroke-width="0.8"/>
<line x1="375.80" y1="461.20" x2="375.80" y2="459.60" stroke="#8e8e8e" stroke-width="0.8"/>
<line x1="395.60" y1="461.20" x2="395.60" y2="459.60" stroke="#8e8e8e" stroke-width="0.8"/>
<line x1="415.40" y1="461.20" x2="415.40" y2="459.60" stroke="#8e8e8e" stroke-width="0.8"/>
<line x1="435.20" y1="461.20" x2="435.20" y2="459.60" stroke="#8e8e8e" stroke-width="0.8"/>
<line x1="257.00" y1="446.98" x2="258.60" y2="446.98" stroke="#8e8e8e" stroke-width="0.8"/>
<line x1="257.00" y1="432.75" x2="258.60" y2="432.75" stroke="#8e8e8e" stroke-width="0.8"/>
<line x1="257.00" y1="418.52" x2="258.60" y2="418.52" stroke="#8e8e8e" stroke-width="0.8"/>
<line x1="257.00" y1="404.30" x2="258.60" y2="404.30" stroke="#8e8e8e" stroke-width="0.8"/>
<polyline points="257.3,422.3 257.5,422.5 257.7,422.7 258.1,423.0 258.4,423.4 258.8,423.8 259.1,424.4 259.5,425.2 259.9,426.0 260.3,426.8 260.7,427.5 261.0,428.3 261.3,429.3 261.6,430.1 261.9,430.6 262.2,430.5 262.5,429.8 262.8,428.4 263.1,426.8 263.4,425.1 263.7,423.8 264.0,422.8 264.3,422.0 264.6,421.2 264.9,420.6 265.2,420.1 265.5,419.7 265.8,419.4 266.1,419.3 266.4,419.3 266.7,419.4 266.9,419.6 267.2,420.1 267.5,420.7 267.8,421.2 268.1,421.6 268.5,421.9 269.0,422.1 269.4,422.3 269.9,422.4 270.4,422.3 270.8,422.1 271.3,421.7 271.7,421.2 272.2,420.7 272.6,420.1 273.1,419.4 273.5,418.6 274.0,417.8 274.4,417.0 274.8,416.4 275.3,415.9 275.7,415.6 276.2,415.4 276.6,415.1 277.1,414.9 277.5,414.6 278.0,414.3 278.5,414.0 278.9,413.8 279.3,413.7 279.7,413.8 280.0,413.9 280.2,414.2 280.5,414.5 280.8,414.9 281.1,415.4 281.4,415.9 281.7,416.5 282.0,417.2 282.3,417.9 282.6,418.7 282.9,419.6 283.2,420.5 283.5,421.2 283.8,421.6 284.1,421.5 284.3,421.0 284.6,420.3 284.9,419.7 285.3,419.4 285.7,419.3 286.1,419.4 286.6,419.6 287.0,419.8 287.5,420.1 288.0,420.5 288.4,421.1 288.9,421.7 289.3,422.2 289.7,422.3 290.1,422.1 290.4,421.6 290.7,420.9 290.9,420.1 291.2,419.4 291.5,418.5 291.8,417.4 292.1,416.4 292.4,415.5 292.7,414.9 293.0,414.7 293.3,414.9 293.6,415.2 293.9,415.5 294.2,415.6 294.6,415.6 295.0,415.4 295.5,415.2 296.0,415.0 296.4,414.9 296.9,414.9 297.3,414.9 297.8,415.0 298.2,415.0 298.7,414.9 299.1,414.7 299.6,414.3 300.1,414.0 300.5,413.6 300.9,413.4 301.2,413.2 301.5,413.1 301.8,413.1 302.1,413.1 302.4,413.1 302.8,413.2 303.2,413.4 303.7,413.6 304.2,413.9 304.6,414.1 305.1,414.4 305.6,414.7 306.0,415.1 306.5,415.4 306.9,415.6 307.2,415.8 307.5,415.8 307.8,415.9 308.1,416.1 308.3,416.4 308.6,417.0 308.9,417.9 309.2,418.8 309.5,419.6 309.8,420.1 310.1,420.1 310.4,419.8 310.7,419.4 311.0,418.9 311.3,418.6 311.6,418.4 311.9,418.2 312.2,418.0 312.5,417.9 312.8,417.9 313.1,418.0 313.4,418.4 313.7,418.8 314.0,419.1 314.3,419.4 314.6,419.5 314.9,419.5 315.2,419.6 315.5,419.5 315.8,419.4 316.1,419.1 316.4,418.7 316.6,418.3 316.9,417.9 317.3,417.6 317.7,417.3 318.1,417.1 318.6,416.8 319.1,416.6 319.5,416.4 320.0,416.1 320.4,415.7 320.9,415.3 321.3,415.0 321.7,414.9 322.2,415.1 322.6,415.4 323.1,415.9 323.5,416.3 324.0,416.4 324.4,416.1 324.9,415.6 325.3,414.9 325.8,414.4 326.2,414.1 326.7,414.2 327.1,414.5 327.6,414.9 328.0,415.3 328.4,415.6 328.9,416.0 329.3,416.4 329.8,416.7 330.2,417.0 330.7,417.1 331.1,417.0 331.6,416.7 332.0,416.4 332.5,416.0 332.9,415.6 333.4,415.3 333.8,415.0 334.3,414.7 334.7,414.4 335.1,414.1 335.6,413.9 336.0,413.8 336.5,413.7 336.9,413.5 337.4,413.4 337.8,413.3 338.3,413.1 338.7,413.0 339.2,412.8 339.6,412.7 340.1,412.5 340.5,412.3 341.0,412.2 341.5,412.0 341.8,411.9 342.2,411.8 342.5,411.8 342.8,411.8 343.1,411.8 343.3,411.9 343.6,412.1 343.9,412.4 344.2,412.7 344.5,413.1 344.8,413.4 345.2,413.7 345.7,414.1 346.1,414.5 346.6,414.7 347.1,414.9 347.5,414.9 348.0,414.7 348.4,414.4 348.8,414.2 349.3,414.1 349.7,414.2 350.2,414.4 350.6,414.7 351.1,414.9 351.5,414.9 352.0,414.7 352.5,414.3 353.0,413.9 353.4,413.5 353.8,413.4 353.9,413.5 353.9,413.8 353.9,414.2 353.9,414.6 354.0,414.9 354.3,415.1 354.7,415.2 355.2,415.4 355.8,415.5 356.2,415.6 356.7,415.8 357.1,416.0 357.6,416.1 358.0,416.3 358.5,416.4 358.9,416.4 359.4,416.4 359.8,416.3 360.3,416.3 360.7,416.4 361.1,416.5 361.6,416.8 362.0,417.0 362.5,417.3 362.9,417.6 363.4,417.8 363.8,418.2 364.3,418.4 364.7,418.6 365.2,418.6 365.6,418.4 366.1,417.9 366.6,417.4 367.0,416.8 367.4,416.4 367.7,416.0 368.1,415.6 368.3,415.2 368.6,415.0 368.9,414.9 369.2,415.0 369.4,415.4 369.7,415.8 370.0,416.2 370.4,416.4 370.8,416.4 371.2,416.3 371.7,416.1 372.2,415.9 372.6,415.6 373.1,415.3 373.5,415.0 374.0,414.6 374.4,414.3 374.8,414.1 375.3,414.2 375.7,414.3 376.2,414.5 376.6,414.8 377.1,414.9 377.5,414.9 378.0,415.0 378.4,415.0 378.9,414.9 379.3,414.9 379.8,414.8 380.2,414.7 380.7,414.5 381.1,414.3 381.5,414.1 382.0,413.9 382.5,413.7 382.9,413.5 383.4,413.3 383.8,413.1 384.1,413.0 384.4,412.8 384.7,412.7 385.0,412.6 385.3,412.7 385.6,412.8 385.8,413.0 386.1,413.2 386.4,413.5 386.8,413.7 387.2,413.9 387.6,414.2 388.1,414.4 388.5,414.7 389.0,414.9 389.4,415.1 389.9,415.2 390.4,415.4 390.8,415.5 391.2,415.6 391.6,415.8 391.8,415.9 392.1,416.0 392.4,416.1 392.7,416.1 393.1,415.9 393.6,415.7 394.0,415.4 394.5,415.1 394.9,414.9 395.4,414.7 395.8,414.6 396.3,414.4 396.7,414.3 397.2,414.1 397.6,414.0 398.1,413.8 398.5,413.7 399.0,413.5 399.4,413.4 399.9,413.2 400.3,413.0 400.8,412.8 401.2,412.7 401.6,412.7 402.1,412.7 402.5,412.8 403.0,412.9 403.4,413.1 403.9,413.4 404.3,413.8 404.8,414.2 405.2,414.7 405.7,415.2 406.1,415.6 406.6,416.0 407.0,416.3 407.5,416.6 407.9,416.9 408.3,417.1 408.8,417.3 409.2,417.3 409.7,417.4 410.1,417.5 410.6,417.6 411.0,417.8 411.5,418.0 411.9,418.3 412.4,418.5 412.8,418.6 413.3,418.6 413.7,418.5 414.2,418.3 414.6,418.1 415.0,417.9 415.5,417.6 415.9,417.3 416.4,417.0 416.8,416.8 417.3,416.7 417.7,416.7 418.2,416.8 418.6,417.0 419.1,417.3 419.5,417.6 420.0,417.9 420.5,418.4 420.9,418.8 421.4,419.2 421.7,419.4 422.0,419.3 422.2,419.0 422.4,418.7 422.6,418.3 422.8,417.9 423.0,417.5 423.2,417.0 423.4,416.5 423.7,416.0 424.0,415.6 424.4,415.3 424.8,415.0 425.3,414.7 425.8,414.4 426.2,414.1 426.7,413.8 427.1,413.5 427.6,413.2 428.0,412.9 428.4,412.7 428.9,412.4 429.3,412.1 429.8,411.8 430.2,411.6 430.7,411.6 431.1,411.8 431.6,412.2 432.0,412.6 432.5,413.1 432.9,413.4 433.4,413.6 433.8,413.8 434.3,414.0 434.7,414.1 435.1,414.1 435.6,414.1 436.0,414.0 436.5,413.8 436.9,413.7 437.4,413.7 437.8,413.8 438.3,414.0 438.7,414.2 439.2,414.4 439.6,414.6 440.1,414.7 440.5,414.8 441.0,414.9 441.4,414.9 441.8,414.9 442.3,414.8 442.7,414.6 443.2,414.4 443.6,414.3 444.1,414.1 444.5,414.1 445.0,414.1 445.4,414.2 445.9,414.2 446.3,414.1 446.8,414.0 447.2,413.9 447.7,413.7 448.1,413.5 448.6,413.4 449.0,413.3 449.4,413.3 449.9,413.3 450.3,413.3 450.8,413.4 451.3,413.6 451.8,414.0 452.3,414.3 452.7,414.7 453.0,414.9" fill="none" stroke="#4848e0" stroke-width="0.75" stroke-linejoin="round" />
<polyline points="257.3,423.8 257.4,423.2 257.7,422.3 257.9,421.2 258.2,420.2 258.5,419.4 258.7,418.8 259.0,418.3 259.3,418.0 259.7,417.6 260.0,417.1 260.2,416.6 260.5,416.0 260.8,415.4 261.1,414.8 261.4,414.1 261.8,413.5 262.1,412.9 262.5,412.3 262.9,411.7 263.2,411.2 263.6,410.7 264.0,410.4 264.4,410.0 264.8,409.8 265.2,409.7 265.6,409.7 266.0,410.0 266.5,410.2 266.9,410.4 267.4,410.4 267.8,410.1 268.3,409.6 268.7,409.1 269.1,408.5 269.6,408.2 270.2,408.0 270.8,408.0 271.4,408.1 272.0,408.2 272.6,408.2 273.2,408.2 273.8,408.2 274.4,408.2 275.0,408.2 275.6,408.2 276.2,408.1 276.8,408.0 277.4,407.9 278.0,407.8 278.6,407.7 279.1,407.7 279.5,407.6 279.9,407.5 280.4,407.4 280.8,407.4 281.2,407.5 281.7,407.7 282.1,407.8 282.6,408.0 283.0,408.2 283.5,408.4 283.9,408.6 284.4,408.8 284.8,409.0 285.3,409.2 285.7,409.5 286.2,409.8 286.6,410.0 287.1,410.3 287.5,410.4 287.9,410.5 288.4,410.5 288.8,410.5 289.3,410.5 289.7,410.4 290.2,410.3 290.7,410.1 291.1,410.0 291.6,409.8 292.0,409.7 292.3,409.6 292.6,409.5 292.9,409.4 293.2,409.5 293.5,409.7 293.7,410.1 294.0,410.7 294.3,411.4 294.6,412.1 294.9,412.7 295.3,413.2 295.8,413.6 296.3,414.1 296.7,414.5 297.2,414.9 297.6,415.2 298.1,415.5 298.5,415.8 299.0,416.0 299.4,416.4 299.8,416.8 300.2,417.2 300.6,417.7 301.0,418.2 301.3,418.6 301.7,419.1 302.1,419.5 302.4,420.0 302.8,420.4 303.1,420.8 303.6,421.3 304.0,421.9 304.5,422.4 305.0,422.8 305.4,423.1 305.7,423.1 306.0,423.1 306.3,422.9 306.6,422.6 306.9,422.3 307.2,422.0 307.5,421.5 307.8,421.1 308.1,420.6 308.3,420.1 308.6,419.6 308.9,419.2 309.2,418.7 309.5,418.3 309.8,417.9 310.1,417.5 310.4,417.2 310.7,416.9 311.0,416.7 311.3,416.4 311.6,416.0 311.9,415.6 312.2,415.3 312.5,415.0 312.8,414.9 313.1,415.0 313.4,415.3 313.7,415.6 314.0,416.0 314.3,416.4 314.6,416.7 314.9,417.0 315.2,417.3 315.5,417.6 315.8,417.9 316.1,418.1 316.4,418.3 316.6,418.5 316.9,418.6 317.3,418.6 317.7,418.6 318.1,418.5 318.6,418.3 319.1,418.1 319.5,417.9 320.0,417.5 320.4,417.1 320.9,416.6 321.3,416.1 321.7,415.6 322.2,415.2 322.6,414.7 323.1,414.3 323.5,413.8 324.0,413.4 324.4,413.0 324.9,412.6 325.3,412.2 325.8,411.9 326.2,411.6 326.7,411.4 327.1,411.3 327.6,411.2 328.0,411.2 328.4,411.2 328.9,411.3 329.4,411.5 329.8,411.7 330.3,411.9 330.7,411.9 331.0,411.8 331.3,411.5 331.6,411.2 331.8,410.8 332.2,410.4 332.6,410.0 333.0,409.4 333.5,408.9 333.9,408.5 334.4,408.2 334.9,408.1 335.3,408.3 335.7,408.5 336.2,408.7 336.6,408.9 337.1,409.1 337.5,409.3 338.0,409.5 338.4,409.6 338.9,409.7 339.3,409.7 339.8,409.6 340.2,409.5 340.7,409.3 341.1,409.2 341.6,409.1 342.0,408.9 342.4,408.8 342.9,408.7 343.3,408.6 343.8,408.7 344.2,408.9 344.7,409.2 345.1,409.4 345.6,409.7 346.0,409.9 346.5,410.2 346.9,410.5 347.4,410.8 347.8,411.2 348.3,411.6 348.7,412.1 349.1,412.5 349.6,413.0 350.0,413.4 350.5,413.8 351.0,414.1 351.4,414.4 351.9,414.6 352.3,414.6 352.7,414.4 353.1,413.9 353.4,413.4 353.7,412.9 354.0,412.7 354.2,412.7 354.2,412.9 354.3,413.1 354.3,413.4 354.5,413.4 354.8,413.2 355.1,412.9 355.4,412.5 355.8,412.2 356.2,411.9 356.6,411.8 357.1,411.7 357.5,411.7 358.0,411.7 358.5,411.6 358.9,411.5 359.4,411.4 359.8,411.3 360.3,411.2 360.7,411.2 361.1,411.2 361.6,411.2 362.0,411.3 362.5,411.4 362.9,411.6 363.4,411.8 363.8,412.1 364.3,412.4 364.7,412.8 365.2,413.1 365.6,413.5 366.1,413.9 366.6,414.3 367.0,414.6 367.4,414.9 367.7,415.0 368.1,415.1 368.3,415.1 368.6,415.1 368.9,414.9 369.2,414.6 369.4,414.2 369.7,413.7 370.0,413.2 370.4,412.7 370.8,412.1 371.3,411.4 371.7,410.8 372.2,410.2 372.6,409.7 372.9,409.3 373.2,409.0 373.5,408.8 373.8,408.7 374.1,408.6 374.5,408.6 374.9,408.7 375.4,408.9 375.9,409.0 376.3,409.2 376.8,409.5 377.2,409.8 377.7,410.1 378.1,410.4 378.6,410.7 379.0,410.9 379.5,411.1 379.9,411.3 380.4,411.5 380.8,411.6 381.2,411.7 381.7,411.8 382.1,411.9 382.6,412.0 383.0,411.9 383.5,411.8 384.0,411.5 384.4,411.2 384.9,410.9 385.3,410.7 385.6,410.5 385.9,410.3 386.1,410.2 386.4,410.1 386.8,410.1 387.2,410.3 387.6,410.7 388.1,411.2 388.5,411.6 389.0,411.9 389.4,412.1 389.9,412.3 390.3,412.4 390.8,412.5 391.2,412.7 391.7,412.8 392.1,412.9 392.6,413.0 393.0,413.1 393.5,413.1 393.9,413.1 394.4,412.9 394.8,412.8 395.2,412.7 395.7,412.7 396.1,412.7 396.6,412.8 397.0,412.9 397.5,413.1 397.9,413.1 398.4,413.1 398.8,413.0 399.3,412.9 399.7,412.8 400.2,412.7 400.6,412.5 401.1,412.4 401.5,412.2 401.9,412.2 402.4,412.2 402.8,412.4 403.3,412.6 403.7,412.9 404.2,413.3 404.6,413.7 405.1,414.1 405.5,414.7 406.0,415.2 406.4,415.7 406.9,416.1 407.3,416.4 407.8,416.6 408.2,416.8 408.6,417.0 409.1,417.1 409.5,417.2 410.0,417.3 410.4,417.4 410.9,417.5 411.3,417.6 411.8,417.8 412.2,418.0 412.7,418.3 413.1,418.5 413.6,418.6 414.0,418.6 414.5,418.5 414.9,418.3 415.3,418.1 415.8,417.9 416.2,417.6 416.7,417.2 417.1,416.8 417.6,416.5 418.0,416.4 418.5,416.5 418.9,416.7 419.3,417.1 419.8,417.5 420.3,417.9 420.8,418.4 421.3,419.0 421.9,419.5 422.4,420.0 422.8,420.1 423.1,419.8 423.3,419.2 423.5,418.5 423.7,417.8 424.0,417.1 424.4,416.6 424.8,416.2 425.3,415.7 425.8,415.3 426.2,414.9 426.7,414.5 427.1,414.2 427.6,413.8 428.0,413.5 428.4,413.1 428.9,412.7 429.3,412.3 429.8,411.9 430.2,411.5 430.7,411.2 431.1,410.8 431.6,410.5 432.0,410.2 432.5,409.9 432.9,409.7 433.4,409.5 433.8,409.4 434.3,409.3 434.7,409.2 435.1,409.2 435.6,409.3 436.0,409.5 436.5,409.7 436.9,410.0 437.4,410.1 437.8,410.2 438.3,410.2 438.7,410.3 439.2,410.3 439.6,410.4 440.1,410.6 440.5,410.9 441.0,411.2 441.4,411.5 441.8,411.6 442.3,411.6 442.7,411.6 443.2,411.5 443.6,411.3 444.1,411.2 444.5,411.0 445.0,410.7 445.4,410.5 445.9,410.3 446.3,410.1 446.8,410.0 447.2,410.0 447.7,410.0 448.1,410.1 448.6,410.1 449.0,410.2 449.4,410.2 449.9,410.3 450.3,410.5 450.8,410.7 451.3,411.2 451.8,411.8 452.3,412.4 452.7,413.0 453.0,413.4" fill="none" stroke="#e04848" stroke-width="0.75" stroke-linejoin="round" />
<text font-size="5.90" text-anchor="middle" fill="#1a1a1a" stroke="#1a1a1a" stroke-width="0.22" font-family="'Liberation Sans', Arial, Helvetica, sans-serif" transform="translate(257.00 469.10) scale(1 1.100)" >0</text>
<text font-size="5.90" text-anchor="middle" fill="#1a1a1a" stroke="#1a1a1a" stroke-width="0.22" font-family="'Liberation Sans', Arial, Helvetica, sans-serif" transform="translate(276.80 469.10) scale(1 1.100)" >1</text>
<text font-size="5.90" text-anchor="middle" fill="#1a1a1a" stroke="#1a1a1a" stroke-width="0.22" font-family="'Liberation Sans', Arial, Helvetica, sans-serif" transform="translate(296.60 469.10) scale(1 1.100)" >2</text>
<text font-size="5.90" text-anchor="middle" fill="#1a1a1a" stroke="#1a1a1a" stroke-width="0.22" font-family="'Liberation Sans', Arial, Helvetica, sans-serif" transform="translate(316.40 469.10) scale(1 1.100)" >3</text>
<text font-size="5.90" text-anchor="middle" fill="#1a1a1a" stroke="#1a1a1a" stroke-width="0.22" font-family="'Liberation Sans', Arial, Helvetica, sans-serif" transform="translate(336.20 469.10) scale(1 1.100)" >4</text>
<text font-size="5.90" text-anchor="middle" fill="#1a1a1a" stroke="#1a1a1a" stroke-width="0.22" font-family="'Liberation Sans', Arial, Helvetica, sans-serif" transform="translate(356.00 469.10) scale(1 1.100)" >5</text>
<text font-size="5.90" text-anchor="middle" fill="#1a1a1a" stroke="#1a1a1a" stroke-width="0.22" font-family="'Liberation Sans', Arial, Helvetica, sans-serif" transform="translate(375.80 469.10) scale(1 1.100)" >6</text>
<text font-size="5.90" text-anchor="middle" fill="#1a1a1a" stroke="#1a1a1a" stroke-width="0.22" font-family="'Liberation Sans', Arial, Helvetica, sans-serif" transform="translate(395.60 469.10) scale(1 1.100)" >7</text>
<text font-size="5.90" text-anchor="middle" fill="#1a1a1a" stroke="#1a1a1a" stroke-width="0.22" font-family="'Liberation Sans', Arial, Helvetica, sans-serif" transform="translate(415.40 469.10) scale(1 1.100)" >8</text>
<text font-size="5.90" text-anchor="middle" fill="#1a1a1a" stroke="#1a1a1a" stroke-width="0.22" font-family="'Liberation Sans', Arial, Helvetica, sans-serif" transform="translate(435.20 469.10) scale(1 1.100)" >9</text>
<text font-size="5.90" text-anchor="end" fill="#1a1a1a" stroke="#1a1a1a" stroke-width="0.22" font-family="'Liberation Sans', Arial, Helvetica, sans-serif" transform="translate(255.20 406.80) scale(1 1.100)" >1</text>
<text font-size="5.90" text-anchor="end" fill="#1a1a1a" stroke="#1a1a1a" stroke-width="0.22" font-family="'Liberation Sans', Arial, Helvetica, sans-serif" transform="translate(255.20 421.02) scale(1 1.100)" >0.5</text>
<text font-size="5.90" text-anchor="end" fill="#1a1a1a" stroke="#1a1a1a" stroke-width="0.22" font-family="'Liberation Sans', Arial, Helvetica, sans-serif" transform="translate(255.20 435.25) scale(1 1.100)" >0</text>
<text font-size="5.90" text-anchor="end" fill="#1a1a1a" stroke="#1a1a1a" stroke-width="0.22" font-family="'Liberation Sans', Arial, Helvetica, sans-serif" transform="translate(255.20 449.48) scale(1 1.100)" >-0.5</text>
<text font-size="5.90" text-anchor="end" fill="#1a1a1a" stroke="#1a1a1a" stroke-width="0.22" font-family="'Liberation Sans', Arial, Helvetica, sans-serif" transform="translate(255.20 463.70) scale(1 1.100)" >-1</text>
<text font-size="7.20" text-anchor="middle" fill="#1a1a1a" stroke="#1a1a1a" stroke-width="0.22" font-family="'Liberation Sans', Arial, Helvetica, sans-serif" transform="translate(355.70 477.80) scale(1 1.100)">t<tspan font-size="5.4" dy="3.3">start</tspan><tspan font-size="7.2" dy="-3.6"> (s)</tspan></text>
<text font-size="8.65" text-anchor="middle" fill="#1a1a1a" stroke="#1a1a1a" stroke-width="0.22" font-family="'Liberation Sans', Arial, Helvetica, sans-serif" transform="translate(355.50 398.80) scale(1 1.100)" >Windowed correlation (1s)</text>
<text x="0" y="0" font-size="6.70" text-anchor="middle" fill="#1a1a1a" stroke="#1a1a1a" stroke-width="0.22" font-family="'Liberation Sans', Arial, Helvetica, sans-serif" transform="translate(240.00 432.75) rotate(-90) scale(1.090 1)">correlation</text>
<rect x="390.41" y="441.5" width="61.60" height="17.1" fill="#ffffff" stroke="#777" stroke-width="0.7"/>
<line x1="394.41" y1="446.40" x2="412.41" y2="446.40" stroke="#4848e0" stroke-width="0.7"/>
<text font-size="5.90" text-anchor="start" fill="#1a1a1a" stroke="#1a1a1a" stroke-width="0.22" font-family="'Liberation Sans', Arial, Helvetica, sans-serif" transform="translate(415.01 448.50) scale(1 1.100)" >Unprocessed</text>
<line x1="394.41" y1="454.00" x2="412.41" y2="454.00" stroke="#e04848" stroke-width="0.7"/>
<text font-size="5.90" text-anchor="start" fill="#1a1a1a" stroke="#1a1a1a" stroke-width="0.22" font-family="'Liberation Sans', Arial, Helvetica, sans-serif" transform="translate(415.01 456.10) scale(1 1.100)" >Processed</text>
<text font-size="11.20" text-anchor="middle" fill="#4a4a4a" stroke="#4a4a4a" stroke-width="0.00" font-family="'Liberation Serif', 'Times New Roman', serif" transform="translate(350.60 504.20) scale(1 1.100)" >(b) P2</text>
<polyline points="484.1,48.7 484.2,49.7 484.4,51.1 484.7,52.7 485.0,54.4 485.3,56.1 485.7,57.6 486.2,59.0 486.8,60.4 487.4,61.8 488.1,63.1 488.8,64.2 489.4,65.1 490.1,66.0 490.9,67.1 491.7,67.9 492.4,68.4 493.1,68.3 493.6,67.3 494.1,65.3 494.4,62.4 494.7,59.0 494.9,55.1 495.2,51.1 495.4,47.2 495.6,43.1 495.8,38.4 496.0,33.5 496.1,29.0 496.3,25.3 496.4,22.7 496.6,21.3 496.8,21.0 497.0,21.4 497.2,22.3 497.4,23.6 497.6,24.9 497.9,26.5 498.2,28.6 498.6,31.0 499.0,33.5 499.4,36.0 499.9,38.3 500.4,40.4 501.1,42.4 501.7,44.4 502.4,46.3 503.0,48.3 503.6,50.2 504.0,52.2 504.4,54.3 504.7,56.3 505.0,58.2 505.4,59.9 505.8,61.4 506.4,62.5 507.0,63.3 507.6,63.9 508.3,64.3 509.0,64.7 509.5,65.1 510.1,65.7 510.6,66.4 511.2,67.1 511.7,67.5 512.1,67.3 512.5,66.3 512.9,64.3 513.1,61.6 513.4,58.3 513.6,54.6 513.8,50.9 514.0,47.2 514.3,43.3 514.6,38.9 514.9,34.4 515.1,30.1 515.4,26.6 515.7,24.1 515.9,22.9 516.0,22.6 516.2,23.0 516.4,23.9 516.6,25.1 516.8,26.4 517.1,27.9 517.4,29.7 517.7,31.9 518.1,34.3 518.6,36.9 519.2,39.8 520.0,43.1 521.0,47.1 522.1,51.3 523.2,55.4 524.2,58.8 525.2,61.4 526.0,62.8 526.9,63.4 527.7,63.4 528.5,63.1 529.1,62.8 529.6,62.9 530.0,63.3 530.3,64.0 530.4,64.8 530.5,65.2 530.7,65.2 530.8,64.3 531.1,62.6 531.3,60.1 531.6,57.1 531.9,53.8 532.1,50.5 532.3,47.2 532.5,43.8 532.7,39.9 532.9,36.0 533.0,32.3 533.2,29.2 533.4,27.1 533.5,26.1 533.7,25.9 533.9,26.3 534.1,27.2 534.3,28.3 534.6,29.4 534.9,30.6 535.2,32.1 535.6,33.8 536.1,35.7 536.5,37.7 537.1,39.8 537.7,42.1 538.5,44.7 539.3,47.4 540.1,50.1 540.8,52.6 541.6,54.7 542.2,56.4 542.9,57.9 543.6,59.1 544.2,60.2 544.8,61.1 545.3,61.8 545.7,62.5 546.2,63.1 546.5,63.5 546.9,63.6 547.2,63.3 547.5,62.4 547.8,60.8 548.1,58.6 548.3,56.0 548.5,53.1 548.7,50.1 549.0,47.2 549.3,44.2 549.6,40.7 549.9,37.2 550.2,33.9 550.5,31.2 550.8,29.4 551.0,28.4 551.2,28.2 551.3,28.5 551.5,29.3 551.7,30.3 552.0,31.6 552.4,33.2 552.8,35.4 553.3,37.8 553.8,40.4 554.4,42.8 555.0,45.0 555.6,46.9 556.4,48.6 557.1,50.2 557.9,51.8 558.7,53.3 559.4,54.7 560.1,56.0 560.8,57.3 561.4,58.5 562.0,59.6 562.6,60.6 563.1,61.4 563.7,62.2 564.3,63.0 564.8,63.8 565.3,64.2 565.7,64.1 566.1,63.3 566.5,61.7 566.7,59.3 567.0,56.4 567.2,53.3 567.4,50.1 567.6,47.2 567.9,44.3 568.1,41.2 568.4,38.1 568.6,35.2 568.9,32.8 569.1,31.1 569.3,30.3 569.5,30.1 569.6,30.4 569.8,31.1 570.0,32.0 570.3,33.1 570.6,34.4 571.0,36.2 571.5,38.2 571.9,40.3 572.4,42.4 572.8,44.2 573.3,45.9 573.7,47.6 574.2,49.1 574.7,50.6 575.2,52.0 575.8,53.2 576.5,54.2 577.3,55.1 578.1,55.8 578.9,56.4 579.7,57.0 580.3,57.6 580.7,58.2 581.0,58.8 581.3,59.2 581.5,59.7 581.7,60.1 582.0,60.6 582.3,61.1 582.7,61.7 583.1,62.2 583.5,62.7 583.8,63.2 584.0,63.6 584.1,64.0 584.1,64.3 584.1,64.6 584.0,64.8 584.1,65.0 584.2,65.1 584.6,65.2 585.1,65.5 585.6,65.6 586.2,65.5 586.8,65.0 587.2,63.9 587.5,62.0 587.8,59.6 588.0,56.7 588.2,53.5 588.5,50.3 588.7,47.2 589.0,44.0 589.3,40.4 589.6,36.7 589.9,33.3 590.2,30.5 590.5,28.6 590.7,27.6 590.9,27.4 591.1,27.7 591.2,28.5 591.4,29.6 591.7,30.8 592.0,32.5 592.3,34.6 592.6,37.0 593.0,39.6 593.4,42.1 593.9,44.2 594.5,46.2 595.2,48.0 595.9,49.8 596.7,51.5 597.5,53.1 598.4,54.7 599.3,56.3 600.3,57.9 601.4,59.4 602.4,60.8 603.4,62.0 604.3,62.9 605.2,63.4 606.1,63.6 606.9,63.5 607.6,63.4 608.3,63.3 608.8,63.3 609.1,63.7 609.3,64.3 609.4,64.9 609.4,65.3 609.4,65.2 609.5,64.3 609.8,62.6 610.0,60.1 610.2,57.2 610.5,53.9 610.8,50.5 611.0,47.2 611.3,43.7 611.5,39.6 611.8,35.4 612.0,31.5 612.3,28.3 612.5,26.1 612.7,25.0 612.9,24.9 613.1,25.3 613.2,26.3 613.4,27.4 613.7,28.6 614.0,29.9 614.4,31.6 614.8,33.5 615.2,35.6 615.7,37.7 616.2,39.8 616.9,42.0 617.6,44.3 618.4,46.7 619.2,49.1 620.0,51.3 620.7,53.2 621.4,54.8 622.1,56.4 622.7,57.7 623.3,58.9 623.9,59.8 624.4,60.6 624.9,61.1 625.2,61.3 625.6,61.2 625.9,61.1 626.2,61.2 626.7,61.4 627.2,61.9 627.9,62.5 628.6,63.3 629.3,64.0 629.9,64.6 630.4,65.1 630.7,65.6 630.8,66.1 630.9,66.6 630.9,66.8 631.0,66.4 631.1,65.4 631.3,63.4 631.6,60.7 631.8,57.5 632.1,54.0 632.4,50.5 632.6,47.2 632.9,43.8 633.1,40.1 633.4,36.4 633.6,32.9 633.9,30.1 634.1,28.2 634.3,27.3 634.5,27.2 634.6,27.8 634.8,28.7 635.0,29.8 635.3,30.8 635.6,31.9 636.0,33.0 636.3,34.3 636.7,35.8 637.2,37.6 637.8,39.8 638.6,42.6 639.5,46.1 640.4,49.9 641.4,53.6 642.3,56.8 643.0,59.1 643.7,60.4 644.2,60.9 644.6,61.0 645.1,60.8 645.5,60.7 646.0,60.9 646.6,61.6 647.3,62.4 647.9,63.3 648.6,64.1 649.2,64.9 649.7,65.4 650.2,66.0 650.6,66.7 651.0,67.4 651.3,67.6 651.7,67.1 652.0,65.5 652.3,62.7 652.6,58.6 652.9,53.9 653.2,48.8 653.5,44.0 653.8,39.8 654.1,36.0 654.3,32.1 654.6,28.5 654.9,25.2 655.2,22.6 655.4,20.7 655.6,19.8 655.8,19.6 655.9,20.0 656.1,20.9 656.3,22.1 656.6,23.4 657.0,25.0 657.4,27.0 657.8,29.2 658.3,31.7 658.8,34.3 659.4,36.8 660.1,39.4 660.8,42.2 661.6,45.0 662.4,47.9 663.1,50.6 663.9,53.2 664.6,55.6 665.3,58.1 666.1,60.5 666.8,62.7 667.4,64.5 668.1,65.8 668.7,66.6 669.3,66.9 669.8,66.8 670.4,66.5 670.9,66.3 671.3,66.3 671.8,66.7 672.2,67.4 672.6,68.1 672.9,68.5 673.3,68.4 673.6,67.3 673.9,65.3 674.1,62.5 674.3,59.2 674.6,55.4 674.8,51.3 675.1,47.2 675.3,42.5 675.7,37.0 676.0,31.3 676.3,25.9 676.6,21.3 676.8,18.2 677.1,16.6 677.3,16.2 677.4,16.7 677.6,17.7 677.8,19.0 678.0,20.4 678.4,22.2 678.8,24.6 679.2,27.3 679.7,29.9 680.0,32.2 680.3,33.8" fill="none" stroke="#4c4cc8" stroke-width="0.8" stroke-linejoin="round" />
<rect x="483.50" y="13.40" width="197.00" height="59.70" fill="none" stroke="#8e8e8e" stroke-width="0.9"/>
<line x1="503.20" y1="73.10" x2="503.20" y2="71.50" stroke="#8e8e8e" stroke-width="0.8"/>
<line x1="503.20" y1="13.40" x2="503.20" y2="15.00" stroke="#8e8e8e" stroke-width="0.8"/>
<line x1="522.90" y1="73.10" x2="522.90" y2="71.50" stroke="#8e8e8e" stroke-width="0.8"/>
<line x1="522.90" y1="13.40" x2="522.90" y2="15.00" stroke="#8e8e8e" stroke-width="0.8"/>
<line x1="542.60" y1="73.10" x2="542.60" y2="71.50" stroke="#8e8e8e" stroke-width="0.8"/>
<line x1="542.60" y1="13.40" x2="542.60" y2="15.00" stroke="#8e8e8e" stroke-width="0.8"/>
<line x1="562.30" y1="73.10" x2="562.30" y2="71.50" stroke="#8e8e8e" stroke-width="0.8"/>
<line x1="562.30" y1="13.40" x2="562.30" y2="15.00" stroke="#8e8e8e" stroke-width="0.8"/>
<line x1="582.00" y1="73.10" x2="582.00" y2="71.50" stroke="#8e8e8e" stroke-width="0.8"/>
<line x1="582.00" y1="13.40" x2="582.00" y2="15.00" stroke="#8e8e8e" stroke-width="0.8"/>
<line x1="601.70" y1="73.10" x2="601.70" y2="71.50" stroke="#8e8e8e" stroke-width="0.8"/>
<line x1="601.70" y1="13.40" x2="601.70" y2="15.00" stroke="#8e8e8e" stroke-width="0.8"/>
<line x1="621.40" y1="73.10" x2="621.40" y2="71.50" stroke="#8e8e8e" stroke-width="0.8"/>
<line x1="621.40" y1="13.40" x2="621.40" y2="15.00" stroke="#8e8e8e" stroke-width="0.8"/>
<line x1="641.10" y1="73.10" x2="641.10" y2="71.50" stroke="#8e8e8e" stroke-width="0.8"/>
<line x1="641.10" y1="13.40" x2="641.10" y2="15.00" stroke="#8e8e8e" stroke-width="0.8"/>
<line x1="660.80" y1="73.10" x2="660.80" y2="71.50" stroke="#8e8e8e" stroke-width="0.8"/>
<line x1="660.80" y1="13.40" x2="660.80" y2="15.00" stroke="#8e8e8e" stroke-width="0.8"/>
<text font-size="5.90" text-anchor="middle" fill="#1a1a1a" stroke="#1a1a1a" stroke-width="0.22" font-family="'Liberation Sans', Arial, Helvetica, sans-serif" transform="translate(483.50 80.50) scale(1 1.100)" >0</text>
<text font-size="5.90" text-anchor="middle" fill="#1a1a1a" stroke="#1a1a1a" stroke-width="0.22" font-family="'Liberation Sans', Arial, Helvetica, sans-serif" transform="translate(503.20 80.50) scale(1 1.100)" >1</text>
<text font-size="5.90" text-anchor="middle" fill="#1a1a1a" stroke="#1a1a1a" stroke-width="0.22" font-family="'Liberation Sans', Arial, Helvetica, sans-serif" transform="translate(522.90 80.50) scale(1 1.100)" >2</text>
<text font-size="5.90" text-anchor="middle" fill="#1a1a1a" stroke="#1a1a1a" stroke-width="0.22" font-family="'Liberation Sans', Arial, Helvetica, sans-serif" transform="translate(542.60 80.50) scale(1 1.100)" >3</text>
<text font-size="5.90" text-anchor="middle" fill="#1a1a1a" stroke="#1a1a1a" stroke-width="0.22" font-family="'Liberation Sans', Arial, Helvetica, sans-serif" transform="translate(562.30 80.50) scale(1 1.100)" >4</text>
<text font-size="5.90" text-anchor="middle" fill="#1a1a1a" stroke="#1a1a1a" stroke-width="0.22" font-family="'Liberation Sans', Arial, Helvetica, sans-serif" transform="translate(582.00 80.50) scale(1 1.100)" >5</text>
<text font-size="5.90" text-anchor="middle" fill="#1a1a1a" stroke="#1a1a1a" stroke-width="0.22" font-family="'Liberation Sans', Arial, Helvetica, sans-serif" transform="translate(601.70 80.50) scale(1 1.100)" >6</text>
<text font-size="5.90" text-anchor="middle" fill="#1a1a1a" stroke="#1a1a1a" stroke-width="0.22" font-family="'Liberation Sans', Arial, Helvetica, sans-serif" transform="translate(621.40 80.50) scale(1 1.100)" >7</text>
<text font-size="5.90" text-anchor="middle" fill="#1a1a1a" stroke="#1a1a1a" stroke-width="0.22" font-family="'Liberation Sans', Arial, Helvetica, sans-serif" transform="translate(641.10 80.50) scale(1 1.100)" >8</text>
<text font-size="5.90" text-anchor="middle" fill="#1a1a1a" stroke="#1a1a1a" stroke-width="0.22" font-family="'Liberation Sans', Arial, Helvetica, sans-serif" transform="translate(660.80 80.50) scale(1 1.100)" >9</text>
<text font-size="7.20" text-anchor="middle" fill="#1a1a1a" stroke="#1a1a1a" stroke-width="0.22" font-family="'Liberation Sans', Arial, Helvetica, sans-serif" transform="translate(582.00 88.50) scale(1 1.100)" >t (s)</text>
<text font-size="8.65" text-anchor="middle" fill="#1a1a1a" stroke="#1a1a1a" stroke-width="0.22" font-family="'Liberation Sans', Arial, Helvetica, sans-serif" transform="translate(582.00 9.00) scale(1 1.100)" >Ground-Truth PPG</text>
<text x="0" y="0" font-size="6.70" text-anchor="middle" fill="#1a1a1a" stroke="#1a1a1a" stroke-width="0.22" font-family="'Liberation Sans', Arial, Helvetica, sans-serif" transform="translate(479.20 43.75) rotate(-90) scale(1.090 1)">absorbance (a.u.)</text>
<polyline points="482.0,151.7 482.4,150.3 482.8,150.9 483.2,149.8 483.6,151.2 484.0,146.2 484.4,153.1 484.8,148.2 485.2,145.7 485.6,146.4 486.0,145.9 486.4,150.5 486.8,150.4 487.2,142.2 487.6,146.8 488.0,143.2 488.4,135.5 488.8,131.3 489.2,134.3 489.6,136.5 490.0,141.0 490.4,139.0 490.8,132.7 491.2,137.9 491.6,131.4 492.0,137.9 492.4,131.0 492.8,132.0 493.2,131.1 493.6,131.5 494.0,136.6 494.4,134.6 494.8,133.2 495.2,132.1 495.6,127.2 496.0,132.1 496.4,134.0 496.8,134.1 497.2,138.6 497.6,133.9 498.0,132.8 498.4,131.2 498.8,128.1 499.2,136.5 499.6,139.3 500.0,136.6 500.4,134.4 500.8,130.5 501.2,140.4 501.6,144.3 502.0,142.1 502.4,144.4 502.8,146.2 503.2,144.9 503.6,139.6 504.0,143.5 504.4,142.6 504.8,136.4 505.2,140.8 505.6,138.7 506.0,142.9 506.4,144.8 506.8,139.3 507.2,135.7 507.6,145.1 508.0,141.6 508.4,144.0 508.8,134.8 509.2,141.1 509.6,143.3 510.0,142.3 510.4,134.9 510.8,135.5 511.2,133.5 511.6,137.0 512.0,138.5 512.4,139.0 512.8,138.3 513.2,146.7 513.6,142.4 514.0,142.8 514.4,138.5 514.8,140.5 515.2,137.9 515.6,132.3 516.0,134.0 516.4,137.6 516.8,130.0 517.2,132.1 517.6,133.3 518.0,132.4 518.4,129.9 518.8,125.2 519.2,127.1 519.6,133.6 520.0,135.5 520.4,142.6 520.8,132.7 521.2,138.9 521.6,138.4 522.0,131.9 522.4,135.5 522.8,139.1 523.2,137.3 523.6,138.1 524.0,139.5 524.4,134.9 524.8,137.7 525.2,133.2 525.6,132.1 526.0,134.2 526.4,130.1 526.8,132.0 527.2,135.2 527.6,129.3 528.0,127.1 528.4,128.0 528.8,123.1 529.2,126.2 529.6,118.1 530.0,123.1 530.4,119.4 530.8,119.0 531.2,127.8 531.6,120.9 532.0,129.1 532.4,125.4 532.8,127.1 533.2,119.4 533.6,126.4 534.0,128.7 534.4,125.6 534.8,126.4 535.2,133.7 535.6,125.5 536.0,122.2 536.4,120.4 536.8,122.8 537.2,121.8 537.6,121.1 538.0,126.6 538.4,122.3 538.8,127.2 539.2,132.2 539.6,126.0 540.0,132.8 540.4,135.5 540.8,125.8 541.2,125.4 541.6,123.8 542.0,120.0 542.4,127.0 542.8,122.2 543.2,132.4 543.6,137.9 544.0,129.6 544.4,132.7 544.8,126.6 545.2,133.8 545.6,129.2 546.0,131.2 546.4,132.9 546.8,135.2 547.2,133.5 547.6,135.7 548.0,135.1 548.4,137.8 548.8,134.5 549.2,138.5 549.6,132.8 550.0,137.6 550.4,145.5 550.8,140.5 551.2,136.5 551.6,140.2 552.0,135.0 552.4,131.5 552.8,133.6 553.2,138.1 553.6,137.7 554.0,136.9 554.4,134.4 554.8,133.6 555.2,140.3 555.6,136.6 556.0,132.9 556.4,129.5 556.8,131.8 557.2,143.2 557.6,131.8 558.0,134.3 558.4,134.5 558.8,133.0 559.2,132.7 559.6,129.6 560.0,130.9 560.4,139.7 560.8,133.4 561.2,139.1 561.6,132.1 562.0,136.4 562.4,137.7 562.8,139.4 563.2,132.3 563.6,136.7 564.0,135.2 564.4,131.0 564.8,134.0 565.2,129.3 565.6,129.2 566.0,131.3 566.4,123.2 566.8,131.4 567.2,129.2 567.6,128.4 568.0,132.2 568.4,136.7 568.8,134.0 569.2,139.7 569.6,133.1 570.0,133.2 570.4,142.0 570.8,138.1 571.2,138.3 571.6,131.4 572.0,135.3 572.4,133.8 572.8,135.8 573.2,135.0 573.6,139.4 574.0,134.5 574.4,134.1 574.8,132.9 575.2,140.6 575.6,134.1 576.0,132.1 576.4,131.6 576.8,132.9 577.2,130.8 577.6,134.3 578.0,133.9 578.4,134.5 578.8,133.6 579.2,137.0 579.6,136.0 580.0,138.7 580.4,140.1 580.8,141.1 581.2,133.7 581.6,138.5 582.0,137.4 582.4,141.7 582.8,134.3 583.2,136.6 583.6,139.1 584.0,137.8 584.4,140.4 584.8,134.9 585.2,138.2 585.6,130.1 586.0,128.5 586.4,137.3 586.8,134.8 587.2,135.1 587.6,134.3 588.0,135.8 588.4,131.4 588.8,138.8 589.2,135.2 589.6,140.5 590.0,138.3 590.4,132.6 590.8,134.9 591.2,142.0 591.6,137.6 592.0,136.2 592.4,138.0 592.8,136.5 593.2,137.0 593.6,140.4 594.0,142.8 594.4,150.1 594.8,149.5 595.2,159.0 595.6,162.3 596.0,164.9 596.4,159.5 596.8,150.4 597.2,148.3 597.6,146.4 598.0,144.2 598.4,146.0 598.8,144.8 599.2,152.7 599.6,150.4 600.0,147.9 600.4,143.3 600.8,148.5 601.2,146.7 601.6,143.9 602.0,142.5 602.4,137.8 602.8,145.1 603.2,142.1 603.6,149.0 604.0,140.4 604.4,139.8 604.8,145.1 605.2,142.1 605.6,143.2 606.0,142.5 606.4,142.9 606.8,150.2 607.2,149.2 607.6,150.8 608.0,143.0 608.4,142.5 608.8,139.1 609.2,145.6 609.6,140.4 610.0,148.3 610.4,151.2 610.8,152.9 611.2,146.3 611.6,152.5 612.0,146.8 612.4,145.8 612.8,143.0 613.2,149.7 613.6,151.3 614.0,145.1 614.4,145.2 614.8,146.6 615.2,154.6 615.6,149.3 616.0,143.6 616.4,139.0 616.8,141.4 617.2,146.0 617.6,147.5 618.0,141.0 618.4,140.4 618.8,141.6 619.2,137.6 619.6,145.1 620.0,137.8 620.4,142.8 620.8,133.5 621.2,134.2 621.6,138.6 622.0,135.2 622.4,139.4 622.8,136.5 623.2,132.4 623.6,137.6 624.0,138.8 624.4,131.5 624.8,143.8 625.2,140.2 625.6,140.6 626.0,131.8 626.4,134.2 626.8,134.6 627.2,138.4 627.6,130.4 628.0,131.8 628.4,128.0 628.8,132.9 629.2,134.3 629.6,127.8 630.0,130.6 630.4,133.4 630.8,136.2 631.2,133.3 631.6,130.7 632.0,128.5 632.4,129.7 632.8,131.0 633.2,133.8 633.6,133.6 634.0,139.2 634.4,135.5 634.8,131.8 635.2,140.1 635.6,138.6 636.0,136.3 636.4,133.9 636.8,130.4 637.2,132.6 637.6,137.8 638.0,131.8 638.4,129.3 638.8,132.8 639.2,132.0 639.6,131.9 640.0,130.6 640.4,129.6 640.8,119.9 641.2,125.9 641.6,121.4 642.0,128.0 642.4,127.6 642.8,128.7 643.2,131.7 643.6,129.5 644.0,133.4 644.4,133.2 644.8,131.3 645.2,129.5 645.6,129.5 646.0,130.9 646.4,132.3 646.8,132.7 647.2,140.4 647.6,131.5 648.0,130.0 648.4,124.0 648.8,123.7 649.2,124.5 649.6,125.9 650.0,122.4 650.4,130.9 650.8,124.9 651.2,130.1 651.6,119.3 652.0,125.4 652.4,125.3 652.8,124.4 653.2,125.4 653.6,124.5 654.0,124.3 654.4,118.3 654.8,122.1 655.2,117.7 655.6,127.1 656.0,126.9 656.4,126.4 656.8,125.4 657.2,126.6 657.6,133.5 658.0,132.3 658.4,125.9 658.8,128.9 659.2,119.1 659.6,116.8 660.0,120.3 660.4,119.2 660.8,121.1 661.2,124.6 661.6,134.3 662.0,124.2 662.4,127.2 662.8,128.7 663.2,128.3 663.6,131.3 664.0,133.7 664.4,124.6 664.8,128.9 665.2,127.8 665.6,130.0 666.0,125.0 666.4,125.4 666.8,125.3 667.2,135.6 667.6,136.3 668.0,137.6 668.4,132.0 668.8,139.6 669.2,139.7 669.6,138.8 670.0,141.0 670.4,146.5 670.8,146.7 671.2,145.8 671.6,148.0 672.0,144.5 672.4,145.4 672.8,143.4 673.2,142.6 673.6,138.4 674.0,135.6 674.4,132.8 674.8,128.9 675.2,136.3 675.6,131.1 676.0,131.5 676.4,137.9 676.8,135.9 677.2,127.7 677.6,135.2 678.0,136.7 678.4,141.2 678.8,141.1 679.2,141.2" fill="none" stroke="#2323c4" stroke-width="0.75" stroke-linejoin="round" />
<rect x="481.50" y="109.40" width="199.00" height="60.90" fill="none" stroke="#8e8e8e" stroke-width="0.9"/>
<line x1="501.40" y1="170.30" x2="501.40" y2="168.70" stroke="#8e8e8e" stroke-width="0.8"/>
<line x1="501.40" y1="109.40" x2="501.40" y2="111.00" stroke="#8e8e8e" stroke-width="0.8"/>
<line x1="521.30" y1="170.30" x2="521.30" y2="168.70" stroke="#8e8e8e" stroke-width="0.8"/>
<line x1="521.30" y1="109.40" x2="521.30" y2="111.00" stroke="#8e8e8e" stroke-width="0.8"/>
<line x1="541.20" y1="170.30" x2="541.20" y2="168.70" stroke="#8e8e8e" stroke-width="0.8"/>
<line x1="541.20" y1="109.40" x2="541.20" y2="111.00" stroke="#8e8e8e" stroke-width="0.8"/>
<line x1="561.10" y1="170.30" x2="561.10" y2="168.70" stroke="#8e8e8e" stroke-width="0.8"/>
<line x1="561.10" y1="109.40" x2="561.10" y2="111.00" stroke="#8e8e8e" stroke-width="0.8"/>
<line x1="581.00" y1="170.30" x2="581.00" y2="168.70" stroke="#8e8e8e" stroke-width="0.8"/>
<line x1="581.00" y1="109.40" x2="581.00" y2="111.00" stroke="#8e8e8e" stroke-width="0.8"/>
<line x1="600.90" y1="170.30" x2="600.90" y2="168.70" stroke="#8e8e8e" stroke-width="0.8"/>
<line x1="600.90" y1="109.40" x2="600.90" y2="111.00" stroke="#8e8e8e" stroke-width="0.8"/>
<line x1="620.80" y1="170.30" x2="620.80" y2="168.70" stroke="#8e8e8e" stroke-width="0.8"/>
<line x1="620.80" y1="109.40" x2="620.80" y2="111.00" stroke="#8e8e8e" stroke-width="0.8"/>
<line x1="640.70" y1="170.30" x2="640.70" y2="168.70" stroke="#8e8e8e" stroke-width="0.8"/>
<line x1="640.70" y1="109.40" x2="640.70" y2="111.00" stroke="#8e8e8e" stroke-width="0.8"/>
<line x1="660.60" y1="170.30" x2="660.60" y2="168.70" stroke="#8e8e8e" stroke-width="0.8"/>
<line x1="660.60" y1="109.40" x2="660.60" y2="111.00" stroke="#8e8e8e" stroke-width="0.8"/>
<text font-size="5.90" text-anchor="middle" fill="#1a1a1a" stroke="#1a1a1a" stroke-width="0.22" font-family="'Liberation Sans', Arial, Helvetica, sans-serif" transform="translate(481.50 177.70) scale(1 1.100)" >0</text>
<text font-size="5.90" text-anchor="middle" fill="#1a1a1a" stroke="#1a1a1a" stroke-width="0.22" font-family="'Liberation Sans', Arial, Helvetica, sans-serif" transform="translate(501.40 177.70) scale(1 1.100)" >1</text>
<text font-size="5.90" text-anchor="middle" fill="#1a1a1a" stroke="#1a1a1a" stroke-width="0.22" font-family="'Liberation Sans', Arial, Helvetica, sans-serif" transform="translate(521.30 177.70) scale(1 1.100)" >2</text>
<text font-size="5.90" text-anchor="middle" fill="#1a1a1a" stroke="#1a1a1a" stroke-width="0.22" font-family="'Liberation Sans', Arial, Helvetica, sans-serif" transform="translate(541.20 177.70) scale(1 1.100)" >3</text>
<text font-size="5.90" text-anchor="middle" fill="#1a1a1a" stroke="#1a1a1a" stroke-width="0.22" font-family="'Liberation Sans', Arial, Helvetica, sans-serif" transform="translate(561.10 177.70) scale(1 1.100)" >4</text>
<text font-size="5.90" text-anchor="middle" fill="#1a1a1a" stroke="#1a1a1a" stroke-width="0.22" font-family="'Liberation Sans', Arial, Helvetica, sans-serif" transform="translate(581.00 177.70) scale(1 1.100)" >5</text>
<text font-size="5.90" text-anchor="middle" fill="#1a1a1a" stroke="#1a1a1a" stroke-width="0.22" font-family="'Liberation Sans', Arial, Helvetica, sans-serif" transform="translate(600.90 177.70) scale(1 1.100)" >6</text>
<text font-size="5.90" text-anchor="middle" fill="#1a1a1a" stroke="#1a1a1a" stroke-width="0.22" font-family="'Liberation Sans', Arial, Helvetica, sans-serif" transform="translate(620.80 177.70) scale(1 1.100)" >7</text>
<text font-size="5.90" text-anchor="middle" fill="#1a1a1a" stroke="#1a1a1a" stroke-width="0.22" font-family="'Liberation Sans', Arial, Helvetica, sans-serif" transform="translate(640.70 177.70) scale(1 1.100)" >8</text>
<text font-size="5.90" text-anchor="middle" fill="#1a1a1a" stroke="#1a1a1a" stroke-width="0.22" font-family="'Liberation Sans', Arial, Helvetica, sans-serif" transform="translate(660.60 177.70) scale(1 1.100)" >9</text>
<text font-size="5.90" text-anchor="middle" fill="#1a1a1a" stroke="#1a1a1a" stroke-width="0.22" font-family="'Liberation Sans', Arial, Helvetica, sans-serif" transform="translate(680.50 177.70) scale(1 1.100)" >10</text>
<text font-size="7.20" text-anchor="middle" fill="#1a1a1a" stroke="#1a1a1a" stroke-width="0.22" font-family="'Liberation Sans', Arial, Helvetica, sans-serif" transform="translate(581.00 185.70) scale(1 1.100)" >t (s)</text>
<text font-size="8.65" text-anchor="middle" fill="#1a1a1a" stroke="#1a1a1a" stroke-width="0.22" font-family="'Liberation Sans', Arial, Helvetica, sans-serif" transform="translate(581.00 105.00) scale(1 1.100)" >Unprocessed PPGI</text>
<text x="0" y="0" font-size="6.70" text-anchor="middle" fill="#1a1a1a" stroke="#1a1a1a" stroke-width="0.22" font-family="'Liberation Sans', Arial, Helvetica, sans-serif" transform="translate(477.20 140.35) rotate(-90) scale(1.090 1)">absorbance (a.u.)</text>
<polyline points="481.5,243.1 481.5,242.5 481.8,238.4 482.0,234.4 482.3,231.1 482.5,229.3 482.7,229.3 482.9,230.7 483.1,232.8 483.3,235.1 483.5,237.1 483.8,238.3 484.0,238.4 484.3,237.8 484.6,236.9 485.0,236.0 485.3,235.5 485.7,235.7 486.1,237.2 486.5,239.7 487.0,242.6 487.4,245.3 487.9,247.0 488.2,247.3 488.6,245.3 488.9,241.6 489.1,237.0 489.3,232.4 489.6,228.7 489.8,226.8 490.0,227.2 490.1,229.3 490.3,232.3 490.4,235.4 490.6,237.6 490.8,238.3 491.1,237.0 491.4,234.3 491.7,230.9 492.1,227.2 492.4,224.0 492.7,221.6 493.0,220.3 493.4,219.4 493.7,219.0 494.0,218.7 494.3,218.6 494.6,218.4 495.0,218.2 495.3,217.8 495.6,217.6 495.9,217.6 496.2,218.1 496.6,219.1 496.9,220.9 497.2,223.4 497.5,226.2 497.8,229.3 498.2,232.1 498.5,234.4 498.8,236.6 499.2,238.8 499.5,240.8 499.8,242.4 500.1,243.3 500.4,243.4 500.7,242.1 500.9,239.4 501.1,236.0 501.3,232.8 501.5,230.3 501.7,229.3 501.9,230.3 502.1,232.8 502.3,236.0 502.5,239.4 502.8,242.1 503.0,243.4 503.2,243.0 503.4,241.4 503.6,239.2 503.8,236.9 504.0,235.1 504.2,234.4 504.5,235.0 504.9,236.3 505.2,238.2 505.5,240.4 505.9,242.6 506.2,244.7 506.4,247.1 506.7,250.0 507.0,253.0 507.2,255.6 507.4,257.3 507.7,257.5 508.0,255.9 508.3,252.8 508.5,248.7 508.8,244.3 509.1,240.2 509.4,237.0 509.6,234.7 509.9,232.8 510.2,231.2 510.5,229.7 510.8,228.3 511.0,226.8 511.3,224.8 511.6,222.3 511.8,219.8 512.1,217.9 512.3,217.1 512.6,217.8 512.8,221.0 513.1,226.5 513.4,233.0 513.7,239.4 514.0,244.6 514.2,247.3 514.5,247.1 514.7,245.0 515.0,241.7 515.2,237.7 515.5,233.8 515.8,230.6 516.1,227.8 516.5,224.8 516.8,221.9 517.2,219.4 517.6,217.5 517.9,216.5 518.3,216.7 518.7,217.8 519.0,219.6 519.3,221.8 519.7,224.1 520.0,226.3 520.3,228.6 520.5,231.1 520.8,233.8 521.0,236.5 521.2,239.0 521.5,241.2 521.7,243.3 521.8,245.5 522.0,247.5 522.1,249.2 522.3,250.4 522.5,250.9 522.7,250.4 523.0,248.9 523.2,246.9 523.5,244.8 523.8,243.3 524.0,242.7 524.2,243.5 524.4,245.3 524.6,247.6 524.8,249.8 525.0,251.3 525.2,251.6 525.4,250.4 525.7,248.0 525.9,244.9 526.2,241.7 526.4,238.8 526.7,236.8 526.9,235.7 527.2,235.3 527.4,235.2 527.7,235.1 527.9,234.7 528.2,233.8 528.4,232.0 528.7,229.6 528.9,227.0 529.2,224.3 529.4,222.0 529.6,220.4 529.8,219.3 529.9,218.4 530.0,217.9 530.1,217.7 530.3,218.1 530.4,218.9 530.6,220.7 530.8,223.6 531.0,227.0 531.2,230.2 531.4,232.7 531.6,233.8 531.8,233.3 532.0,231.6 532.1,229.1 532.3,226.4 532.5,223.8 532.6,221.9 532.8,220.3 532.9,218.6 533.0,217.0 533.1,215.9 533.2,215.5 533.4,215.9 533.6,217.7 533.8,220.8 534.1,224.5 534.3,228.3 534.6,231.6 534.9,233.8 535.1,234.7 535.4,235.0 535.6,234.7 535.9,234.1 536.1,233.5 536.3,233.0 536.6,232.8 536.8,232.6 537.1,232.3 537.3,232.0 537.6,231.5 537.8,230.8 538.1,229.6 538.3,227.8 538.6,225.9 538.8,224.3 539.1,223.3 539.3,223.4 539.6,225.0 539.8,227.9 540.1,231.5 540.3,235.2 540.6,238.1 540.8,239.7 541.1,239.9 541.3,239.2 541.6,237.7 541.8,235.9 542.1,234.0 542.3,232.3 542.5,230.4 542.7,227.9 542.8,225.4 543.0,223.1 543.2,221.6 543.3,221.1 543.5,222.1 543.7,224.2 543.9,227.0 544.1,230.1 544.3,233.0 544.5,235.3 544.8,237.0 545.0,238.6 545.3,240.1 545.5,241.3 545.8,242.2 546.0,242.7 546.3,242.9 546.5,242.8 546.8,242.4 547.0,241.8 547.3,240.9 547.5,239.7 547.7,238.0 547.9,235.5 548.1,232.8 548.3,230.3 548.5,228.4 548.7,227.8 548.9,228.8 549.2,231.0 549.4,234.0 549.7,237.0 549.9,239.6 550.2,241.2 550.4,241.5 550.7,240.8 551.0,239.6 551.2,238.5 551.5,237.9 551.7,238.2 551.9,240.1 552.0,243.2 552.2,246.7 552.4,250.0 552.5,252.4 552.7,253.1 552.9,251.6 553.2,248.4 553.4,244.2 553.7,239.9 554.0,236.2 554.2,233.8 554.5,233.1 554.7,233.5 555.0,234.5 555.2,235.6 555.5,236.3 555.7,236.0 556.0,234.6 556.2,232.5 556.4,229.9 556.7,227.3 556.9,225.0 557.2,223.4 557.4,222.4 557.7,221.7 557.9,221.4 558.2,221.3 558.4,221.5 558.7,221.9 558.9,222.6 559.2,223.7 559.4,225.0 559.7,226.5 559.9,228.0 560.2,229.3 560.4,230.6 560.7,232.0 560.9,233.3 561.2,234.6 561.4,235.8 561.7,236.8 561.9,237.5 562.2,238.1 562.4,238.6 562.7,239.0 562.9,239.4 563.1,239.7 563.4,240.2 563.6,240.9 563.9,241.5 564.1,241.8 564.4,241.8 564.6,241.2 564.9,239.8 565.1,237.8 565.4,235.3 565.6,232.8 565.9,230.4 566.1,228.6 566.4,227.2 566.6,226.1 566.9,225.2 567.1,224.4 567.4,223.8 567.6,223.4 567.9,222.9 568.1,222.4 568.4,222.0 568.6,222.0 568.9,222.3 569.1,223.4 569.4,225.3 569.6,228.1 569.8,231.4 570.1,234.7 570.3,237.6 570.6,239.7 570.8,240.9 571.1,241.4 571.3,241.5 571.6,241.4 571.8,241.5 572.1,242.0 572.3,243.1 572.6,244.6 572.9,246.3 573.1,247.8 573.4,248.7 573.6,248.7 573.7,247.5 573.8,245.3 573.9,242.5 574.0,239.6 574.2,237.0 574.3,235.3 574.5,234.4 574.8,234.2 575.0,234.3 575.3,234.5 575.5,234.4 575.8,233.8 576.1,232.4 576.3,230.4 576.6,228.1 576.8,225.9 577.0,224.2 577.3,223.4 577.5,223.4 577.8,224.2 578.0,225.4 578.3,226.8 578.5,228.2 578.8,229.3 579.0,230.1 579.3,230.7 579.5,231.2 579.8,231.8 580.0,232.7 580.3,233.8 580.5,235.5 580.7,237.7 580.9,240.2 581.1,242.4 581.3,244.1 581.5,244.9 581.6,244.5 581.7,243.1 581.7,241.2 581.8,239.2 581.9,237.5 582.0,236.8 582.2,237.0 582.4,238.0 582.6,239.4 582.8,240.9 583.0,242.1 583.2,242.7 583.4,242.8 583.5,242.6 583.7,242.2 583.9,241.5 584.1,240.7 584.2,239.7 584.4,238.6 584.6,237.3 584.7,235.7 584.9,234.1 585.1,232.4 585.3,230.8 585.5,229.0 585.7,227.0 585.9,224.9 586.1,223.0 586.3,221.4 586.5,220.4 586.7,220.0 586.9,220.1 587.1,220.6 587.3,221.2 587.5,221.7 587.7,221.9 587.8,221.7 588.0,221.3 588.2,220.8 588.3,220.3 588.5,220.1 588.7,220.4 588.9,221.2 589.2,222.5 589.4,224.1 589.7,225.7 589.9,227.0 590.2,227.8 590.4,228.1 590.7,228.1 590.9,227.8 591.2,227.3 591.4,226.8 591.7,226.3 591.9,225.7 592.2,224.9 592.4,224.1 592.7,223.3 592.9,222.7 593.2,222.6 593.4,222.8 593.7,223.1 593.9,223.7 594.2,224.6 594.4,225.9 594.7,227.8 594.9,230.4 595.0,233.7 595.2,237.5 595.4,241.4 595.5,245.2 595.7,248.7 595.9,252.2 596.0,256.2 596.1,260.0 596.3,263.3 596.4,265.7 596.6,266.5 596.8,265.6 596.9,263.1 597.1,259.7 597.3,255.7 597.5,251.9 597.6,248.7 597.8,245.7 598.0,242.4 598.1,239.3 598.3,236.5 598.5,234.6 598.7,233.8 598.9,234.6 599.1,237.0 599.3,240.1 599.5,243.3 599.7,245.9 599.9,247.2 600.1,246.9 600.3,245.7 600.4,243.9 600.6,241.8 600.8,239.8 601.1,238.2 601.3,237.0 601.5,235.8 601.8,234.6 602.0,233.6 602.3,232.8 602.5,232.3 602.8,232.3 603.1,232.7 603.3,233.4 603.6,234.0 603.8,234.2 604.0,233.8 604.2,232.5 604.4,230.5 604.6,228.2 604.7,225.8 604.9,223.6 605.1,221.9 605.3,220.6 605.6,219.4 605.8,218.4 606.1,217.7 606.3,217.4 606.6,217.4 606.8,217.8 607.0,218.4 607.1,219.4 607.3,220.8 607.5,222.6 607.6,224.8 607.8,228.2 607.9,232.8 608.1,237.9 608.2,242.5 608.3,245.9 608.5,247.2 608.7,245.9 608.8,242.6 609.0,238.0 609.2,233.0 609.4,228.4 609.5,224.8 609.7,222.3 609.9,219.9 610.1,217.9 610.2,216.4 610.4,215.4 610.6,215.2 610.8,215.8 611.0,217.2 611.2,219.2 611.4,221.6 611.6,224.0 611.8,226.3 611.9,228.8 612.0,231.8 612.2,234.8 612.3,237.7 612.4,239.9 612.5,241.2 612.7,241.3 612.8,240.4 613.0,238.9 613.2,237.3 613.4,235.9 613.6,235.3 613.8,235.4 614.0,235.9 614.2,236.8 614.4,237.8 614.6,238.8 614.8,239.7 615.0,240.8 615.1,242.0 615.3,243.3 615.5,244.4 615.7,245.3 615.9,245.7 616.2,245.7 616.4,245.4 616.7,244.9 617.0,244.0 617.2,242.8 617.4,241.2 617.6,238.9 617.8,235.9 618.0,232.5 618.1,229.2 618.3,226.5 618.5,224.8 618.7,224.5 619.0,225.1 619.2,226.2 619.5,227.6 619.7,228.8 620.0,229.3 620.2,229.2 620.3,228.7 620.5,227.9 620.7,227.2 620.8,226.6 621.0,226.3 621.2,226.6 621.4,227.2 621.6,228.0 621.8,228.8 622.0,229.3 622.2,229.3 622.4,228.8 622.7,227.9 622.9,226.7 623.2,225.5 623.5,224.3 623.7,223.4 623.9,222.4 624.1,221.4 624.3,220.4 624.5,219.7 624.7,219.6 624.9,220.4 625.1,222.3 625.2,225.1 625.4,228.6 625.5,232.2 625.7,235.5 625.9,238.2 626.1,240.6 626.4,242.9 626.6,244.9 626.9,246.5 627.2,247.3 627.4,247.2 627.7,245.5 627.9,242.4 628.2,238.6 628.4,234.7 628.7,231.4 628.9,229.3 629.2,228.7 629.4,229.1 629.6,230.2 629.9,231.3 630.1,232.2 630.4,232.3 630.6,231.6 630.9,230.4 631.1,228.9 631.4,227.3 631.6,225.9 631.9,224.8 632.1,224.0 632.4,223.2 632.6,222.6 632.9,222.2 633.1,222.1 633.4,222.6 633.6,223.7 633.9,225.2 634.1,227.1 634.4,229.3 634.6,231.5 634.9,233.8 635.1,236.3 635.4,239.4 635.6,242.6 635.9,245.4 636.1,247.6 636.3,248.7 636.5,248.3 636.7,246.8 636.9,244.6 637.0,242.1 637.2,239.8 637.4,238.2 637.6,237.3 637.8,236.7 638.0,236.2 638.2,235.9 638.4,235.6 638.6,235.3 638.8,235.0 639.1,235.0 639.3,235.0 639.6,234.8 639.8,234.2 640.1,233.0 640.3,230.9 640.6,227.8 640.8,224.4 641.1,221.0 641.3,218.3 641.6,216.7 641.8,216.2 642.1,216.4 642.3,217.3 642.6,218.6 642.8,220.2 643.0,221.9 643.3,223.8 643.5,226.1 643.8,228.7 644.0,231.4 644.3,234.2 644.5,236.8 644.8,239.5 645.1,242.7 645.4,245.8 645.8,248.6 646.1,250.6 646.3,251.6 646.6,251.4 646.8,250.0 647.0,248.0 647.1,245.6 647.3,243.3 647.5,241.2 647.7,239.4 647.9,237.4 648.1,235.5 648.3,233.6 648.5,232.0 648.7,230.8 648.9,230.0 649.0,229.6 649.2,229.5 649.4,229.5 649.6,229.5 649.7,229.3 650.0,228.9 650.2,228.4 650.5,227.8 650.7,227.4 651.0,227.4 651.2,227.8 651.5,229.0 651.8,230.9 652.0,233.1 652.3,235.3 652.5,237.1 652.7,238.2 652.9,238.6 653.0,238.6 653.1,238.2 653.2,237.5 653.3,236.5 653.5,235.3 653.7,233.5 653.9,231.0 654.2,228.3 654.5,225.6 654.7,223.4 655.0,221.9 655.2,221.2 655.4,220.9 655.6,221.1 655.8,221.6 656.0,222.4 656.2,223.4 656.3,224.6 656.5,226.1 656.7,227.9 656.8,229.9 657.0,231.9 657.2,233.8 657.4,236.0 657.6,238.5 657.8,241.1 658.0,243.4 658.2,245.1 658.4,245.7 658.6,245.2 658.8,243.7 659.0,241.6 659.2,239.1 659.5,236.4 659.7,233.8 660.0,230.9 660.3,227.4 660.7,223.7 661.0,220.3 661.4,217.6 661.7,215.9 661.9,215.5 662.2,216.0 662.4,217.1 662.7,218.7 662.9,220.3 663.1,221.9 663.4,223.5 663.6,225.5 663.9,227.5 664.1,229.5 664.4,231.2 664.6,232.3 664.9,232.5 665.1,232.0 665.4,231.1 665.7,230.3 665.9,230.1 666.1,230.8 666.3,233.1 666.6,236.7 666.8,240.9 666.9,244.8 667.1,247.6 667.3,248.7 667.5,247.3 667.7,243.9 667.8,239.5 668.0,235.0 668.2,231.3 668.4,229.3 668.6,229.1 668.8,230.0 669.1,231.6 669.3,233.8 669.6,236.1 669.8,238.2 670.1,240.5 670.3,243.2 670.6,246.0 670.8,248.8 671.1,251.2 671.3,253.1 671.6,254.6 671.8,255.9 672.1,256.8 672.3,257.4 672.6,257.4 672.8,256.9 673.1,255.6 673.3,253.5 673.6,251.0 673.8,248.3 674.1,245.4 674.3,242.7 674.5,240.1 674.7,237.3 674.9,234.5 675.1,231.7 675.3,229.0 675.5,226.3 675.7,223.6 675.9,220.7 676.1,217.8 676.3,215.3 676.5,213.3 676.7,212.2 676.9,212.1 677.1,212.8 677.4,214.1 677.6,215.7 677.8,217.4 678.0,218.9 678.2,220.2 678.4,221.4 678.6,222.8 678.7,224.2 678.9,225.9 679.1,227.8 679.3,230.3 679.5,233.3 679.7,236.6 680.0,239.7 680.1,242.3 680.3,244.2" fill="none" stroke="#4c4cc8" stroke-width="0.8" stroke-linejoin="round" />
<rect x="481.50" y="206.90" width="199.00" height="61.10" fill="none" stroke="#8e8e8e" stroke-width="0.9"/>
<line x1="501.40" y1="268.00" x2="501.40" y2="266.40" stroke="#8e8e8e" stroke-width="0.8"/>
<line x1="501.40" y1="206.90" x2="501.40" y2="208.50" stroke="#8e8e8e" stroke-width="0.8"/>
<line x1="521.30" y1="268.00" x2="521.30" y2="266.40" stroke="#8e8e8e" stroke-width="0.8"/>
<line x1="521.30" y1="206.90" x2="521.30" y2="208.50" stroke="#8e8e8e" stroke-width="0.8"/>
<line x1="541.20" y1="268.00" x2="541.20" y2="266.40" stroke="#8e8e8e" stroke-width="0.8"/>
<line x1="541.20" y1="206.90" x2="541.20" y2="208.50" stroke="#8e8e8e" stroke-width="0.8"/>
<line x1="561.10" y1="268.00" x2="561.10" y2="266.40" stroke="#8e8e8e" stroke-width="0.8"/>
<line x1="561.10" y1="206.90" x2="561.10" y2="208.50" stroke="#8e8e8e" stroke-width="0.8"/>
<line x1="581.00" y1="268.00" x2="581.00" y2="266.40" stroke="#8e8e8e" stroke-width="0.8"/>
<line x1="581.00" y1="206.90" x2="581.00" y2="208.50" stroke="#8e8e8e" stroke-width="0.8"/>
<line x1="600.90" y1="268.00" x2="600.90" y2="266.40" stroke="#8e8e8e" stroke-width="0.8"/>
<line x1="600.90" y1="206.90" x2="600.90" y2="208.50" stroke="#8e8e8e" stroke-width="0.8"/>
<line x1="620.80" y1="268.00" x2="620.80" y2="266.40" stroke="#8e8e8e" stroke-width="0.8"/>
<line x1="620.80" y1="206.90" x2="620.80" y2="208.50" stroke="#8e8e8e" stroke-width="0.8"/>
<line x1="640.70" y1="268.00" x2="640.70" y2="266.40" stroke="#8e8e8e" stroke-width="0.8"/>
<line x1="640.70" y1="206.90" x2="640.70" y2="208.50" stroke="#8e8e8e" stroke-width="0.8"/>
<line x1="660.60" y1="268.00" x2="660.60" y2="266.40" stroke="#8e8e8e" stroke-width="0.8"/>
<line x1="660.60" y1="206.90" x2="660.60" y2="208.50" stroke="#8e8e8e" stroke-width="0.8"/>
<text font-size="5.90" text-anchor="middle" fill="#1a1a1a" stroke="#1a1a1a" stroke-width="0.22" font-family="'Liberation Sans', Arial, Helvetica, sans-serif" transform="translate(481.50 275.40) scale(1 1.100)" >0</text>
<text font-size="5.90" text-anchor="middle" fill="#1a1a1a" stroke="#1a1a1a" stroke-width="0.22" font-family="'Liberation Sans', Arial, Helvetica, sans-serif" transform="translate(501.40 275.40) scale(1 1.100)" >1</text>
<text font-size="5.90" text-anchor="middle" fill="#1a1a1a" stroke="#1a1a1a" stroke-width="0.22" font-family="'Liberation Sans', Arial, Helvetica, sans-serif" transform="translate(521.30 275.40) scale(1 1.100)" >2</text>
<text font-size="5.90" text-anchor="middle" fill="#1a1a1a" stroke="#1a1a1a" stroke-width="0.22" font-family="'Liberation Sans', Arial, Helvetica, sans-serif" transform="translate(541.20 275.40) scale(1 1.100)" >3</text>
<text font-size="5.90" text-anchor="middle" fill="#1a1a1a" stroke="#1a1a1a" stroke-width="0.22" font-family="'Liberation Sans', Arial, Helvetica, sans-serif" transform="translate(561.10 275.40) scale(1 1.100)" >4</text>
<text font-size="5.90" text-anchor="middle" fill="#1a1a1a" stroke="#1a1a1a" stroke-width="0.22" font-family="'Liberation Sans', Arial, Helvetica, sans-serif" transform="translate(581.00 275.40) scale(1 1.100)" >5</text>
<text font-size="5.90" text-anchor="middle" fill="#1a1a1a" stroke="#1a1a1a" stroke-width="0.22" font-family="'Liberation Sans', Arial, Helvetica, sans-serif" transform="translate(600.90 275.40) scale(1 1.100)" >6</text>
<text font-size="5.90" text-anchor="middle" fill="#1a1a1a" stroke="#1a1a1a" stroke-width="0.22" font-family="'Liberation Sans', Arial, Helvetica, sans-serif" transform="translate(620.80 275.40) scale(1 1.100)" >7</text>
<text font-size="5.90" text-anchor="middle" fill="#1a1a1a" stroke="#1a1a1a" stroke-width="0.22" font-family="'Liberation Sans', Arial, Helvetica, sans-serif" transform="translate(640.70 275.40) scale(1 1.100)" >8</text>
<text font-size="5.90" text-anchor="middle" fill="#1a1a1a" stroke="#1a1a1a" stroke-width="0.22" font-family="'Liberation Sans', Arial, Helvetica, sans-serif" transform="translate(660.60 275.40) scale(1 1.100)" >9</text>
<text font-size="5.90" text-anchor="middle" fill="#1a1a1a" stroke="#1a1a1a" stroke-width="0.22" font-family="'Liberation Sans', Arial, Helvetica, sans-serif" transform="translate(680.50 275.40) scale(1 1.100)" >10</text>
<text font-size="7.20" text-anchor="middle" fill="#1a1a1a" stroke="#1a1a1a" stroke-width="0.22" font-family="'Liberation Sans', Arial, Helvetica, sans-serif" transform="translate(581.00 283.40) scale(1 1.100)" >t (s)</text>
<text font-size="8.65" text-anchor="middle" fill="#1a1a1a" stroke="#1a1a1a" stroke-width="0.22" font-family="'Liberation Sans', Arial, Helvetica, sans-serif" transform="translate(581.00 202.00) scale(1 1.100)" >Processed PPGI</text>
<text x="0" y="0" font-size="6.70" text-anchor="middle" fill="#1a1a1a" stroke="#1a1a1a" stroke-width="0.22" font-family="'Liberation Sans', Arial, Helvetica, sans-serif" transform="translate(477.20 237.95) rotate(-90) scale(1.090 1)">absorbance (a.u.)</text>
<line x1="484.20" y1="364.30" x2="682.87" y2="364.30" stroke="#8e8e8e" stroke-width="0.9"/>
<line x1="484.20" y1="304.20" x2="484.20" y2="364.30" stroke="#8e8e8e" stroke-width="0.9"/>
<line x1="519.30" y1="364.30" x2="519.30" y2="362.70" stroke="#8e8e8e" stroke-width="0.8"/>
<line x1="554.40" y1="364.30" x2="554.40" y2="362.70" stroke="#8e8e8e" stroke-width="0.8"/>
<line x1="589.50" y1="364.30" x2="589.50" y2="362.70" stroke="#8e8e8e" stroke-width="0.8"/>
<line x1="624.60" y1="364.30" x2="624.60" y2="362.70" stroke="#8e8e8e" stroke-width="0.8"/>
<line x1="659.70" y1="364.30" x2="659.70" y2="362.70" stroke="#8e8e8e" stroke-width="0.8"/>
<line x1="484.20" y1="334.25" x2="485.80" y2="334.25" stroke="#8e8e8e" stroke-width="0.8"/>
<line x1="484.20" y1="304.20" x2="485.80" y2="304.20" stroke="#8e8e8e" stroke-width="0.8"/>
<polyline points="484.2,364.3 491.2,363.7 498.2,364.3 505.3,357.1 512.3,337.3 519.3,304.2 526.3,327.0 533.3,356.5 540.4,364.3 547.4,364.3 554.4,364.3 561.4,364.3 568.4,364.3 575.5,360.7 582.5,361.9 589.5,363.1 596.5,361.3 603.5,359.5 610.6,363.7 617.6,363.7 624.6,363.7 631.6,364.3 638.6,360.7 645.7,363.7 652.7,363.7 659.7,364.3 666.7,361.9 673.7,361.9 680.8,364.3" fill="none" stroke="#b0b0b0" stroke-width="0.7" stroke-linejoin="round" stroke-dasharray="0.9,0.9"/>
<rect x="482.60" y="362.70" width="3.2" height="3.2" fill="none" stroke="#b4b4b4" stroke-width="0.6"/>
<rect x="489.62" y="362.10" width="3.2" height="3.2" fill="none" stroke="#b4b4b4" stroke-width="0.6"/>
<rect x="496.64" y="362.70" width="3.2" height="3.2" fill="none" stroke="#b4b4b4" stroke-width="0.6"/>
<rect x="503.66" y="355.49" width="3.2" height="3.2" fill="none" stroke="#b4b4b4" stroke-width="0.6"/>
<rect x="510.68" y="335.65" width="3.2" height="3.2" fill="none" stroke="#b4b4b4" stroke-width="0.6"/>
<rect x="517.70" y="302.60" width="3.2" height="3.2" fill="none" stroke="#b4b4b4" stroke-width="0.6"/>
<rect x="524.72" y="325.44" width="3.2" height="3.2" fill="none" stroke="#b4b4b4" stroke-width="0.6"/>
<rect x="531.74" y="354.89" width="3.2" height="3.2" fill="none" stroke="#b4b4b4" stroke-width="0.6"/>
<rect x="538.76" y="362.70" width="3.2" height="3.2" fill="none" stroke="#b4b4b4" stroke-width="0.6"/>
<rect x="545.78" y="362.70" width="3.2" height="3.2" fill="none" stroke="#b4b4b4" stroke-width="0.6"/>
<rect x="552.80" y="362.70" width="3.2" height="3.2" fill="none" stroke="#b4b4b4" stroke-width="0.6"/>
<rect x="559.82" y="362.70" width="3.2" height="3.2" fill="none" stroke="#b4b4b4" stroke-width="0.6"/>
<rect x="566.84" y="362.70" width="3.2" height="3.2" fill="none" stroke="#b4b4b4" stroke-width="0.6"/>
<rect x="573.86" y="359.09" width="3.2" height="3.2" fill="none" stroke="#b4b4b4" stroke-width="0.6"/>
<rect x="580.88" y="360.30" width="3.2" height="3.2" fill="none" stroke="#b4b4b4" stroke-width="0.6"/>
<rect x="587.90" y="361.50" width="3.2" height="3.2" fill="none" stroke="#b4b4b4" stroke-width="0.6"/>
<rect x="594.92" y="359.69" width="3.2" height="3.2" fill="none" stroke="#b4b4b4" stroke-width="0.6"/>
<rect x="601.94" y="357.89" width="3.2" height="3.2" fill="none" stroke="#b4b4b4" stroke-width="0.6"/>
<rect x="608.96" y="362.10" width="3.2" height="3.2" fill="none" stroke="#b4b4b4" stroke-width="0.6"/>
<rect x="615.98" y="362.10" width="3.2" height="3.2" fill="none" stroke="#b4b4b4" stroke-width="0.6"/>
<rect x="623.00" y="362.10" width="3.2" height="3.2" fill="none" stroke="#b4b4b4" stroke-width="0.6"/>
<rect x="630.02" y="362.70" width="3.2" height="3.2" fill="none" stroke="#b4b4b4" stroke-width="0.6"/>
<rect x="637.04" y="359.09" width="3.2" height="3.2" fill="none" stroke="#b4b4b4" stroke-width="0.6"/>
<rect x="644.06" y="362.10" width="3.2" height="3.2" fill="none" stroke="#b4b4b4" stroke-width="0.6"/>
<rect x="651.08" y="362.10" width="3.2" height="3.2" fill="none" stroke="#b4b4b4" stroke-width="0.6"/>
<rect x="658.10" y="362.70" width="3.2" height="3.2" fill="none" stroke="#b4b4b4" stroke-width="0.6"/>
<rect x="665.12" y="360.30" width="3.2" height="3.2" fill="none" stroke="#b4b4b4" stroke-width="0.6"/>
<rect x="672.14" y="360.30" width="3.2" height="3.2" fill="none" stroke="#b4b4b4" stroke-width="0.6"/>
<rect x="679.16" y="362.70" width="3.2" height="3.2" fill="none" stroke="#b4b4b4" stroke-width="0.6"/>
<polyline points="484.2,304.2 491.2,343.9 498.2,364.3 505.3,357.1 512.3,343.9 519.3,361.9 526.3,338.5 533.3,352.3 540.4,360.1 547.4,349.9 554.4,361.9 561.4,349.9 568.4,363.1 575.5,354.7 582.5,355.9 589.5,362.5 596.5,356.5 603.5,362.5 610.6,363.1 617.6,359.5 624.6,363.1 631.6,363.7 638.6,363.7 645.7,363.7 652.7,361.3 659.7,363.7 666.7,361.3 673.7,360.1 680.8,363.7" fill="none" stroke="#2a2a2a" stroke-width="0.7" stroke-linejoin="round" />
<circle cx="484.20" cy="304.20" r="1.9" fill="none" stroke="#2a2a2a" stroke-width="0.6"/>
<circle cx="491.22" cy="343.87" r="1.9" fill="none" stroke="#2a2a2a" stroke-width="0.6"/>
<circle cx="498.24" cy="364.30" r="1.9" fill="none" stroke="#2a2a2a" stroke-width="0.6"/>
<circle cx="505.26" cy="357.09" r="1.9" fill="none" stroke="#2a2a2a" stroke-width="0.6"/>
<circle cx="512.28" cy="343.87" r="1.9" fill="none" stroke="#2a2a2a" stroke-width="0.6"/>
<circle cx="519.30" cy="361.90" r="1.9" fill="none" stroke="#2a2a2a" stroke-width="0.6"/>
<circle cx="526.32" cy="338.46" r="1.9" fill="none" stroke="#2a2a2a" stroke-width="0.6"/>
<circle cx="533.34" cy="352.28" r="1.9" fill="none" stroke="#2a2a2a" stroke-width="0.6"/>
<circle cx="540.36" cy="360.09" r="1.9" fill="none" stroke="#2a2a2a" stroke-width="0.6"/>
<circle cx="547.38" cy="349.88" r="1.9" fill="none" stroke="#2a2a2a" stroke-width="0.6"/>
<circle cx="554.40" cy="361.90" r="1.9" fill="none" stroke="#2a2a2a" stroke-width="0.6"/>
<circle cx="561.42" cy="349.88" r="1.9" fill="none" stroke="#2a2a2a" stroke-width="0.6"/>
<circle cx="568.44" cy="363.10" r="1.9" fill="none" stroke="#2a2a2a" stroke-width="0.6"/>
<circle cx="575.46" cy="354.68" r="1.9" fill="none" stroke="#2a2a2a" stroke-width="0.6"/>
<circle cx="582.48" cy="355.89" r="1.9" fill="none" stroke="#2a2a2a" stroke-width="0.6"/>
<circle cx="589.50" cy="362.50" r="1.9" fill="none" stroke="#2a2a2a" stroke-width="0.6"/>
<circle cx="596.52" cy="356.49" r="1.9" fill="none" stroke="#2a2a2a" stroke-width="0.6"/>
<circle cx="603.54" cy="362.50" r="1.9" fill="none" stroke="#2a2a2a" stroke-width="0.6"/>
<circle cx="610.56" cy="363.10" r="1.9" fill="none" stroke="#2a2a2a" stroke-width="0.6"/>
<circle cx="617.58" cy="359.49" r="1.9" fill="none" stroke="#2a2a2a" stroke-width="0.6"/>
<circle cx="624.60" cy="363.10" r="1.9" fill="none" stroke="#2a2a2a" stroke-width="0.6"/>
<circle cx="631.62" cy="363.70" r="1.9" fill="none" stroke="#2a2a2a" stroke-width="0.6"/>
<circle cx="638.64" cy="363.70" r="1.9" fill="none" stroke="#2a2a2a" stroke-width="0.6"/>
<circle cx="645.66" cy="363.70" r="1.9" fill="none" stroke="#2a2a2a" stroke-width="0.6"/>
<circle cx="652.68" cy="361.30" r="1.9" fill="none" stroke="#2a2a2a" stroke-width="0.6"/>
<circle cx="659.70" cy="363.70" r="1.9" fill="none" stroke="#2a2a2a" stroke-width="0.6"/>
<circle cx="666.72" cy="361.30" r="1.9" fill="none" stroke="#2a2a2a" stroke-width="0.6"/>
<circle cx="673.74" cy="360.09" r="1.9" fill="none" stroke="#2a2a2a" stroke-width="0.6"/>
<circle cx="680.76" cy="363.70" r="1.9" fill="none" stroke="#2a2a2a" stroke-width="0.6"/>
<polyline points="484.2,354.7 491.2,357.7 498.2,364.3 505.3,335.5 512.3,343.9 519.3,361.9 526.3,304.8 533.3,352.3 540.4,334.9 547.4,353.5 554.4,358.3 561.4,331.8 568.4,362.5 575.5,350.5 582.5,333.6 589.5,356.5 596.5,346.9 603.5,351.1 610.6,358.3 617.6,337.3 624.6,359.5 631.6,350.5 638.6,363.7 645.7,356.5 652.7,348.1 659.7,355.3 666.7,351.1 673.7,350.5 680.8,363.7" fill="none" stroke="#1a1a1a" stroke-width="0.7" stroke-linejoin="round" />
<path d="M484.20 353.18L484.20 356.18M482.90 353.93L485.50 355.43M485.50 353.93L482.90 355.43" stroke="#1a1a1a" stroke-width="0.55" fill="none"/><circle cx="484.20" cy="354.68" r="0.75" fill="#1a1a1a"/>
<path d="M491.22 356.19L491.22 359.19M489.92 356.94L492.52 358.44M492.52 356.94L489.92 358.44" stroke="#1a1a1a" stroke-width="0.55" fill="none"/><circle cx="491.22" cy="357.69" r="0.75" fill="#1a1a1a"/>
<path d="M498.24 362.80L498.24 365.80M496.94 363.55L499.54 365.05M499.54 363.55L496.94 365.05" stroke="#1a1a1a" stroke-width="0.55" fill="none"/><circle cx="498.24" cy="364.30" r="0.75" fill="#1a1a1a"/>
<path d="M505.26 333.95L505.26 336.95M503.96 334.70L506.56 336.20M506.56 334.70L503.96 336.20" stroke="#1a1a1a" stroke-width="0.55" fill="none"/><circle cx="505.26" cy="335.45" r="0.75" fill="#1a1a1a"/>
<path d="M512.28 342.37L512.28 345.37M510.98 343.12L513.58 344.62M513.58 343.12L510.98 344.62" stroke="#1a1a1a" stroke-width="0.55" fill="none"/><circle cx="512.28" cy="343.87" r="0.75" fill="#1a1a1a"/>
<path d="M519.30 360.40L519.30 363.40M518.00 361.15L520.60 362.65M520.60 361.15L518.00 362.65" stroke="#1a1a1a" stroke-width="0.55" fill="none"/><circle cx="519.30" cy="361.90" r="0.75" fill="#1a1a1a"/>
<path d="M526.32 303.30L526.32 306.30M525.02 304.05L527.62 305.55M527.62 304.05L525.02 305.55" stroke="#1a1a1a" stroke-width="0.55" fill="none"/><circle cx="526.32" cy="304.80" r="0.75" fill="#1a1a1a"/>
<path d="M533.34 350.78L533.34 353.78M532.04 351.53L534.64 353.03M534.64 351.53L532.04 353.03" stroke="#1a1a1a" stroke-width="0.55" fill="none"/><circle cx="533.34" cy="352.28" r="0.75" fill="#1a1a1a"/>
<path d="M540.36 333.35L540.36 336.35M539.06 334.10L541.66 335.60M541.66 334.10L539.06 335.60" stroke="#1a1a1a" stroke-width="0.55" fill="none"/><circle cx="540.36" cy="334.85" r="0.75" fill="#1a1a1a"/>
<path d="M547.38 351.98L547.38 354.98M546.08 352.73L548.68 354.23M548.68 352.73L546.08 354.23" stroke="#1a1a1a" stroke-width="0.55" fill="none"/><circle cx="547.38" cy="353.48" r="0.75" fill="#1a1a1a"/>
<path d="M554.40 356.79L554.40 359.79M553.10 357.54L555.70 359.04M555.70 357.54L553.10 359.04" stroke="#1a1a1a" stroke-width="0.55" fill="none"/><circle cx="554.40" cy="358.29" r="0.75" fill="#1a1a1a"/>
<path d="M561.42 330.35L561.42 333.35M560.12 331.10L562.72 332.60M562.72 331.10L560.12 332.60" stroke="#1a1a1a" stroke-width="0.55" fill="none"/><circle cx="561.42" cy="331.85" r="0.75" fill="#1a1a1a"/>
<path d="M568.44 361.00L568.44 364.00M567.14 361.75L569.74 363.25M569.74 361.75L567.14 363.25" stroke="#1a1a1a" stroke-width="0.55" fill="none"/><circle cx="568.44" cy="362.50" r="0.75" fill="#1a1a1a"/>
<path d="M575.46 348.98L575.46 351.98M574.16 349.73L576.76 351.23M576.76 349.73L574.16 351.23" stroke="#1a1a1a" stroke-width="0.55" fill="none"/><circle cx="575.46" cy="350.48" r="0.75" fill="#1a1a1a"/>
<path d="M582.48 332.15L582.48 335.15M581.18 332.90L583.78 334.40M583.78 332.90L581.18 334.40" stroke="#1a1a1a" stroke-width="0.55" fill="none"/><circle cx="582.48" cy="333.65" r="0.75" fill="#1a1a1a"/>
<path d="M589.50 354.99L589.50 357.99M588.20 355.74L590.80 357.24M590.80 355.74L588.20 357.24" stroke="#1a1a1a" stroke-width="0.55" fill="none"/><circle cx="589.50" cy="356.49" r="0.75" fill="#1a1a1a"/>
<path d="M596.52 345.37L596.52 348.37M595.22 346.12L597.82 347.62M597.82 346.12L595.22 347.62" stroke="#1a1a1a" stroke-width="0.55" fill="none"/><circle cx="596.52" cy="346.87" r="0.75" fill="#1a1a1a"/>
<path d="M603.54 349.58L603.54 352.58M602.24 350.33L604.84 351.83M604.84 350.33L602.24 351.83" stroke="#1a1a1a" stroke-width="0.55" fill="none"/><circle cx="603.54" cy="351.08" r="0.75" fill="#1a1a1a"/>
<path d="M610.56 356.79L610.56 359.79M609.26 357.54L611.86 359.04M611.86 357.54L609.26 359.04" stroke="#1a1a1a" stroke-width="0.55" fill="none"/><circle cx="610.56" cy="358.29" r="0.75" fill="#1a1a1a"/>
<path d="M617.58 335.75L617.58 338.75M616.28 336.50L618.88 338.00M618.88 336.50L616.28 338.00" stroke="#1a1a1a" stroke-width="0.55" fill="none"/><circle cx="617.58" cy="337.25" r="0.75" fill="#1a1a1a"/>
<path d="M624.60 357.99L624.60 360.99M623.30 358.74L625.90 360.24M625.90 358.74L623.30 360.24" stroke="#1a1a1a" stroke-width="0.55" fill="none"/><circle cx="624.60" cy="359.49" r="0.75" fill="#1a1a1a"/>
<path d="M631.62 348.98L631.62 351.98M630.32 349.73L632.92 351.23M632.92 349.73L630.32 351.23" stroke="#1a1a1a" stroke-width="0.55" fill="none"/><circle cx="631.62" cy="350.48" r="0.75" fill="#1a1a1a"/>
<path d="M638.64 362.20L638.64 365.20M637.34 362.95L639.94 364.45M639.94 362.95L637.34 364.45" stroke="#1a1a1a" stroke-width="0.55" fill="none"/><circle cx="638.64" cy="363.70" r="0.75" fill="#1a1a1a"/>
<path d="M645.66 354.99L645.66 357.99M644.36 355.74L646.96 357.24M646.96 355.74L644.36 357.24" stroke="#1a1a1a" stroke-width="0.55" fill="none"/><circle cx="645.66" cy="356.49" r="0.75" fill="#1a1a1a"/>
<path d="M652.68 346.57L652.68 349.57M651.38 347.32L653.98 348.82M653.98 347.32L651.38 348.82" stroke="#1a1a1a" stroke-width="0.55" fill="none"/><circle cx="652.68" cy="348.07" r="0.75" fill="#1a1a1a"/>
<path d="M659.70 353.79L659.70 356.79M658.40 354.54L661.00 356.04M661.00 354.54L658.40 356.04" stroke="#1a1a1a" stroke-width="0.55" fill="none"/><circle cx="659.70" cy="355.29" r="0.75" fill="#1a1a1a"/>
<path d="M666.72 349.58L666.72 352.58M665.42 350.33L668.02 351.83M668.02 350.33L665.42 351.83" stroke="#1a1a1a" stroke-width="0.55" fill="none"/><circle cx="666.72" cy="351.08" r="0.75" fill="#1a1a1a"/>
<path d="M673.74 348.98L673.74 351.98M672.44 349.73L675.04 351.23M675.04 349.73L672.44 351.23" stroke="#1a1a1a" stroke-width="0.55" fill="none"/><circle cx="673.74" cy="350.48" r="0.75" fill="#1a1a1a"/>
<path d="M680.76 362.20L680.76 365.20M679.46 362.95L682.06 364.45M682.06 362.95L679.46 364.45" stroke="#1a1a1a" stroke-width="0.55" fill="none"/><circle cx="680.76" cy="363.70" r="0.75" fill="#1a1a1a"/>
<text font-size="5.70" text-anchor="middle" fill="#1a1a1a" stroke="#1a1a1a" stroke-width="0.22" font-family="'Liberation Sans', Arial, Helvetica, sans-serif" transform="translate(484.20 372.00) scale(1 1.100)" >0.5</text>
<text font-size="5.70" text-anchor="middle" fill="#1a1a1a" stroke="#1a1a1a" stroke-width="0.22" font-family="'Liberation Sans', Arial, Helvetica, sans-serif" transform="translate(519.30 372.00) scale(1 1.100)" >1</text>
<text font-size="5.70" text-anchor="middle" fill="#1a1a1a" stroke="#1a1a1a" stroke-width="0.22" font-family="'Liberation Sans', Arial, Helvetica, sans-serif" transform="translate(554.40 372.00) scale(1 1.100)" >1.5</text>
<text font-size="5.70" text-anchor="middle" fill="#1a1a1a" stroke="#1a1a1a" stroke-width="0.22" font-family="'Liberation Sans', Arial, Helvetica, sans-serif" transform="translate(589.50 372.00) scale(1 1.100)" >2</text>
<text font-size="5.70" text-anchor="middle" fill="#1a1a1a" stroke="#1a1a1a" stroke-width="0.22" font-family="'Liberation Sans', Arial, Helvetica, sans-serif" transform="translate(624.60 372.00) scale(1 1.100)" >2.5</text>
<text font-size="5.70" text-anchor="middle" fill="#1a1a1a" stroke="#1a1a1a" stroke-width="0.22" font-family="'Liberation Sans', Arial, Helvetica, sans-serif" transform="translate(659.70 372.00) scale(1 1.100)" >3</text>
<text font-size="5.70" text-anchor="end" fill="#1a1a1a" stroke="#1a1a1a" stroke-width="0.22" font-family="'Liberation Sans', Arial, Helvetica, sans-serif" transform="translate(482.50 366.90) scale(1 1.100)" >0</text>
<text font-size="5.70" text-anchor="end" fill="#1a1a1a" stroke="#1a1a1a" stroke-width="0.22" font-family="'Liberation Sans', Arial, Helvetica, sans-serif" transform="translate(482.50 336.85) scale(1 1.100)" >0.5</text>
<text font-size="5.70" text-anchor="end" fill="#1a1a1a" stroke="#1a1a1a" stroke-width="0.22" font-family="'Liberation Sans', Arial, Helvetica, sans-serif" transform="translate(482.50 306.80) scale(1 1.100)" >1</text>
<text font-size="7.20" text-anchor="middle" fill="#1a1a1a" stroke="#1a1a1a" stroke-width="0.22" font-family="'Liberation Sans', Arial, Helvetica, sans-serif" transform="translate(583.53 380.30) scale(1 1.100)" >frequency (Hz)</text>
<text font-size="8.65" text-anchor="middle" fill="#1a1a1a" stroke="#1a1a1a" stroke-width="0.22" font-family="'Liberation Sans', Arial, Helvetica, sans-serif" transform="translate(583.53 299.00) scale(1 1.100)" >Power spectral density</text>
<text x="0" y="0" font-size="6.70" text-anchor="middle" fill="#1a1a1a" stroke="#1a1a1a" stroke-width="0.22" font-family="'Liberation Sans', Arial, Helvetica, sans-serif" transform="translate(469.20 334.25) rotate(-90) scale(1.090 1)">power (a.u.)</text>
<rect x="619.37" y="307.5" width="61.50" height="24.2" fill="#ffffff" stroke="#777" stroke-width="0.7"/>
<line x1="623.17" y1="311.60" x2="640.87" y2="311.60" stroke="#b0b0b0" stroke-width="0.7" stroke-dasharray="0.9,0.9"/>
<rect x="630.42" y="310.00" width="3.2" height="3.2" fill="#fff" stroke="#b4b4b4" stroke-width="0.6"/>
<text font-size="5.90" text-anchor="start" fill="#1a1a1a" stroke="#1a1a1a" stroke-width="0.22" font-family="'Liberation Sans', Arial, Helvetica, sans-serif" transform="translate(643.57 313.70) scale(1 1.100)" >PPG</text>
<line x1="623.17" y1="319.50" x2="640.87" y2="319.50" stroke="#2a2a2a" stroke-width="0.7"/>
<circle cx="632.02" cy="319.50" r="1.75" fill="#fff" stroke="#2a2a2a" stroke-width="0.6"/>
<text font-size="5.90" text-anchor="start" fill="#1a1a1a" stroke="#1a1a1a" stroke-width="0.22" font-family="'Liberation Sans', Arial, Helvetica, sans-serif" transform="translate(643.57 321.60) scale(1 1.100)" >Unprocessed</text>
<line x1="623.17" y1="327.40" x2="640.87" y2="327.40" stroke="#2a2a2a" stroke-width="0.7"/>
<path d="M632.02 325.90L632.02 328.90M630.72 326.65L633.32 328.15M633.32 326.65L630.72 328.15" stroke="#1a1a1a" stroke-width="0.55" fill="none"/><circle cx="632.02" cy="327.40" r="0.75" fill="#1a1a1a"/>
<text font-size="5.90" text-anchor="start" fill="#1a1a1a" stroke="#1a1a1a" stroke-width="0.22" font-family="'Liberation Sans', Arial, Helvetica, sans-serif" transform="translate(643.57 329.50) scale(1 1.100)" >Processed</text>
<line x1="483.70" y1="461.20" x2="679.91" y2="461.20" stroke="#8e8e8e" stroke-width="0.9"/>
<line x1="483.70" y1="404.30" x2="483.70" y2="461.20" stroke="#8e8e8e" stroke-width="0.9"/>
<line x1="503.42" y1="461.20" x2="503.42" y2="459.60" stroke="#8e8e8e" stroke-width="0.8"/>
<line x1="523.14" y1="461.20" x2="523.14" y2="459.60" stroke="#8e8e8e" stroke-width="0.8"/>
<line x1="542.86" y1="461.20" x2="542.86" y2="459.60" stroke="#8e8e8e" stroke-width="0.8"/>
<line x1="562.58" y1="461.20" x2="562.58" y2="459.60" stroke="#8e8e8e" stroke-width="0.8"/>
<line x1="582.30" y1="461.20" x2="582.30" y2="459.60" stroke="#8e8e8e" stroke-width="0.8"/>
<line x1="602.02" y1="461.20" x2="602.02" y2="459.60" stroke="#8e8e8e" stroke-width="0.8"/>
<line x1="621.74" y1="461.20" x2="621.74" y2="459.60" stroke="#8e8e8e" stroke-width="0.8"/>
<line x1="641.46" y1="461.20" x2="641.46" y2="459.60" stroke="#8e8e8e" stroke-width="0.8"/>
<line x1="661.18" y1="461.20" x2="661.18" y2="459.60" stroke="#8e8e8e" stroke-width="0.8"/>
<line x1="483.70" y1="446.98" x2="485.30" y2="446.98" stroke="#8e8e8e" stroke-width="0.8"/>
<line x1="483.70" y1="432.75" x2="485.30" y2="432.75" stroke="#8e8e8e" stroke-width="0.8"/>
<line x1="483.70" y1="418.52" x2="485.30" y2="418.52" stroke="#8e8e8e" stroke-width="0.8"/>
<line x1="483.70" y1="404.30" x2="485.30" y2="404.30" stroke="#8e8e8e" stroke-width="0.8"/>
<polyline points="483.7,416.1 484.0,416.1 484.5,416.2 485.0,416.2 485.5,416.3 486.0,416.4 486.4,416.4 486.8,416.5 487.3,416.5 487.7,416.6 488.2,416.7 488.6,416.8 489.1,416.8 489.6,416.9 490.0,417.0 490.4,417.1 490.8,417.3 491.1,417.5 491.4,417.7 491.6,417.9 491.9,417.9 492.2,417.7 492.5,417.3 492.8,417.0 493.1,416.6 493.4,416.4 493.7,416.3 494.0,416.4 494.3,416.5 494.6,416.6 494.9,416.7 495.2,416.6 495.6,416.3 496.0,416.1 496.4,416.0 496.7,416.1 496.9,416.5 497.1,417.0 497.2,417.7 497.4,418.5 497.6,419.4 497.8,420.3 498.0,421.4 498.2,422.6 498.4,423.7 498.6,424.6 498.9,425.2 499.1,425.8 499.4,426.2 499.7,426.6 500.1,426.8 500.5,426.9 500.9,426.9 501.4,426.8 501.9,426.6 502.3,426.5 502.8,426.4 503.2,426.3 503.7,426.2 504.1,426.1 504.6,426.1 505.0,426.1 505.5,426.1 505.9,426.2 506.4,426.3 506.8,426.5 507.3,426.8 507.7,427.1 508.2,427.4 508.6,427.8 509.0,428.3 509.4,428.8 509.7,429.3 510.0,429.9 510.2,430.6 510.5,431.3 510.8,432.1 511.1,432.9 511.4,433.9 511.7,434.8 512.0,435.7 512.3,436.7 512.6,437.6 512.9,438.6 513.2,439.5 513.5,440.2 513.8,440.9 514.1,441.4 514.4,441.9 514.7,442.3 515.0,442.4 515.3,442.4 515.6,442.2 515.9,441.9 516.2,441.4 516.5,440.9 516.8,440.4 517.1,439.8 517.4,439.1 517.7,438.2 518.0,437.2 518.3,435.9 518.6,434.4 518.9,432.8 519.2,431.2 519.5,429.8 519.8,428.4 520.1,427.1 520.4,425.9 520.6,424.8 520.9,423.8 521.2,423.0 521.5,422.3 521.8,421.7 522.1,421.3 522.4,420.8 522.8,420.5 523.3,420.4 523.7,420.2 524.2,420.2 524.7,420.1 525.1,420.0 525.6,420.0 526.1,420.0 526.5,420.0 526.9,420.1 527.2,420.2 527.5,420.3 527.8,420.5 528.1,420.6 528.4,420.8 528.8,421.1 529.2,421.4 529.7,421.8 530.2,422.1 530.6,422.3 531.1,422.5 531.5,422.7 532.0,422.8 532.4,422.9 532.9,423.1 533.3,423.3 533.8,423.6 534.3,423.9 534.7,424.2 535.1,424.6 535.4,424.9 535.7,425.3 536.0,425.7 536.3,426.2 536.6,426.8 536.9,427.6 537.2,428.4 537.5,429.4 537.8,430.3 538.1,431.3 538.4,432.2 538.7,433.1 539.0,434.1 539.3,434.9 539.6,435.7 539.9,436.4 540.2,437.1 540.5,437.6 540.8,438.2 541.0,438.7 541.3,439.2 541.6,439.7 541.9,440.1 542.2,440.5 542.5,440.9 542.9,441.4 543.4,441.9 543.9,442.3 544.4,442.8 544.8,443.2 545.1,443.6 545.4,444.0 545.7,444.3 546.0,444.7 546.3,445.0 546.6,445.3 546.9,445.6 547.2,445.8 547.5,446.1 547.7,446.2 548.0,446.2 548.3,446.1 548.6,445.9 548.9,445.7 549.2,445.4 549.5,445.1 549.8,444.7 550.1,444.2 550.4,443.7 550.7,443.2 551.1,442.6 551.6,442.0 552.0,441.4 552.5,440.8 553.0,440.2 553.4,439.6 553.9,439.0 554.3,438.4 554.7,437.8 555.2,437.2 555.6,436.7 556.1,436.2 556.5,435.8 557.0,435.4 557.4,435.0 557.9,434.7 558.3,434.4 558.8,434.1 559.2,433.8 559.7,433.5 560.1,433.1 560.6,432.6 561.0,432.0 561.4,431.6 561.9,431.3 562.3,431.1 562.8,431.1 563.2,431.2 563.7,431.3 564.1,431.3 564.6,431.2 565.0,431.1 565.4,430.9 565.9,430.7 566.4,430.5 566.9,430.3 567.5,430.0 568.2,429.7 568.8,429.4 569.3,429.0 569.8,428.6 570.3,428.2 570.7,427.7 571.1,427.3 571.6,426.8 572.0,426.4 572.5,425.9 572.9,425.5 573.4,425.1 573.8,424.6 574.3,423.9 574.7,423.2 575.2,422.4 575.6,421.9 576.0,421.6 576.4,421.7 576.7,422.1 577.0,422.6 577.2,423.2 577.5,423.8 577.8,424.4 578.1,425.1 578.5,425.8 578.8,426.4 579.0,426.8 579.2,426.8 579.4,426.6 579.5,426.2 579.7,426.0 580.0,426.1 580.4,426.6 580.8,427.4 581.3,428.3 581.8,429.2 582.3,429.9 582.8,430.4 583.2,430.7 583.7,431.0 584.1,431.2 584.6,431.4 585.1,431.7 585.5,431.9 586.0,432.1 586.4,432.2 586.9,432.2 587.4,432.1 587.8,431.8 588.3,431.5 588.7,431.1 589.2,430.7 589.7,430.1 590.1,429.5 590.6,428.9 591.0,428.2 591.5,427.6 592.0,427.0 592.4,426.4 592.9,425.8 593.3,425.1 593.8,424.5 594.3,423.9 594.7,423.3 595.2,422.6 595.6,422.0 596.1,421.5 596.6,420.9 597.1,420.4 597.5,419.9 598.0,419.5 598.4,419.2 598.7,418.9 599.1,418.6 599.4,418.5 599.6,418.4 599.9,418.4 600.2,418.5 600.5,418.8 600.8,419.1 601.2,419.5 601.5,419.9 601.8,420.3 602.1,420.8 602.4,421.2 602.7,421.7 603.0,422.2 603.3,422.8 603.6,423.3 603.9,423.9 604.2,424.5 604.5,425.3 604.8,426.3 605.1,427.4 605.4,428.6 605.8,429.7 606.1,430.7 606.4,431.3 606.6,431.9 606.9,432.3 607.2,432.7 607.6,433.0 608.0,433.2 608.5,433.3 608.9,433.3 609.4,433.4 609.9,433.4 610.3,433.4 610.8,433.4 611.3,433.4 611.7,433.5 612.2,433.7 612.6,434.2 613.1,434.7 613.6,435.4 614.0,436.1 614.5,436.8 614.9,437.4 615.4,438.1 615.9,438.7 616.3,439.3 616.8,439.9 617.2,440.4 617.6,440.8 618.1,441.3 618.5,441.7 619.1,442.2 619.8,442.7 620.5,443.3 621.4,443.9 622.2,444.3 622.9,444.5 623.6,444.4 624.2,444.1 624.8,443.6 625.4,443.0 626.0,442.2 626.6,441.0 627.3,439.6 627.9,438.0 628.5,436.5 629.0,435.3 629.4,434.3 629.7,433.6 630.0,432.9 630.3,432.2 630.6,431.4 631.0,430.4 631.4,429.2 631.9,428.0 632.4,426.9 632.9,426.1 633.3,425.4 633.8,425.0 634.3,424.7 634.7,424.5 635.2,424.5 635.6,424.7 636.1,425.1 636.6,425.7 637.0,426.3 637.5,426.8 637.9,427.4 638.4,428.0 638.9,428.6 639.3,429.2 639.8,429.9 640.2,430.6 640.7,431.3 641.2,432.1 641.6,432.9 642.1,433.7 642.5,434.6 643.0,435.5 643.5,436.5 643.9,437.4 644.4,438.3 644.8,439.2 645.3,440.0 645.8,440.8 646.2,441.5 646.7,442.2 647.1,442.8 647.6,443.4 648.1,443.9 648.5,444.3 649.0,444.5 649.4,444.4 649.9,444.2 650.4,443.7 650.9,443.1 651.3,442.2 651.6,440.9 651.9,439.2 652.2,437.4 652.5,435.5 652.8,433.7 653.2,431.9 653.7,430.0 654.2,428.1 654.6,426.5 655.1,425.3 655.6,424.6 656.0,424.4 656.5,424.5 656.9,424.6 657.4,424.5 657.9,424.4 658.3,424.2 658.8,424.1 659.2,423.9 659.7,423.8 660.2,423.6 660.6,423.3 661.1,423.1 661.5,423.0 662.0,423.0 662.5,423.2 662.9,423.5 663.4,424.0 663.8,424.3 664.3,424.5 664.8,424.6 665.2,424.5 665.7,424.4 666.1,424.1 666.6,423.8 667.1,423.2 667.5,422.4 668.0,421.6 668.4,420.7 668.9,419.9 669.4,419.3 669.9,418.6 670.3,418.0 670.8,417.4 671.2,416.9 671.6,416.2 671.9,415.6 672.2,415.0 672.4,414.4 672.7,414.1 673.0,413.9 673.3,413.9 673.6,414.0 673.9,414.3 674.3,414.6 674.7,415.0 675.1,415.6 675.6,416.2 676.1,416.9 676.6,417.6 677.0,418.4 677.5,419.1 678.0,419.9 678.5,420.7 678.9,421.5 679.2,422.2 679.6,422.9 679.9,423.5" fill="none" stroke="#4848e0" stroke-width="0.75" stroke-linejoin="round" />
<polyline points="483.7,413.4 484.0,413.4 484.5,413.3 485.0,413.2 485.5,413.2 486.0,413.1 486.4,413.0 486.8,412.9 487.3,412.8 487.7,412.7 488.2,412.7 488.6,412.6 489.1,412.5 489.5,412.4 490.0,412.3 490.4,412.2 490.9,412.2 491.3,412.2 491.8,412.2 492.2,412.2 492.7,412.2 493.1,412.2 493.6,412.2 494.0,412.2 494.5,412.2 494.9,412.2 495.3,412.1 495.7,412.0 496.0,411.8 496.4,411.8 496.7,411.9 496.9,412.2 497.1,412.7 497.2,413.2 497.4,414.0 497.6,414.9 497.8,416.2 498.0,417.8 498.2,419.5 498.4,421.1 498.6,422.3 498.9,423.3 499.1,424.0 499.4,424.6 499.7,425.0 500.1,425.3 500.5,425.4 500.9,425.3 501.4,425.0 501.9,424.8 502.3,424.6 502.8,424.5 503.2,424.4 503.7,424.3 504.1,424.2 504.6,424.1 505.0,424.0 505.5,423.9 505.9,423.8 506.4,423.7 506.8,423.5 507.2,423.3 507.7,423.0 508.1,422.7 508.6,422.5 509.0,422.3 509.5,422.3 510.0,422.4 510.4,422.6 510.9,422.8 511.3,423.1 511.6,423.4 511.9,423.9 512.2,424.4 512.5,424.9 512.8,425.3 513.1,425.7 513.4,426.1 513.7,426.4 513.9,426.7 514.2,426.8 514.5,426.8 514.8,426.7 515.1,426.5 515.4,426.3 515.7,426.1 516.0,425.8 516.3,425.4 516.6,425.0 516.9,424.7 517.2,424.6 517.5,424.7 517.8,425.0 518.1,425.4 518.4,425.6 518.7,425.3 519.0,424.5 519.3,423.3 519.6,421.8 519.9,420.5 520.2,419.4 520.5,418.5 520.8,417.8 521.0,417.2 521.3,416.7 521.7,416.4 522.1,416.2 522.5,416.1 523.0,416.1 523.5,416.2 523.9,416.4 524.4,416.6 524.8,416.9 525.3,417.3 525.7,417.6 526.2,417.9 526.6,417.9 527.1,417.8 527.6,417.7 528.0,417.7 528.4,417.9 528.7,418.3 529.0,418.9 529.3,419.6 529.5,420.3 529.9,420.8 530.3,421.4 530.7,421.8 531.2,422.3 531.7,422.7 532.1,423.1 532.6,423.3 533.0,423.5 533.5,423.6 533.9,423.8 534.3,424.1 534.8,424.5 535.3,425.0 535.7,425.5 536.2,426.1 536.6,426.8 536.9,427.6 537.2,428.5 537.5,429.4 537.8,430.4 538.1,431.3 538.4,432.1 538.7,432.8 539.0,433.6 539.3,434.3 539.6,435.0 539.8,435.6 540.1,436.3 540.4,436.9 540.7,437.4 541.0,438.0 541.4,438.5 541.9,438.9 542.4,439.4 542.8,439.8 543.3,440.2 543.7,440.6 544.2,440.9 544.6,441.3 545.1,441.6 545.5,442.0 546.0,442.4 546.4,442.8 546.9,443.2 547.3,443.6 547.7,443.9 548.2,444.3 548.6,444.8 548.9,445.2 549.3,445.4 549.7,445.4 550.0,445.1 550.4,444.5 550.7,443.8 551.1,443.1 551.5,442.4 551.9,441.8 552.3,441.2 552.8,440.6 553.3,440.1 553.7,439.5 554.2,438.9 554.6,438.3 555.0,437.7 555.5,437.1 555.9,436.5 556.4,435.9 556.8,435.4 557.3,434.9 557.7,434.2 558.2,433.5 558.6,432.6 559.1,431.5 559.5,430.4 560.0,429.3 560.4,428.3 560.9,427.4 561.3,426.5 561.7,425.7 562.2,425.1 562.6,424.6 563.1,424.3 563.5,424.3 564.0,424.4 564.4,424.6 564.9,424.6 565.3,424.5 565.8,424.4 566.2,424.3 566.7,424.1 567.1,423.8 567.6,423.5 568.0,423.0 568.5,422.6 568.9,422.1 569.3,421.6 569.7,421.1 570.1,420.6 570.5,420.2 570.8,419.7 571.1,419.4 571.4,419.0 571.7,418.7 572.0,418.5 572.3,418.3 572.6,418.2 573.0,418.1 573.3,418.2 573.7,418.3 574.1,418.5 574.6,418.6 575.0,418.8 575.4,419.0 575.9,419.2 576.3,419.3 576.8,419.4 577.3,419.3 577.7,419.1 578.2,418.9 578.7,418.8 579.0,418.6 579.3,418.5 579.4,418.4 579.6,418.4 579.7,418.4 580.0,418.4 580.4,418.6 580.8,418.8 581.3,419.1 581.8,419.3 582.3,419.2 582.8,418.7 583.2,417.9 583.7,416.9 584.2,416.0 584.6,415.3 585.0,414.7 585.4,414.1 585.7,413.6 586.1,413.3 586.4,413.5 586.8,414.2 587.2,415.5 587.6,417.0 588.0,418.3 588.4,419.2 588.9,419.4 589.3,419.3 589.8,419.0 590.3,418.6 590.7,418.4 591.2,418.2 591.6,418.0 592.1,417.8 592.6,417.6 593.0,417.6 593.5,417.8 593.9,418.0 594.4,418.4 594.9,418.8 595.3,419.2 595.8,419.6 596.2,420.0 596.7,420.4 597.2,420.9 597.6,421.5 598.1,422.0 598.5,422.6 599.0,423.3 599.5,423.9 599.9,424.5 600.4,425.2 600.8,425.8 601.3,426.5 601.8,427.1 602.2,427.6 602.7,428.0 603.2,428.3 603.7,428.5 604.1,428.8 604.5,429.1 604.9,429.5 605.2,430.0 605.4,430.5 605.7,431.0 606.1,431.4 606.5,431.8 606.9,432.1 607.4,432.4 607.9,432.7 608.4,433.0 608.8,433.2 609.3,433.4 609.7,433.6 610.2,433.8 610.7,434.0 611.1,434.2 611.6,434.4 612.0,434.6 612.5,434.9 613.0,435.3 613.4,435.8 613.9,436.4 614.3,437.1 614.8,437.7 615.3,438.3 615.7,438.8 616.2,439.3 616.7,439.8 617.1,440.2 617.6,440.6 618.0,441.1 618.4,441.6 618.8,442.1 619.2,442.3 619.5,442.2 619.9,441.5 620.3,440.5 620.7,439.2 621.0,437.9 621.4,436.8 621.8,435.7 622.1,434.6 622.5,433.5 622.8,432.7 623.2,432.2 623.6,432.1 624.0,432.4 624.4,432.9 624.8,433.6 625.2,434.5 625.6,435.8 625.9,437.6 626.2,439.4 626.5,441.1 626.8,442.2 627.1,442.6 627.4,442.7 627.7,442.5 628.0,442.1 628.3,441.4 628.6,440.3 628.9,438.8 629.2,437.2 629.5,435.7 629.8,434.5 630.1,433.7 630.4,433.1 630.7,432.6 631.0,432.3 631.3,432.2 631.8,432.3 632.2,432.6 632.7,433.0 633.2,433.4 633.6,433.7 634.1,433.9 634.6,434.1 635.0,434.2 635.5,434.3 635.9,434.5 636.4,434.6 636.9,434.8 637.3,434.9 637.8,435.1 638.2,435.3 638.7,435.5 639.2,435.7 639.7,435.9 640.1,436.1 640.5,436.0 640.9,435.8 641.2,435.5 641.4,435.0 641.7,434.4 642.1,433.7 642.5,432.7 642.9,431.5 643.4,430.2 643.9,429.0 644.4,428.4 644.8,428.2 645.3,428.5 645.8,428.9 646.2,429.5 646.7,429.9 647.1,430.1 647.6,430.3 648.1,430.5 648.5,430.9 649.0,431.4 649.5,432.3 650.0,433.3 650.5,434.5 650.9,435.7 651.3,436.8 651.5,438.0 651.7,439.3 651.8,440.6 651.9,441.4 652.0,441.4 652.3,440.4 652.6,438.6 652.9,436.4 653.3,434.2 653.6,432.2 653.9,430.4 654.2,428.7 654.4,427.0 654.8,425.6 655.1,424.5 655.5,423.9 656.0,423.6 656.5,423.6 656.9,423.7 657.4,423.8 657.9,423.8 658.3,424.0 658.8,424.3 659.2,424.4 659.7,424.5 660.2,424.4 660.6,424.3 661.1,424.0 661.5,423.8 662.0,423.8 662.5,423.8 662.9,423.9 663.4,424.0 663.8,424.2 664.3,424.5 664.8,424.9 665.2,425.5 665.7,426.1 666.1,426.5 666.6,426.8 667.1,426.9 667.5,426.8 668.0,426.7 668.4,426.4 668.9,426.1 669.4,425.6 669.8,425.1 670.3,424.4 670.7,423.7 671.2,423.0 671.7,422.1 672.1,421.1 672.6,420.0 673.0,419.1 673.5,418.4 674.0,418.0 674.4,417.9 674.9,417.9 675.3,417.8 675.8,417.6 676.3,417.3 676.7,416.8 677.2,416.3 677.6,415.8 678.1,415.3 678.6,414.8 679.1,414.3 679.6,413.8 679.9,413.5" fill="none" stroke="#e04848" stroke-width="0.75" stroke-linejoin="round" />
<text font-size="5.90" text-anchor="middle" fill="#1a1a1a" stroke="#1a1a1a" stroke-width="0.22" font-family="'Liberation Sans', Arial, Helvetica, sans-serif" transform="translate(483.70 469.10) scale(1 1.100)" >0</text>
<text font-size="5.90" text-anchor="middle" fill="#1a1a1a" stroke="#1a1a1a" stroke-width="0.22" font-family="'Liberation Sans', Arial, Helvetica, sans-serif" transform="translate(503.42 469.10) scale(1 1.100)" >1</text>
<text font-size="5.90" text-anchor="middle" fill="#1a1a1a" stroke="#1a1a1a" stroke-width="0.22" font-family="'Liberation Sans', Arial, Helvetica, sans-serif" transform="translate(523.14 469.10) scale(1 1.100)" >2</text>
<text font-size="5.90" text-anchor="middle" fill="#1a1a1a" stroke="#1a1a1a" stroke-width="0.22" font-family="'Liberation Sans', Arial, Helvetica, sans-serif" transform="translate(542.86 469.10) scale(1 1.100)" >3</text>
<text font-size="5.90" text-anchor="middle" fill="#1a1a1a" stroke="#1a1a1a" stroke-width="0.22" font-family="'Liberation Sans', Arial, Helvetica, sans-serif" transform="translate(562.58 469.10) scale(1 1.100)" >4</text>
<text font-size="5.90" text-anchor="middle" fill="#1a1a1a" stroke="#1a1a1a" stroke-width="0.22" font-family="'Liberation Sans', Arial, Helvetica, sans-serif" transform="translate(582.30 469.10) scale(1 1.100)" >5</text>
<text font-size="5.90" text-anchor="middle" fill="#1a1a1a" stroke="#1a1a1a" stroke-width="0.22" font-family="'Liberation Sans', Arial, Helvetica, sans-serif" transform="translate(602.02 469.10) scale(1 1.100)" >6</text>
<text font-size="5.90" text-anchor="middle" fill="#1a1a1a" stroke="#1a1a1a" stroke-width="0.22" font-family="'Liberation Sans', Arial, Helvetica, sans-serif" transform="translate(621.74 469.10) scale(1 1.100)" >7</text>
<text font-size="5.90" text-anchor="middle" fill="#1a1a1a" stroke="#1a1a1a" stroke-width="0.22" font-family="'Liberation Sans', Arial, Helvetica, sans-serif" transform="translate(641.46 469.10) scale(1 1.100)" >8</text>
<text font-size="5.90" text-anchor="middle" fill="#1a1a1a" stroke="#1a1a1a" stroke-width="0.22" font-family="'Liberation Sans', Arial, Helvetica, sans-serif" transform="translate(661.18 469.10) scale(1 1.100)" >9</text>
<text font-size="5.90" text-anchor="end" fill="#1a1a1a" stroke="#1a1a1a" stroke-width="0.22" font-family="'Liberation Sans', Arial, Helvetica, sans-serif" transform="translate(481.90 406.80) scale(1 1.100)" >1</text>
<text font-size="5.90" text-anchor="end" fill="#1a1a1a" stroke="#1a1a1a" stroke-width="0.22" font-family="'Liberation Sans', Arial, Helvetica, sans-serif" transform="translate(481.90 421.02) scale(1 1.100)" >0.5</text>
<text font-size="5.90" text-anchor="end" fill="#1a1a1a" stroke="#1a1a1a" stroke-width="0.22" font-family="'Liberation Sans', Arial, Helvetica, sans-serif" transform="translate(481.90 435.25) scale(1 1.100)" >0</text>
<text font-size="5.90" text-anchor="end" fill="#1a1a1a" stroke="#1a1a1a" stroke-width="0.22" font-family="'Liberation Sans', Arial, Helvetica, sans-serif" transform="translate(481.90 449.48) scale(1 1.100)" >-0.5</text>
<text font-size="5.90" text-anchor="end" fill="#1a1a1a" stroke="#1a1a1a" stroke-width="0.22" font-family="'Liberation Sans', Arial, Helvetica, sans-serif" transform="translate(481.90 463.70) scale(1 1.100)" >-1</text>
<text font-size="7.20" text-anchor="middle" fill="#1a1a1a" stroke="#1a1a1a" stroke-width="0.22" font-family="'Liberation Sans', Arial, Helvetica, sans-serif" transform="translate(582.01 477.80) scale(1 1.100)">t<tspan font-size="5.4" dy="3.3">start</tspan><tspan font-size="7.2" dy="-3.6"> (s)</tspan></text>
<text font-size="8.65" text-anchor="middle" fill="#1a1a1a" stroke="#1a1a1a" stroke-width="0.22" font-family="'Liberation Sans', Arial, Helvetica, sans-serif" transform="translate(581.81 398.80) scale(1 1.100)" >Windowed correlation (1s)</text>
<text x="0" y="0" font-size="6.70" text-anchor="middle" fill="#1a1a1a" stroke="#1a1a1a" stroke-width="0.22" font-family="'Liberation Sans', Arial, Helvetica, sans-serif" transform="translate(466.70 432.75) rotate(-90) scale(1.090 1)">correlation</text>
<rect x="616.31" y="441.5" width="61.60" height="17.1" fill="#ffffff" stroke="#777" stroke-width="0.7"/>
<line x1="620.31" y1="446.40" x2="638.31" y2="446.40" stroke="#4848e0" stroke-width="0.7"/>
<text font-size="5.90" text-anchor="start" fill="#1a1a1a" stroke="#1a1a1a" stroke-width="0.22" font-family="'Liberation Sans', Arial, Helvetica, sans-serif" transform="translate(640.91 448.50) scale(1 1.100)" >Unprocessed</text>
<line x1="620.31" y1="454.00" x2="638.31" y2="454.00" stroke="#e04848" stroke-width="0.7"/>
<text font-size="5.90" text-anchor="start" fill="#1a1a1a" stroke="#1a1a1a" stroke-width="0.22" font-family="'Liberation Sans', Arial, Helvetica, sans-serif" transform="translate(640.91 456.10) scale(1 1.100)" >Processed</text>
<text font-size="11.20" text-anchor="middle" fill="#4a4a4a" stroke="#4a4a4a" stroke-width="0.00" font-family="'Liberation Serif', 'Times New Roman', serif" transform="translate(577.30 504.20) scale(1 1.100)" >(c) P3</text>
</svg>
</body></html>
